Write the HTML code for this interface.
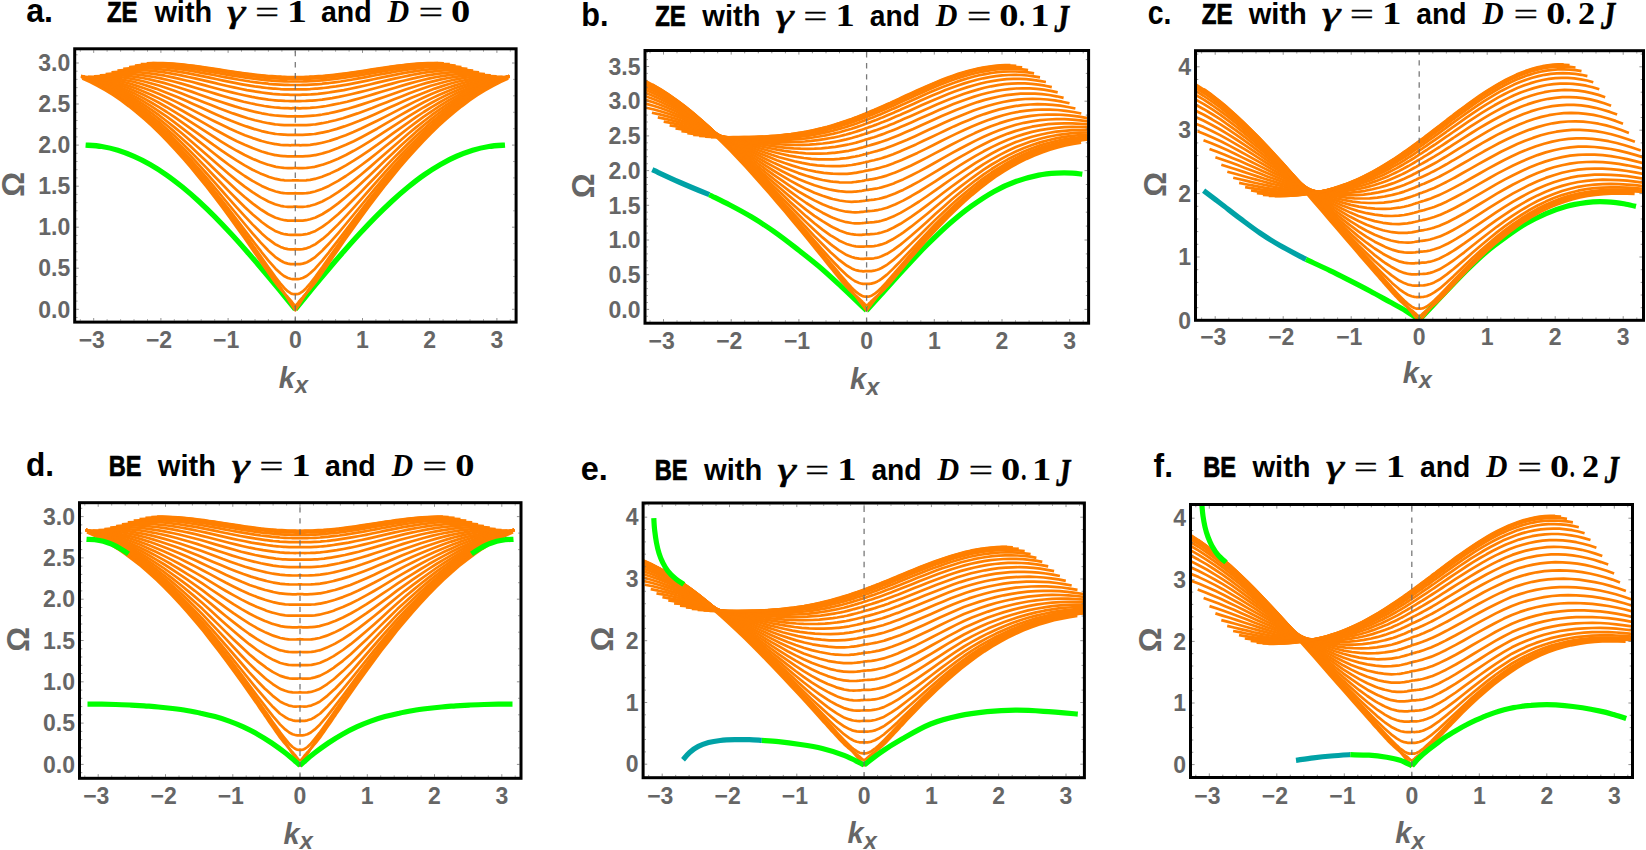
<!DOCTYPE html>
<html><head><meta charset="utf-8"><title>Magnon bands ZE BE</title>
<style>html,body{margin:0;padding:0;background:#fff}svg{display:block}.t{font-family:"Liberation Sans",sans-serif;font-weight:bold;fill:#000}.m{font-family:"Liberation Serif",serif;font-weight:bold;fill:#000}.mi{font-family:"Liberation Serif",serif;font-weight:bold;font-style:italic;fill:#000}.mr{font-family:"Liberation Serif",serif;fill:#000}.mri{font-family:"Liberation Serif",serif;font-style:italic;fill:#000}.k{font-family:"Liberation Sans",sans-serif;font-weight:bold;fill:#666}.ki{font-family:"Liberation Sans",sans-serif;font-weight:bold;font-style:italic;fill:#666}</style></head>
<body>
<svg width="1646" height="850" viewBox="0 0 1646 850">
<rect width="1646" height="850" fill="#fff"/>
<defs>
<clipPath id="cpa"><rect x="75.8" y="49.9" width="439.2" height="271.1"/></clipPath>
<clipPath id="cpb"><rect x="646.1" y="51.6" width="441.4" height="270.5"/></clipPath>
<clipPath id="cpc"><rect x="1196.6" y="51.8" width="445.8" height="267.4"/></clipPath>
<clipPath id="cpd"><rect x="80.6" y="503.8" width="439.3" height="273.4"/></clipPath>
<clipPath id="cpe"><rect x="644.2" y="504.1" width="439.1" height="272.5"/></clipPath>
<clipPath id="cpf"><rect x="1191.6" y="505.6" width="439.8" height="270.8"/></clipPath>
</defs>
<g id="panel-a">
<g clip-path="url(#cpa)" fill="none" stroke-linejoin="round">
<path d="M85.6,145.1C88.3,145.3 96.4,145.6 101.8,146.5C107.1,147.4 112.5,148.6 117.9,150.2C123.3,151.9 128.6,153.9 134,156.3C139.4,158.6 144.8,161.4 150.1,164.5C155.5,167.6 160.9,171 166.3,174.8C171.7,178.5 177,182.7 182.4,187C187.8,191.4 193.2,196.1 198.5,201C203.9,206 209.3,211.2 214.7,216.6C220,222 225.4,227.7 230.8,233.5C236.2,239.3 241.5,245.3 246.9,251.5C252.3,257.6 257.7,263.9 263,270.3C268.4,276.6 273.8,283.1 279.2,289.6C284.5,296.1 292.6,306 295.3,309.3" stroke="#00FF00" stroke-width="5.3"/>
<path d="M295.3,309.3C298,306 306.1,296.1 311.4,289.6C316.8,283.1 322.2,276.6 327.6,270.3C332.9,263.9 338.3,257.6 343.7,251.5C349.1,245.3 354.4,239.3 359.8,233.5C365.2,227.7 370.6,222 375.9,216.6C381.3,211.2 386.7,206 392.1,201C397.4,196.1 402.8,191.4 408.2,187C413.6,182.7 418.9,178.5 424.3,174.8C429.7,171 435.1,167.6 440.5,164.5C445.8,161.4 451.2,158.6 456.6,156.3C462,153.9 467.3,151.9 472.7,150.2C478.1,148.6 483.5,147.4 488.8,146.5C494.2,145.6 502.3,145.3 505,145.1" stroke="#00FF00" stroke-width="5.3"/>
<g stroke="#FF7F00" stroke-width="2.7">
<path d="M82.4,76.3L90.2,79.8 97.9,83.7 105.6,88 113.4,92.8 121.1,98.1 128.9,103.7 136.6,109.9 144.3,116.4 152.1,123.4 159.8,130.8 167.6,138.6 175.3,146.8 183,155.4 190.8,164.3 198.5,173.6 206.3,183.2 214,193.1 221.8,203.3 229.5,213.7 237.2,224.4 245,235.3 252.7,246.4 260.5,257.6 261.7,259.4 268.2,269 268.4,269.3 275.1,279.2 275.9,280.4 280.5,287.3 283.7,292.2 284.5,293.5 287.9,298.8 290.6,303.1 291.4,304.4 292.6,306.2 294,308.3 295.3,310.3 296.6,308.3 298,306.2 299.2,304.4 300,303.1 302.7,298.8 306.1,293.5 306.9,292.2 310.1,287.3 314.7,280.4 315.5,279.2 322.2,269.3 322.4,269 328.9,259.4 330.1,257.6 337.9,246.4 345.6,235.3 353.4,224.4 361.1,213.7 368.8,203.3 376.6,193.1 384.3,183.2 392.1,173.6 399.8,164.3 407.6,155.4 415.3,146.8 423,138.6 430.8,130.8 438.5,123.4 446.3,116.4 454,109.9 461.7,103.7 469.5,98.1 477.2,92.8 485,88 492.7,83.7 500.4,79.8 508.2,76.3"/>
<path d="M81.2,75.8L88.9,79.2 96.7,83 104.5,87.3 112.3,92 120.1,97.2 127.9,102.8 135.7,108.9 143.5,115.4 151.2,122.3 159,129.7 166.8,137.5 174.6,145.7 182.4,154.3 190.2,163.2 198,172.5 205.8,182 213.5,191.9 221.3,202.1 229.1,212.5 236.9,223.1 244.7,233.9 252.5,244.8 260.3,255.8 261.7,257.8 268,266.8 268.4,267.3 275.1,276.6 275.8,277.5 280.5,283.5 283.6,287.2 284.5,288.2 287.9,291.4 290.6,293.2 291.4,293.6 292.6,294 294,294.2 295.3,294.1 296.6,294.2 298,294 299.2,293.6 300,293.2 302.7,291.4 306.1,288.2 307,287.2 310.1,283.5 314.8,277.5 315.5,276.6 322.2,267.3 322.6,266.8 328.9,257.8 330.3,255.8 338.1,244.8 345.9,233.9 353.7,223.1 361.5,212.5 369.3,202.1 377.1,191.9 384.8,182 392.6,172.5 400.4,163.2 408.2,154.3 416,145.7 423.8,137.5 431.6,129.7 439.4,122.3 447.1,115.4 454.9,108.9 462.7,102.8 470.5,97.2 478.3,92 486.1,87.3 493.9,83 501.7,79.2 509.4,75.8"/>
<path d="M81.2,75.9L88.9,79.2 96.7,82.9 104.5,87.1 112.3,91.7 120.1,96.8 127.9,102.3 135.7,108.2 143.5,114.6 151.2,121.5 159,128.7 166.8,136.4 174.6,144.5 182.4,152.9 190.2,161.7 198,170.8 205.8,180.1 213.5,189.8 221.3,199.6 229.1,209.7 236.9,219.9 244.7,230.1 252.5,240.4 260.3,250.4 261.7,252.3 268,260.1 268.4,260.6 275.1,268.2 275.8,268.9 280.5,273.3 283.6,275.7 284.5,276.3 287.9,278 290.6,278.8 291.4,279 292.6,279.1 294,279.1 295.3,279 296.6,279.1 298,279.1 299.2,279 300,278.8 302.7,278 306.1,276.3 307,275.7 310.1,273.3 314.8,268.9 315.5,268.2 322.2,260.6 322.6,260.1 328.9,252.3 330.3,250.4 338.1,240.4 345.9,230.1 353.7,219.9 361.5,209.7 369.3,199.6 377.1,189.8 384.8,180.1 392.6,170.8 400.4,161.7 408.2,152.9 416,144.5 423.8,136.4 431.6,128.7 439.4,121.5 447.1,114.6 454.9,108.2 462.7,102.3 470.5,96.8 478.3,91.7 486.1,87.1 493.9,82.9 501.7,79.2 509.4,75.9"/>
<path d="M81.2,75.9L88.9,79.1 96.7,82.7 104.5,86.7 112.3,91.2 120.1,96.1 127.9,101.4 135.7,107.2 143.5,113.4 151.2,120.1 159,127.1 166.8,134.6 174.6,142.4 182.4,150.6 190.2,159.1 198,167.9 205.8,176.9 213.5,186.1 221.3,195.5 229.1,205 236.9,214.5 244.7,224 252.5,233.3 260.3,242.2 261.7,243.7 268,250.3 268.4,250.7 275.1,256.8 275.8,257.4 280.5,260.5 283.6,262.2 284.5,262.6 287.9,263.6 290.6,264.1 291.4,264.1 292.6,264.2 294,264.1 295.3,264 296.6,264.1 298,264.2 299.2,264.1 300,264.1 302.7,263.6 306.1,262.6 307,262.2 310.1,260.5 314.8,257.4 315.5,256.8 322.2,250.7 322.6,250.3 328.9,243.7 330.3,242.2 338.1,233.3 345.9,224 353.7,214.5 361.5,205 369.3,195.5 377.1,186.1 384.8,176.9 392.6,167.9 400.4,159.1 408.2,150.6 416,142.4 423.8,134.6 431.6,127.1 439.4,120.1 447.1,113.4 454.9,107.2 462.7,101.4 470.5,96.1 478.3,91.2 486.1,86.7 493.9,82.7 501.7,79.1 509.4,75.9"/>
<path d="M81.2,76L88.9,78.9 96.7,82.3 104.5,86.2 112.3,90.4 120.1,95.1 127.9,100.2 135.7,105.8 143.5,111.7 151.2,118.1 159,124.9 166.8,132 174.6,139.6 182.4,147.4 190.2,155.5 198,163.9 205.8,172.5 213.5,181.2 221.3,190 229.1,198.8 236.9,207.6 244.7,216.1 252.5,224.4 260.3,232 261.7,233.4 268,238.9 268.4,239.2 275.1,244.1 275.8,244.5 280.5,246.9 283.6,248.1 284.5,248.4 287.9,249.1 290.6,249.4 291.4,249.4 292.6,249.4 294,249.3 295.3,249.2 296.6,249.3 298,249.4 299.2,249.4 300,249.4 302.7,249.1 306.1,248.4 307,248.1 310.1,246.9 314.8,244.5 315.5,244.1 322.2,239.2 322.6,238.9 328.9,233.4 330.3,232 338.1,224.4 345.9,216.1 353.7,207.6 361.5,198.8 369.3,190 377.1,181.2 384.8,172.5 392.6,163.9 400.4,155.5 408.2,147.4 416,139.6 423.8,132 431.6,124.9 439.4,118.1 447.1,111.7 454.9,105.8 462.7,100.2 470.5,95.1 478.3,90.4 486.1,86.2 493.9,82.3 501.7,78.9 509.4,76"/>
<path d="M81.2,76.1L88.9,78.8 96.7,81.9 104.5,85.5 112.3,89.5 120.1,93.9 127.9,98.7 135.7,104 143.5,109.6 151.2,115.7 159,122.1 166.8,128.9 174.6,136 182.4,143.5 190.2,151.2 198,159.1 205.8,167.1 213.5,175.2 221.3,183.3 229.1,191.4 236.9,199.3 244.7,207 252.5,214.2 260.3,220.8 261.7,222 268,226.6 268.4,226.8 275.1,230.9 275.8,231.2 280.5,233.1 283.6,234 284.5,234.2 287.9,234.7 290.6,234.9 291.4,234.9 292.6,234.9 294,234.8 295.3,234.7 296.6,234.8 298,234.9 299.2,234.9 300,234.9 302.7,234.7 306.1,234.2 307,234 310.1,233.1 314.8,231.2 315.5,230.9 322.2,226.8 322.6,226.6 328.9,222 330.3,220.8 338.1,214.2 345.9,207 353.7,199.3 361.5,191.4 369.3,183.3 377.1,175.2 384.8,167.1 392.6,159.1 400.4,151.2 408.2,143.5 416,136 423.8,128.9 431.6,122.1 439.4,115.7 447.1,109.6 454.9,104 462.7,98.7 470.5,93.9 478.3,89.5 486.1,85.5 493.9,81.9 501.7,78.8 509.4,76.1"/>
<path d="M81.2,76.2L88.9,78.6 96.7,81.5 104.5,84.7 112.3,88.4 120.1,92.5 127.9,97 135.7,101.9 143.5,107.1 151.2,112.8 159,118.9 166.8,125.3 174.6,131.9 182.4,138.9 190.2,146.1 198,153.4 205.8,160.8 213.5,168.3 221.3,175.8 229.1,183.1 236.9,190.2 244.7,197 252.5,203.4 260.3,209.1 261.7,210 268,214 268.4,214.2 275.1,217.5 275.8,217.8 280.5,219.3 283.6,220 284.5,220.2 287.9,220.6 290.6,220.7 291.4,220.7 292.6,220.6 294,220.6 295.3,220.4 296.6,220.6 298,220.6 299.2,220.7 300,220.7 302.7,220.6 306.1,220.2 307,220 310.1,219.3 314.8,217.8 315.5,217.5 322.2,214.2 322.6,214 328.9,210 330.3,209.1 338.1,203.4 345.9,197 353.7,190.2 361.5,183.1 369.3,175.8 377.1,168.3 384.8,160.8 392.6,153.4 400.4,146.1 408.2,138.9 416,131.9 423.8,125.3 431.6,118.9 439.4,112.8 447.1,107.1 454.9,101.9 462.7,97 470.5,92.5 478.3,88.4 486.1,84.7 493.9,81.5 501.7,78.6 509.4,76.2"/>
<path d="M81.2,76.3L88.9,78.4 96.7,80.9 104.5,83.8 112.3,87.2 120.1,90.9 127.9,95 135.7,99.5 143.5,104.4 151.2,109.6 159,115.2 166.8,121.2 174.6,127.4 182.4,133.8 190.2,140.5 198,147.2 205.8,154 213.5,160.8 221.3,167.6 229.1,174.2 236.9,180.6 244.7,186.6 252.5,192.2 260.3,197.1 261.7,197.9 268,201.3 268.4,201.5 275.1,204.3 275.8,204.5 280.5,205.8 283.6,206.4 284.5,206.5 287.9,206.8 290.6,206.8 291.4,206.8 292.6,206.8 294,206.7 295.3,206.6 296.6,206.7 298,206.8 299.2,206.8 300,206.8 302.7,206.8 306.1,206.5 307,206.4 310.1,205.8 314.8,204.5 315.5,204.3 322.2,201.5 322.6,201.3 328.9,197.9 330.3,197.1 338.1,192.2 345.9,186.6 353.7,180.6 361.5,174.2 369.3,167.6 377.1,160.8 384.8,154 392.6,147.2 400.4,140.5 408.2,133.8 416,127.4 423.8,121.2 431.6,115.2 439.4,109.6 447.1,104.4 454.9,99.5 462.7,95 470.5,90.9 478.3,87.2 486.1,83.8 493.9,80.9 501.7,78.4 509.4,76.3"/>
<path d="M81.2,76.5L88.9,78.2 96.7,80.3 104.5,82.9 112.3,85.8 120.1,89.1 127.9,92.8 135.7,96.9 143.5,101.3 151.2,106.2 159,111.3 166.8,116.7 174.6,122.4 182.4,128.3 190.2,134.4 198,140.6 205.8,146.8 213.5,153 221.3,159.1 229.1,165 236.9,170.7 244.7,176 252.5,180.9 260.3,185.1 261.7,185.9 268,188.7 268.4,188.9 275.1,191.3 275.8,191.5 280.5,192.6 283.6,193.1 284.5,193.2 287.9,193.4 290.6,193.4 291.4,193.4 292.6,193.4 294,193.3 295.3,193.2 296.6,193.3 298,193.4 299.2,193.4 300,193.4 302.7,193.4 306.1,193.2 307,193.1 310.1,192.6 314.8,191.5 315.5,191.3 322.2,188.9 322.6,188.7 328.9,185.9 330.3,185.1 338.1,180.9 345.9,176 353.7,170.7 361.5,165 369.3,159.1 377.1,153 384.8,146.8 392.6,140.6 400.4,134.4 408.2,128.3 416,122.4 423.8,116.7 431.6,111.3 439.4,106.2 447.1,101.3 454.9,96.9 462.7,92.8 470.5,89.1 478.3,85.8 486.1,82.9 493.9,80.3 501.7,78.2 509.4,76.5"/>
<path d="M81.2,76.6L88.9,77.9 96.7,79.7 104.5,81.8 112.3,84.3 120.1,87.2 127.9,90.5 135.7,94.1 143.5,98.1 151.2,102.5 159,107.1 166.8,112 174.6,117.2 182.4,122.6 190.2,128.1 198,133.7 205.8,139.3 213.5,144.9 221.3,150.3 229.1,155.6 236.9,160.7 244.7,165.4 252.5,169.7 260.3,173.4 261.7,174 268,176.5 268.4,176.7 275.1,178.8 275.8,178.9 280.5,179.8 283.6,180.2 284.5,180.3 287.9,180.5 290.6,180.5 291.4,180.5 292.6,180.4 294,180.4 295.3,180.3 296.6,180.4 298,180.4 299.2,180.5 300,180.5 302.7,180.5 306.1,180.3 307,180.2 310.1,179.8 314.8,178.9 315.5,178.8 322.2,176.7 322.6,176.5 328.9,174 330.3,173.4 338.1,169.7 345.9,165.4 353.7,160.7 361.5,155.6 369.3,150.3 377.1,144.9 384.8,139.3 392.6,133.7 400.4,128.1 408.2,122.6 416,117.2 423.8,112 431.6,107.1 439.4,102.5 447.1,98.1 454.9,94.1 462.7,90.5 470.5,87.2 478.3,84.3 486.1,81.8 493.9,79.7 501.7,77.9 509.4,76.6"/>
<path d="M81.2,76.8L88.9,77.7 96.7,79 104.5,80.7 112.3,82.8 120.1,85.2 127.9,88.1 135.7,91.2 143.5,94.8 151.2,98.6 159,102.8 166.8,107.2 174.6,111.9 182.4,116.7 190.2,121.7 198,126.7 205.8,131.7 213.5,136.7 221.3,141.6 229.1,146.3 236.9,150.8 244.7,155 252.5,158.7 260.3,162 261.7,162.5 268,164.7 268.4,164.8 275.1,166.6 275.8,166.8 280.5,167.5 283.6,167.9 284.5,168 287.9,168.1 290.6,168.1 291.4,168.1 292.6,168.1 294,168 295.3,167.9 296.6,168 298,168.1 299.2,168.1 300,168.1 302.7,168.1 306.1,168 307,167.9 310.1,167.5 314.8,166.8 315.5,166.6 322.2,164.8 322.6,164.7 328.9,162.5 330.3,162 338.1,158.7 345.9,155 353.7,150.8 361.5,146.3 369.3,141.6 377.1,136.7 384.8,131.7 392.6,126.7 400.4,121.7 408.2,116.7 416,111.9 423.8,107.2 431.6,102.8 439.4,98.6 447.1,94.8 454.9,91.2 462.7,88.1 470.5,85.2 478.3,82.8 486.1,80.7 493.9,79 501.7,77.7 509.4,76.8"/>
<path d="M81.2,76.9L88.9,77.4 96.7,78.3 104.5,79.6 112.3,81.2 120.1,83.2 127.9,85.6 135.7,88.3 143.5,91.4 151.2,94.7 159,98.4 166.8,102.3 174.6,106.5 182.4,110.8 190.2,115.2 198,119.7 205.8,124.2 213.5,128.7 221.3,133 229.1,137.2 236.9,141.2 244.7,144.8 252.5,148.1 260.3,151 261.7,151.5 268,153.4 268.4,153.5 275.1,155.1 275.8,155.2 280.5,155.8 283.6,156.2 284.5,156.2 287.9,156.4 290.6,156.4 291.4,156.4 292.6,156.3 294,156.3 295.3,156.2 296.6,156.3 298,156.3 299.2,156.4 300,156.4 302.7,156.4 306.1,156.2 307,156.2 310.1,155.8 314.8,155.2 315.5,155.1 322.2,153.5 322.6,153.4 328.9,151.5 330.3,151 338.1,148.1 345.9,144.8 353.7,141.2 361.5,137.2 369.3,133 377.1,128.7 384.8,124.2 392.6,119.7 400.4,115.2 408.2,110.8 416,106.5 423.8,102.3 431.6,98.4 439.4,94.7 447.1,91.4 454.9,88.3 462.7,85.6 470.5,83.2 478.3,81.2 486.1,79.6 493.9,78.3 501.7,77.4 509.4,76.9"/>
<path d="M82.2,77.1L89.9,77.2 97.7,77.7 105.4,78.5 113.2,79.8 120.9,81.4 128.7,83.3 136.4,85.6 144.2,88.2 151.9,91.1 159.7,94.3 167.4,97.7 175.2,101.4 182.9,105.2 190.7,109.1 198.4,113.1 206.2,117.1 213.9,121 221.7,124.8 229.4,128.5 237.2,132 244.9,135.2 252.7,138.1 260.4,140.6 261.7,141 268.2,142.7 268.4,142.7 275.1,144.1 275.9,144.2 280.5,144.8 283.7,145.1 284.5,145.1 287.9,145.2 290.6,145.3 291.4,145.2 292.6,145.2 294,145.2 295.3,145.1 296.6,145.2 298,145.2 299.2,145.2 300,145.3 302.7,145.2 306.1,145.1 306.9,145.1 310.1,144.8 314.7,144.2 315.5,144.1 322.2,142.7 322.4,142.7 328.9,141 330.2,140.6 337.9,138.1 345.7,135.2 353.4,132 361.2,128.5 368.9,124.8 376.7,121 384.4,117.1 392.2,113.1 399.9,109.1 407.7,105.2 415.4,101.4 423.2,97.7 430.9,94.3 438.7,91.1 446.4,88.2 454.2,85.6 461.9,83.3 469.7,81.4 477.4,79.8 485.2,78.5 492.9,77.7 500.7,77.2 508.4,77.1"/>
<path d="M88,76.9L95.6,76.9 103.1,77.2 110.6,77.8 118.2,78.8 125.7,80.2 133.3,81.8 140.8,83.8 148.3,86.1 155.9,88.6 163.4,91.4 170.9,94.4 178.5,97.5 186,100.8 193.6,104.2 201.1,107.6 208.6,111 216.2,114.4 223.7,117.7 231.2,120.8 238.8,123.7 246.3,126.4 253.8,128.9 261.4,131 261.7,131.1 268.4,132.6 268.9,132.7 275.1,133.8 276.5,134 280.5,134.4 284,134.7 284.5,134.7 287.9,134.8 290.6,134.8 291.5,134.8 292.6,134.8 294,134.8 295.3,134.7 296.6,134.8 298,134.8 299.1,134.8 300,134.8 302.7,134.8 306.1,134.7 306.6,134.7 310.1,134.4 314.1,134 315.5,133.8 321.7,132.7 322.2,132.6 328.9,131.1 329.2,131 336.8,128.9 344.3,126.4 351.8,123.7 359.4,120.8 366.9,117.7 374.4,114.4 382,111 389.5,107.6 397,104.2 404.6,100.8 412.1,97.5 419.7,94.4 427.2,91.4 434.7,88.6 442.3,86.1 449.8,83.8 457.3,81.8 464.9,80.2 472.4,78.8 480,77.8 487.5,77.2 495,76.9 502.6,76.9"/>
<path d="M93.9,76.3L101.2,76.1 108.5,76.3 115.9,76.7 123.2,77.5 130.5,78.6 137.8,80 145.2,81.7 152.5,83.7 159.8,85.8 167.1,88.2 174.5,90.8 181.8,93.5 189.1,96.4 196.4,99.3 203.8,102.2 211.1,105.1 218.4,108 225.7,110.7 233,113.4 240.4,115.9 247.7,118.2 255,120.2 261.7,121.8 262.3,122 268.4,123.2 269.7,123.4 275.1,124.3 277,124.5 280.5,124.8 284.3,125.1 284.5,125.1 287.9,125.2 290.6,125.2 291.6,125.2 292.6,125.1 294,125.1 295.3,125.1 296.6,125.1 298,125.1 299,125.2 300,125.2 302.7,125.2 306.1,125.1 306.3,125.1 310.1,124.8 313.6,124.5 315.5,124.3 320.9,123.4 322.2,123.2 328.3,122 328.9,121.8 335.6,120.2 342.9,118.2 350.2,115.9 357.6,113.4 364.9,110.7 372.2,108 379.5,105.1 386.8,102.2 394.2,99.3 401.5,96.4 408.8,93.5 416.1,90.8 423.5,88.2 430.8,85.8 438.1,83.7 445.4,81.7 452.8,80 460.1,78.6 467.4,77.5 474.7,76.7 482.1,76.3 489.4,76.1 496.7,76.3"/>
<path d="M99.8,75.3L106.9,75 114,75 121.1,75.3 128.2,75.9 135.3,76.8 142.4,78 149.5,79.4 156.6,81.1 163.8,82.9 170.9,85 178,87.2 185.1,89.5 192.2,91.9 199.3,94.4 206.4,96.9 213.5,99.4 220.6,101.8 227.8,104.1 234.9,106.4 242,108.5 249.1,110.4 256.2,112.1 261.7,113.3 263.3,113.6 268.4,114.5 270.4,114.8 275.1,115.5 277.5,115.7 280.5,115.9 284.5,116.2 284.6,116.2 287.9,116.3 290.6,116.3 291.7,116.3 292.6,116.3 294,116.3 295.3,116.2 296.6,116.3 298,116.3 298.9,116.3 300,116.3 302.7,116.3 306,116.2 306.1,116.2 310.1,115.9 313.1,115.7 315.5,115.5 320.2,114.8 322.2,114.5 327.3,113.6 328.9,113.3 334.4,112.1 341.5,110.4 348.6,108.5 355.7,106.4 362.8,104.1 370,101.8 377.1,99.4 384.2,96.9 391.3,94.4 398.4,91.9 405.5,89.5 412.6,87.2 419.7,85 426.8,82.9 434,81.1 441.1,79.4 448.2,78 455.3,76.8 462.4,75.9 469.5,75.3 476.6,75 483.7,75 490.8,75.3"/>
<path d="M105.6,74L112.5,73.6 119.4,73.5 126.3,73.7 133.2,74.1 140.1,74.8 147,75.8 153.9,77 160.8,78.4 167.7,80 174.6,81.7 181.5,83.6 188.4,85.6 195.3,87.7 202.2,89.7 209.1,91.8 216,93.9 222.9,96 229.8,98 236.7,99.9 243.6,101.7 250.5,103.3 257.4,104.7 261.7,105.5 264.3,106 268.4,106.6 271.2,107 275.1,107.5 278.1,107.7 280.5,107.9 284.5,108.1 285,108.2 287.9,108.2 290.6,108.3 291.9,108.3 292.6,108.2 294,108.2 295.3,108.2 296.6,108.2 298,108.2 298.7,108.3 300,108.3 302.7,108.2 305.6,108.2 306.1,108.1 310.1,107.9 312.5,107.7 315.5,107.5 319.4,107 322.2,106.6 326.3,106 328.9,105.5 333.2,104.7 340.1,103.3 347,101.7 353.9,99.9 360.8,98 367.7,96 374.6,93.9 381.5,91.8 388.4,89.7 395.3,87.7 402.2,85.6 409.1,83.6 416,81.7 422.9,80 429.8,78.4 436.7,77 443.6,75.8 450.5,74.8 457.4,74.1 464.3,73.7 471.2,73.5 478.1,73.6 485,74"/>
<path d="M111.5,72.4L118.2,71.9 124.9,71.8 131.5,71.9 138.2,72.2 144.9,72.8 151.6,73.6 158.3,74.6 165,75.7 171.6,77.1 178.3,78.6 185,80.2 191.7,81.8 198.4,83.6 205.1,85.4 211.8,87.2 218.4,89 225.1,90.7 231.8,92.4 238.5,94 245.2,95.5 251.9,96.9 258.5,98.1 261.7,98.6 265.2,99.1 268.4,99.6 271.9,100 275.1,100.3 278.6,100.6 280.5,100.7 284.5,100.9 285.3,101 287.9,101 290.6,101.1 292,101.1 292.6,101.1 294,101.1 295.3,101 296.6,101.1 298,101.1 298.6,101.1 300,101.1 302.7,101 305.3,101 306.1,100.9 310.1,100.7 312,100.6 315.5,100.3 318.7,100 322.2,99.6 325.4,99.1 328.9,98.6 332.1,98.1 338.7,96.9 345.4,95.5 352.1,94 358.8,92.4 365.5,90.7 372.2,89 378.8,87.2 385.5,85.4 392.2,83.6 398.9,81.8 405.6,80.2 412.3,78.6 419,77.1 425.6,75.7 432.3,74.6 439,73.6 445.7,72.8 452.4,72.2 459.1,71.9 465.7,71.8 472.4,71.9 479.1,72.4"/>
<path d="M117.4,70.6L123.8,70.2 130.3,70 136.8,70 143.2,70.2 149.7,70.7 156.2,71.4 162.6,72.2 169.1,73.2 175.6,74.3 182.1,75.6 188.5,77 195,78.4 201.5,79.9 207.9,81.4 214.4,82.9 220.9,84.5 227.4,86 233.8,87.4 240.3,88.8 246.8,90.1 253.2,91.2 259.7,92.2 261.7,92.5 266.2,93.1 268.4,93.4 272.7,93.9 275.1,94.1 279.1,94.4 280.5,94.5 284.5,94.7 285.6,94.7 287.9,94.7 290.6,94.8 292.1,94.8 292.6,94.8 294,94.8 295.3,94.8 296.6,94.8 298,94.8 298.5,94.8 300,94.8 302.7,94.7 305,94.7 306.1,94.7 310.1,94.5 311.5,94.4 315.5,94.1 317.9,93.9 322.2,93.4 324.4,93.1 328.9,92.5 330.9,92.2 337.4,91.2 343.8,90.1 350.3,88.8 356.8,87.4 363.2,86 369.7,84.5 376.2,82.9 382.7,81.4 389.1,79.9 395.6,78.4 402.1,77 408.5,75.6 415,74.3 421.5,73.2 428,72.2 434.4,71.4 440.9,70.7 447.4,70.2 453.8,70 460.3,70 466.8,70.2 473.2,70.6"/>
<path d="M123.2,68.8L129.5,68.4 135.7,68.2 142,68.1 148.2,68.3 154.5,68.7 160.8,69.3 167,70 173.3,70.9 179.5,71.9 185.8,72.9 192.1,74.1 198.3,75.4 204.6,76.6 210.8,77.9 217.1,79.3 223.3,80.6 229.6,81.9 235.9,83.1 242.1,84.3 248.4,85.4 254.6,86.4 260.9,87.2 261.7,87.3 267.1,88 268.4,88.1 273.4,88.6 275.1,88.7 279.7,89 280.5,89.1 284.5,89.3 285.9,89.3 287.9,89.4 290.6,89.4 292.2,89.4 292.6,89.4 294,89.4 295.3,89.4 296.6,89.4 298,89.4 298.4,89.4 300,89.4 302.7,89.4 304.7,89.3 306.1,89.3 310.1,89.1 310.9,89 315.5,88.7 317.2,88.6 322.2,88.1 323.5,88 328.9,87.3 329.7,87.2 336,86.4 342.2,85.4 348.5,84.3 354.7,83.1 361,81.9 367.3,80.6 373.5,79.3 379.8,77.9 386,76.6 392.3,75.4 398.5,74.1 404.8,72.9 411.1,71.9 417.3,70.9 423.6,70 429.8,69.3 436.1,68.7 442.4,68.3 448.6,68.1 454.9,68.2 461.1,68.4 467.4,68.8"/>
<path d="M129.1,67.1L135.1,66.7 141.2,66.5 147.2,66.5 153.3,66.6 159.3,67 165.3,67.5 171.4,68.1 177.4,68.9 183.5,69.7 189.5,70.7 195.6,71.7 201.6,72.8 207.7,73.9 213.7,75 219.7,76.2 225.8,77.3 231.8,78.4 237.9,79.5 243.9,80.5 250,81.5 256,82.3 261.7,83 262.1,83.1 268.1,83.7 268.4,83.8 274.1,84.3 275.1,84.3 280.2,84.7 280.5,84.7 284.5,84.8 286.2,84.9 287.9,84.9 290.6,85 292.3,85 292.6,85 294,85 295.3,85 296.6,85 298,85 298.3,85 300,85 302.7,84.9 304.4,84.9 306.1,84.8 310.1,84.7 310.4,84.7 315.5,84.3 316.5,84.3 322.2,83.8 322.5,83.7 328.5,83.1 328.9,83 334.6,82.3 340.6,81.5 346.7,80.5 352.7,79.5 358.8,78.4 364.8,77.3 370.9,76.2 376.9,75 382.9,73.9 389,72.8 395,71.7 401.1,70.7 407.1,69.7 413.2,68.9 419.2,68.1 425.3,67.5 431.3,67 437.3,66.6 443.4,66.5 449.4,66.5 455.5,66.7 461.5,67.1"/>
<path d="M134.9,65.5L140.8,65.2 146.6,65 152.4,65.1 158.3,65.2 164.1,65.6 169.9,66 175.8,66.6 181.6,67.3 187.4,68.1 193.3,68.9 199.1,69.8 204.9,70.8 210.8,71.8 216.6,72.8 222.4,73.8 228.2,74.8 234.1,75.8 239.9,76.7 245.7,77.6 251.6,78.4 257.4,79.2 261.7,79.7 263.2,79.9 268.4,80.4 269.1,80.4 274.9,80.9 275.1,80.9 280.5,81.2 280.7,81.2 284.5,81.4 286.6,81.4 287.9,81.5 290.6,81.5 292.4,81.5 292.6,81.5 294,81.5 295.3,81.5 296.6,81.5 298,81.5 298.2,81.5 300,81.5 302.7,81.5 304,81.4 306.1,81.4 309.9,81.2 310.1,81.2 315.5,80.9 315.7,80.9 321.5,80.4 322.2,80.4 327.4,79.9 328.9,79.7 333.2,79.2 339,78.4 344.9,77.6 350.7,76.7 356.5,75.8 362.4,74.8 368.2,73.8 374,72.8 379.8,71.8 385.7,70.8 391.5,69.8 397.3,68.9 403.2,68.1 409,67.3 414.8,66.6 420.7,66 426.5,65.6 432.3,65.2 438.2,65.1 444,65 449.8,65.2 455.7,65.5"/>
<path d="M140.8,64.2L146.4,64 152,63.9 157.7,64 163.3,64.2 168.9,64.5 174.5,65 180.1,65.6 185.8,66.2 191.4,66.9 197,67.7 202.6,68.6 208.2,69.4 213.8,70.3 219.5,71.2 225.1,72.2 230.7,73.1 236.3,73.9 241.9,74.8 247.5,75.6 253.2,76.3 258.8,77 261.7,77.3 264.4,77.6 268.4,77.9 270,78.1 275.1,78.4 275.6,78.5 280.5,78.7 281.3,78.8 284.5,78.9 286.9,79 287.9,79 290.6,79 292.5,79.1 292.6,79.1 294,79.1 295.3,79.1 296.6,79.1 298,79.1 298.1,79.1 300,79 302.7,79 303.7,79 306.1,78.9 309.3,78.8 310.1,78.7 315,78.5 315.5,78.4 320.6,78.1 322.2,77.9 326.2,77.6 328.9,77.3 331.8,77 337.4,76.3 343.1,75.6 348.7,74.8 354.3,73.9 359.9,73.1 365.5,72.2 371.1,71.2 376.8,70.3 382.4,69.4 388,68.6 393.6,67.7 399.2,66.9 404.8,66.2 410.5,65.6 416.1,65 421.7,64.5 427.3,64.2 432.9,64 438.6,63.9 444.2,64 449.8,64.2"/>
<path d="M146.7,63.4L152.1,63.2 157.5,63.3 162.9,63.4 168.3,63.7 173.7,64.1 179.1,64.5 184.5,65.1 189.9,65.7 195.3,66.4 200.7,67.2 206.1,68 211.5,68.8 216.9,69.6 222.3,70.5 227.7,71.3 233.1,72.1 238.6,72.9 244,73.7 249.4,74.4 254.8,75.1 260.2,75.7 261.7,75.8 265.6,76.2 268.4,76.4 271,76.6 275.1,76.9 276.4,77 280.5,77.2 281.8,77.3 284.5,77.4 287.2,77.5 287.9,77.5 290.6,77.5 292.6,77.6 292.6,77.6 294,77.6 295.3,77.6 296.6,77.6 298,77.6 298,77.6 300,77.5 302.7,77.5 303.4,77.5 306.1,77.4 308.8,77.3 310.1,77.2 314.2,77 315.5,76.9 319.6,76.6 322.2,76.4 325,76.2 328.9,75.8 330.4,75.7 335.8,75.1 341.2,74.4 346.6,73.7 352,72.9 357.5,72.1 362.9,71.3 368.3,70.5 373.7,69.6 379.1,68.8 384.5,68 389.9,67.2 395.3,66.4 400.7,65.7 406.1,65.1 411.5,64.5 416.9,64.1 422.3,63.7 427.7,63.4 433.1,63.3 438.5,63.2 443.9,63.4"/>
<path d="M152.5,63L157.7,63 162.9,63.2 168.1,63.4 173.3,63.7 178.5,64.2 183.7,64.7 188.9,65.3 194.1,65.9 199.3,66.6 204.5,67.3 209.6,68.1 214.8,68.9 220,69.7 225.2,70.5 230.4,71.3 235.6,72.1 240.8,72.8 246,73.5 251.2,74.2 256.4,74.8 261.6,75.3 261.7,75.3 266.7,75.8 268.4,76 271.9,76.2 275.1,76.4 277.1,76.6 280.5,76.7 282.3,76.8 284.5,76.9 287.5,77 287.9,77 290.6,77.1 292.6,77.1 292.7,77.1 294,77.1 295.3,77.1 296.6,77.1 297.9,77.1 298,77.1 300,77.1 302.7,77 303.1,77 306.1,76.9 308.3,76.8 310.1,76.7 313.5,76.6 315.5,76.4 318.7,76.2 322.2,76 323.9,75.8 328.9,75.3 329,75.3 334.2,74.8 339.4,74.2 344.6,73.5 349.8,72.8 355,72.1 360.2,71.3 365.4,70.5 370.6,69.7 375.8,68.9 381,68.1 386.1,67.3 391.3,66.6 396.5,65.9 401.7,65.3 406.9,64.7 412.1,64.2 417.3,63.7 422.5,63.4 427.7,63.2 432.9,63 438.1,63"/>
<path d="M82.4,78.5L90.2,82 97.9,86 105.6,90.4 113.4,95.2 121.1,100.5 128.9,106.3 136.6,112.4 144.3,119.1 152.1,126.1 159.8,133.6 167.6,141.5 175.3,149.8 183,158.4 190.8,167.4 198.5,176.8 206.3,186.4 214,196.4 221.8,206.6 229.5,217.1 237.2,227.9 245,238.8 252.7,249.9 255,253.2 257,256.1 259,259 260.5,261.1 261,262 261.7,262.9 263,264.9 265.1,267.9 267.1,270.8 268.2,272.4 268.4,272.7 269.1,273.7 271.1,276.6 273.1,279.4 275.1,282.1 275.9,283.2 277.2,284.8 279.2,287.3 280.5,289 281.2,289.8 283.2,292.1 283.7,292.6 284.5,293.6 285.2,294.3 287.2,296.5 287.9,297.3 289.3,298.8 290.6,300.4 291.3,301.2 291.4,301.4 292.6,303 293.3,303.9 294,304.8 295.3,305.2 296.6,304.8 297.3,303.9 298,303 299.2,301.4 299.3,301.2 300,300.4 301.3,298.8 302.7,297.3 303.4,296.5 305.4,294.3 306.1,293.6 306.9,292.6 307.4,292.1 309.4,289.8 310.1,289 311.4,287.3 313.4,284.8 314.7,283.2 315.5,282.1 315.5,282.1 317.5,279.4 319.5,276.6 321.5,273.7 322.2,272.7 322.4,272.4 323.5,270.8 325.5,267.9 327.6,264.9 328.9,262.9 329.6,262 330.1,261.1 331.6,259 333.6,256.1 335.6,253.2 337.9,249.9 345.6,238.8 353.4,227.9 361.1,217.1 368.8,206.6 376.6,196.4 384.3,186.4 392.1,176.8 399.8,167.4 407.6,158.4 415.3,149.8 423,141.5 430.8,133.6 438.5,126.1 446.3,119.1 454,112.4 461.7,106.3 469.5,100.5 477.2,95.2 485,90.4 492.7,86 500.4,82 508.2,78.5"/>
</g>
<path d="M295.3,321.8 V50.3" stroke="#6a6a6a" stroke-width="1.3" stroke-dasharray="5.4 5.66" opacity="0.9"/>
</g>
<path d="M80.3,320.6v-1.3M80.3,50.3v1.3M93.7,320.6v-2.6M93.7,50.3v2.6M107.1,320.6v-1.3M107.1,50.3v1.3M120.6,320.6v-1.3M120.6,50.3v1.3M134,320.6v-1.3M134,50.3v1.3M147.5,320.6v-1.3M147.5,50.3v1.3M160.9,320.6v-2.6M160.9,50.3v2.6M174.3,320.6v-1.3M174.3,50.3v1.3M187.8,320.6v-1.3M187.8,50.3v1.3M201.2,320.6v-1.3M201.2,50.3v1.3M214.7,320.6v-1.3M214.7,50.3v1.3M228.1,320.6v-2.6M228.1,50.3v2.6M241.5,320.6v-1.3M241.5,50.3v1.3M255,320.6v-1.3M255,50.3v1.3M268.4,320.6v-1.3M268.4,50.3v1.3M281.9,320.6v-1.3M281.9,50.3v1.3M295.3,320.6v-2.6M295.3,50.3v2.6M308.7,320.6v-1.3M308.7,50.3v1.3M322.2,320.6v-1.3M322.2,50.3v1.3M335.6,320.6v-1.3M335.6,50.3v1.3M349.1,320.6v-1.3M349.1,50.3v1.3M362.5,320.6v-2.6M362.5,50.3v2.6M375.9,320.6v-1.3M375.9,50.3v1.3M389.4,320.6v-1.3M389.4,50.3v1.3M402.8,320.6v-1.3M402.8,50.3v1.3M416.3,320.6v-1.3M416.3,50.3v1.3M429.7,320.6v-2.6M429.7,50.3v2.6M443.1,320.6v-1.3M443.1,50.3v1.3M456.6,320.6v-1.3M456.6,50.3v1.3M470,320.6v-1.3M470,50.3v1.3M483.5,320.6v-1.3M483.5,50.3v1.3M496.9,320.6v-2.6M496.9,50.3v2.6M510.3,320.6v-1.3M510.3,50.3v1.3M76.2,317.5h1.3M76.2,309.3h2.6M76.2,301.1h1.3M76.2,292.9h1.3M76.2,284.7h1.3M76.2,276.5h1.3M76.2,268.2h2.6M76.2,260h1.3M76.2,251.8h1.3M76.2,243.6h1.3M76.2,235.4h1.3M76.2,227.2h2.6M76.2,219h1.3M76.2,210.8h1.3M76.2,202.6h1.3M76.2,194.4h1.3M76.2,186.2h2.6M76.2,177.9h1.3M76.2,169.7h1.3M76.2,161.5h1.3M76.2,153.3h1.3M76.2,145.1h2.6M76.2,136.9h1.3M76.2,128.7h1.3M76.2,120.5h1.3M76.2,112.3h1.3M76.2,104h2.6M76.2,95.8h1.3M76.2,87.6h1.3M76.2,79.4h1.3M76.2,71.2h1.3M76.2,63h2.6M76.2,54.8h1.3M514.6,309.3h-2.6M514.6,292.9h-1.3M514.6,276.5h-1.3M514.6,260h-1.3M514.6,243.6h-1.3M514.6,227.2h-2.6M514.6,210.8h-1.3M514.6,194.4h-1.3M514.6,177.9h-1.3M514.6,161.5h-1.3M514.6,145.1h-2.6M514.6,128.7h-1.3M514.6,112.3h-1.3M514.6,95.8h-1.3M514.6,79.4h-1.3M514.6,63h-2.6" stroke="#777" stroke-width="0.8" fill="none"/>
<rect x="74.7" y="48.8" width="441.4" height="273.3" fill="none" stroke="#000" stroke-width="3.0"/>
<text class="k" x="91.8" y="347.9" font-size="23" text-anchor="middle">−3</text>
<text class="k" x="159" y="347.9" font-size="23" text-anchor="middle">−2</text>
<text class="k" x="226.2" y="347.9" font-size="23" text-anchor="middle">−1</text>
<text class="k" x="295.3" y="347.9" font-size="23" text-anchor="middle">0</text>
<text class="k" x="362.5" y="347.9" font-size="23" text-anchor="middle">1</text>
<text class="k" x="429.7" y="347.9" font-size="23" text-anchor="middle">2</text>
<text class="k" x="496.9" y="347.9" font-size="23" text-anchor="middle">3</text>
<text class="k" x="70.2" y="317.5" font-size="23" text-anchor="end">0.0</text>
<text class="k" x="70.2" y="276.4" font-size="23" text-anchor="end">0.5</text>
<text class="k" x="70.2" y="235.4" font-size="23" text-anchor="end">1.0</text>
<text class="k" x="70.2" y="194.4" font-size="23" text-anchor="end">1.5</text>
<text class="k" x="70.2" y="153.3" font-size="23" text-anchor="end">2.0</text>
<text class="k" x="70.2" y="112.3" font-size="23" text-anchor="end">2.5</text>
<text class="k" x="70.2" y="71.2" font-size="23" text-anchor="end">3.0</text>
<text class="ki" x="278.8" y="387.5" font-size="29">k<tspan font-size="23.5" dy="5.3">x</tspan></text>
<text class="k" font-size="31" text-anchor="middle" transform="translate(24,184.4) rotate(-90)">Ω</text>
</g>
<g id="panel-b">
<g clip-path="url(#cpb)" fill="none" stroke-linejoin="round">
<path d="M652.3,169.7C656.9,171.8 670.7,178.3 680.2,182.5C689.7,186.7 704.4,192.7 709.3,194.7" stroke="#00A2A6" stroke-width="5.2"/>
<path d="M709.3,194.7C712.6,196.4 722.3,201.1 729.4,204.8C736.5,208.5 744.2,212.6 751.7,217.1C759.2,221.6 766.7,226.4 774.1,231.6C781.5,236.8 789,242.6 796.4,248.4C803.8,254.2 811.3,260 818.8,266.3C826.2,272.6 833.6,279.5 841.1,286.4C848.6,293.3 859.2,303.6 863.5,307.6C867.8,311.6 866.1,310 866.6,310.5" stroke="#00FF00" stroke-width="5.2"/>
<path d="M866.6,310.5C869.2,307.6 875.9,300.2 882.3,293.2C888.6,286.2 897.2,276.4 904.7,268.4C912.2,260.4 919.5,252.4 927,245C934.5,237.6 941.9,230.3 949.4,223.8C956.9,217.3 964.2,211.3 971.7,205.9C979.2,200.5 986.7,195.5 994.1,191.4C1001.5,187.3 1009,184 1016.4,181.3C1023.8,178.6 1032.1,176.5 1038.8,175.1C1045.5,173.7 1051,173.4 1056.6,173.1C1062.2,172.8 1068,172.9 1072.3,173.1C1076.6,173.3 1080.6,174 1082.3,174.2" stroke="#00FF00" stroke-width="5.2"/>
<g stroke="#FF7F00" stroke-width="2.7">
<path d="M652.1,84.3L659.9,88.9 667.7,93.9 675.5,99.3 683.3,105.1 691.1,111.4 698.9,118 706.7,124.9 714.5,132.2 722.3,139.7 730.1,147.6 737.9,155.7 745.7,164 753.5,172.5 761.3,181.2 769.1,190.1 776.9,199.2 784.7,208.4 792.5,217.7 800.3,227.1 808.1,236.6 815.9,246.2 823.7,255.8 831.5,265.5 832.8,267 839.3,275.2 839.5,275.5 846.3,283.9 847.1,285 851.7,290.8 854.9,295 855.8,296.1 859.2,300.6 861.9,304.3 862.7,305.4 863.9,306.9 865.2,308.7 866.6,310.4 868,308.7 869.3,306.9 870.5,305.4 871.3,304.3 874,300.6 877.4,296.1 878.3,295 881.5,290.9 886.1,285.1 886.9,284 893.7,275.7 893.9,275.4 900.5,267.4 901.7,265.9 909.5,256.6 917.3,247.6 925.1,238.7 932.9,230.2 940.7,221.9 948.5,214 956.3,206.4 964.1,199.2 971.9,192.4 979.7,186.1 987.5,180.1 995.3,174.6 1003.1,169.5 1010.9,164.8 1018.7,160.5 1026.5,156.7 1034.3,153.3 1042.1,150.3 1049.9,147.7 1057.7,145.4 1065.5,143.5 1073.3,141.9 1081.1,140.6"/>
<path d="M645.1,80.9L653.2,85.2 661.3,89.9 669.3,95.2 677.4,100.8 685.4,106.9 693.5,113.4 701.6,120.3 709.6,127.6 717.7,135.2 725.7,143.1 733.8,151.3 741.9,159.7 749.9,168.4 758,177.3 766,186.4 774.1,195.6 782.2,205 790.2,214.5 798.3,224.1 806.3,233.8 814.4,243.5 822.5,253.3 830.5,263 832.8,265.7 838.6,272.7 839.5,273.8 846.3,281.7 846.6,282.2 851.7,287.6 854.7,290.6 855.8,291.6 859.2,294.3 861.9,295.8 862.8,296.1 863.9,296.4 865.2,296.6 866.6,296.6 868,296.6 869.3,296.4 870.8,296 871.3,295.8 874,294.2 877.4,291.6 878.9,290.2 881.5,287.6 886.9,281.8 887,281.7 893.7,274 895,272.4 900.5,266.1 903.1,263 911.1,253.7 919.2,244.5 927.3,235.5 935.3,226.9 943.4,218.5 951.4,210.5 959.5,202.9 967.6,195.7 975.6,188.9 983.7,182.5 991.7,176.6 999.8,171.1 1007.9,166.1 1015.9,161.6 1024,157.5 1032,153.9 1040.1,150.7 1048.2,147.9 1056.2,145.5 1064.3,143.5 1072.3,141.8 1080.4,140.5 1088.5,139.4"/>
<path d="M645.1,81.7L653.2,85.9 661.3,90.6 669.3,95.7 677.4,101.3 685.4,107.3 693.5,113.7 701.6,120.5 709.6,127.6 717.7,135.1 725.7,142.9 733.8,150.9 741.9,159.2 749.9,167.8 758,176.5 766,185.4 774.1,194.5 782.2,203.6 790.2,212.8 798.3,222.1 806.3,231.4 814.4,240.7 822.5,249.8 830.5,258.8 832.8,261.2 838.6,267.3 839.5,268.3 846.3,274.8 846.6,275.1 851.7,279 854.7,281 855.8,281.6 859.2,283 861.9,283.7 862.8,283.8 863.9,283.9 865.2,283.9 866.6,283.8 868,283.9 869.3,283.8 870.8,283.7 871.3,283.6 874,282.9 877.4,281.4 878.9,280.6 881.5,278.9 886.9,274.6 887,274.6 893.7,268.1 895,266.8 900.5,261.2 903.1,258.4 911.1,249.8 919.2,241.2 927.3,232.6 935.3,224.3 943.4,216.2 951.4,208.4 959.5,200.9 967.6,193.9 975.6,187.2 983.7,180.9 991.7,175.1 999.8,169.7 1007.9,164.7 1015.9,160.3 1024,156.3 1032,152.7 1040.1,149.6 1048.2,146.9 1056.2,144.6 1064.3,142.6 1072.3,141 1080.4,139.8 1088.5,138.8"/>
<path d="M645.1,83L653.2,87.1 661.3,91.6 669.3,96.6 677.4,102.1 685.4,107.9 693.5,114.2 701.6,120.8 709.6,127.8 717.7,135 725.7,142.6 733.8,150.4 741.9,158.5 749.9,166.8 758,175.2 766,183.8 774.1,192.5 782.2,201.3 790.2,210.1 798.3,218.8 806.3,227.5 814.4,236.1 822.5,244.3 830.5,252.2 832.8,254.2 838.6,259.4 839.5,260.2 846.3,265.3 846.6,265.5 851.7,268.4 854.7,269.7 855.8,270.1 859.2,270.9 861.9,271.2 862.8,271.3 863.9,271.3 865.2,271.2 866.6,271.1 868,271.2 869.3,271.2 870.8,271.1 871.3,271.1 874,270.7 877.4,269.7 878.9,269.2 881.5,268 886.9,264.8 887,264.8 893.7,259.6 895,258.5 900.5,253.7 903.1,251.3 911.1,243.6 919.2,235.7 927.3,227.8 935.3,219.9 943.4,212.2 951.4,204.8 959.5,197.6 967.6,190.8 975.6,184.3 983.7,178.2 991.7,172.5 999.8,167.3 1007.9,162.5 1015.9,158.1 1024,154.2 1032,150.8 1040.1,147.8 1048.2,145.3 1056.2,143.1 1064.3,141.2 1072.3,139.8 1080.4,138.6 1088.5,137.7"/>
<path d="M645.1,84.8L653.2,88.7 661.3,93.1 669.3,97.9 677.4,103.1 685.4,108.8 693.5,114.8 701.6,121.2 709.6,127.9 717.7,134.9 725.7,142.2 733.8,149.7 741.9,157.5 749.9,165.4 758,173.5 766,181.7 774.1,189.9 782.2,198.1 790.2,206.3 798.3,214.5 806.3,222.4 814.4,230.1 822.5,237.4 830.5,244.1 832.8,245.9 838.6,250.1 839.5,250.7 846.3,254.8 846.6,255 851.7,257 854.7,257.9 855.8,258.2 859.2,258.7 861.9,258.9 862.8,258.9 863.9,258.8 865.2,258.7 866.6,258.6 868,258.7 869.3,258.7 870.8,258.6 871.3,258.6 874,258.3 877.4,257.6 878.9,257.2 881.5,256.3 886.9,253.8 887,253.8 893.7,249.6 895,248.6 900.5,244.6 903.1,242.5 911.1,235.8 919.2,228.7 927.3,221.4 935.3,214.1 943.4,206.9 951.4,199.8 959.5,193 967.6,186.5 975.6,180.3 983.7,174.4 991.7,169 999.8,163.9 1007.9,159.3 1015.9,155.2 1024,151.5 1032,148.2 1040.1,145.4 1048.2,143 1056.2,141 1064.3,139.3 1072.3,138 1080.4,137 1088.5,136.3"/>
<path d="M645.1,87L653.2,90.7 661.3,94.9 669.3,99.5 677.4,104.5 685.4,109.9 693.5,115.6 701.6,121.7 709.6,128.1 717.7,134.8 725.7,141.7 733.8,148.9 741.9,156.2 749.9,163.7 758,171.3 766,179 774.1,186.7 782.2,194.3 790.2,201.9 798.3,209.3 806.3,216.4 814.4,223.2 822.5,229.6 830.5,235.3 832.8,236.7 838.6,240.2 839.5,240.7 846.3,243.9 846.6,244 851.7,245.5 854.7,246.2 855.8,246.4 859.2,246.7 861.9,246.7 862.8,246.7 863.9,246.6 865.2,246.5 866.6,246.3 868,246.4 869.3,246.4 870.8,246.3 871.3,246.3 874,246.1 877.4,245.5 878.9,245.1 881.5,244.4 886.9,242.4 887,242.3 893.7,238.7 895,237.9 900.5,234.4 903.1,232.6 911.1,226.7 919.2,220.3 927.3,213.7 935.3,207 943.4,200.3 951.4,193.7 959.5,187.4 967.6,181.2 975.6,175.3 983.7,169.7 991.7,164.5 999.8,159.8 1007.9,155.4 1015.9,151.5 1024,148 1032,145 1040.1,142.4 1048.2,140.2 1056.2,138.4 1064.3,136.9 1072.3,135.8 1080.4,135 1088.5,134.6"/>
<path d="M645.1,89.7L653.2,93.2 661.3,97 669.3,101.4 677.4,106.1 685.4,111.2 693.5,116.6 701.6,122.3 709.6,128.4 717.7,134.7 725.7,141.2 733.8,147.9 741.9,154.8 749.9,161.8 758,168.9 766,176 774.1,183.1 782.2,190.1 790.2,196.9 798.3,203.5 806.3,209.9 814.4,215.8 822.5,221.2 830.5,226 832.8,227.2 838.6,230 839.5,230.4 846.3,233 846.6,233.1 851.7,234.2 854.7,234.6 855.8,234.7 859.2,234.8 861.9,234.8 862.8,234.7 863.9,234.6 865.2,234.5 866.6,234.3 868,234.3 869.3,234.3 870.8,234.2 871.3,234.2 874,234 877.4,233.5 878.9,233.1 881.5,232.5 886.9,230.7 887,230.7 893.7,227.5 895,226.8 900.5,223.8 903.1,222.2 911.1,216.9 919.2,211.2 927.3,205.2 935.3,199 943.4,192.8 951.4,186.7 959.5,180.8 967.6,175 975.6,169.5 983.7,164.2 991.7,159.4 999.8,154.9 1007.9,150.8 1015.9,147.1 1024,143.9 1032,141.1 1040.1,138.8 1048.2,136.8 1056.2,135.2 1064.3,134.1 1072.3,133.2 1080.4,132.7 1088.5,132.5"/>
<path d="M645.1,92.7L653.2,95.9 661.3,99.5 669.3,103.5 677.4,107.9 685.4,112.6 693.5,117.7 701.6,123.1 709.6,128.7 717.7,134.6 725.7,140.6 733.8,146.9 741.9,153.2 749.9,159.7 758,166.2 766,172.8 774.1,179.2 782.2,185.5 790.2,191.6 798.3,197.5 806.3,203 814.4,208.1 822.5,212.7 830.5,216.7 832.8,217.7 838.6,219.9 839.5,220.2 846.3,222.2 846.6,222.2 851.7,223 854.7,223.3 855.8,223.3 859.2,223.3 861.9,223.2 862.8,223.1 863.9,223 865.2,222.8 866.6,222.6 868,222.6 869.3,222.5 870.8,222.4 871.3,222.4 874,222.2 877.4,221.7 878.9,221.4 881.5,220.7 886.9,219.1 887,219.1 893.7,216.3 895,215.6 900.5,212.9 903.1,211.4 911.1,206.7 919.2,201.5 927.3,196 935.3,190.4 943.4,184.7 951.4,179 959.5,173.5 967.6,168.1 975.6,162.9 983.7,158.1 991.7,153.5 999.8,149.3 1007.9,145.5 1015.9,142.1 1024,139.2 1032,136.7 1040.1,134.7 1048.2,133 1056.2,131.7 1064.3,130.8 1072.3,130.2 1080.4,130 1088.5,130.1"/>
<path d="M645.1,96.1L653.2,99 661.3,102.2 669.3,105.9 677.4,109.9 685.4,114.3 693.5,119 701.6,123.9 709.6,129.1 717.7,134.5 725.7,140.1 733.8,145.8 741.9,151.6 749.9,157.5 758,163.5 766,169.4 774.1,175.1 782.2,180.7 790.2,186.1 798.3,191.3 806.3,196 814.4,200.4 822.5,204.2 830.5,207.4 832.8,208.2 838.6,210 839.5,210.2 846.3,211.7 846.6,211.7 851.7,212.2 854.7,212.3 855.8,212.3 859.2,212.2 861.9,211.9 862.8,211.8 863.9,211.7 865.2,211.5 866.6,211.3 868,211.2 869.3,211.1 870.8,211 871.3,211 874,210.7 877.4,210.2 878.9,209.8 881.5,209.2 886.9,207.7 887,207.7 893.7,205 895,204.5 900.5,201.9 903.1,200.6 911.1,196.2 919.2,191.5 927.3,186.4 935.3,181.3 943.4,176 951.4,170.8 959.5,165.6 967.6,160.7 975.6,155.9 983.7,151.3 991.7,147.1 999.8,143.3 1007.9,139.8 1015.9,136.7 1024,134.1 1032,131.9 1040.1,130.1 1048.2,128.8 1056.2,127.8 1064.3,127.2 1072.3,126.9 1080.4,127 1088.5,127.4"/>
<path d="M645.1,99.7L653.2,102.2 661.3,105.2 669.3,108.5 677.4,112.1 685.4,116.1 693.5,120.3 701.6,124.8 709.6,129.6 717.7,134.5 725.7,139.5 733.8,144.7 741.9,150 749.9,155.3 758,160.7 766,165.9 774.1,171 782.2,175.9 790.2,180.6 798.3,185 806.3,189.1 814.4,192.7 822.5,195.8 830.5,198.4 832.8,199 838.6,200.3 839.5,200.5 846.3,201.5 846.6,201.5 851.7,201.8 854.7,201.7 855.8,201.7 859.2,201.4 861.9,201.1 862.8,201 863.9,200.8 865.2,200.6 866.6,200.3 868,200.3 869.3,200.1 870.8,200 871.3,199.9 874,199.6 877.4,199 878.9,198.7 881.5,198.1 886.9,196.6 887,196.6 893.7,194 895,193.5 900.5,191.1 903.1,189.9 911.1,185.8 919.2,181.4 927.3,176.7 935.3,171.9 943.4,167 951.4,162.2 959.5,157.4 967.6,152.8 975.6,148.4 983.7,144.2 991.7,140.3 999.8,136.8 1007.9,133.6 1015.9,130.9 1024,128.6 1032,126.7 1040.1,125.3 1048.2,124.2 1056.2,123.6 1064.3,123.3 1072.3,123.4 1080.4,123.8 1088.5,124.5"/>
<path d="M645.1,103.5L653.2,105.7 661.3,108.3 669.3,111.2 677.4,114.4 685.4,118 693.5,121.8 701.6,125.8 709.6,130.1 717.7,134.5 725.7,139 733.8,143.7 741.9,148.4 749.9,153.1 758,157.8 766,162.5 774.1,166.9 782.2,171.2 790.2,175.2 798.3,178.9 806.3,182.3 814.4,185.3 822.5,187.7 830.5,189.7 832.8,190.1 838.6,191.1 839.5,191.2 846.3,191.8 846.6,191.8 851.7,191.8 854.7,191.6 855.8,191.6 859.2,191.2 861.9,190.8 862.8,190.6 863.9,190.4 865.2,190.2 866.6,189.9 868,189.8 869.3,189.6 870.8,189.4 871.3,189.4 874,188.9 877.4,188.3 878.9,188 881.5,187.4 886.9,185.8 887,185.8 893.7,183.4 895,182.8 900.5,180.5 903.1,179.4 911.1,175.5 919.2,171.4 927.3,167 935.3,162.5 943.4,157.9 951.4,153.4 959.5,149 967.6,144.8 975.6,140.6 983.7,136.8 991.7,133.2 999.8,130.1 1007.9,127.2 1015.9,124.8 1024,122.8 1032,121.3 1040.1,120.2 1048.2,119.5 1056.2,119.1 1064.3,119.2 1072.3,119.6 1080.4,120.4 1088.5,121.5"/>
<path d="M646,107.7L654,109.5 662,111.7 670,114.2 678.1,117.1 686.1,120.2 694.1,123.6 702.1,127.2 710.2,130.9 718.2,134.8 726.2,138.8 734.2,142.9 742.2,147.1 750.3,151.2 758.3,155.3 766.3,159.3 774.3,163.1 782.4,166.7 790.4,170 798.4,173.1 806.4,175.8 814.5,178.1 822.5,180 830.5,181.4 832.8,181.7 838.5,182.2 839.5,182.3 846.3,182.5 846.5,182.5 851.7,182.3 854.6,182 855.8,181.9 859.2,181.4 861.9,181 862.6,180.8 863.9,180.6 865.2,180.3 866.6,180 868,179.8 869.3,179.6 870.6,179.4 871.3,179.3 874,178.8 877.4,178.1 878.6,177.8 881.5,177.1 886.7,175.6 886.9,175.5 893.7,173.1 894.7,172.7 900.5,170.3 902.7,169.3 910.7,165.7 918.7,161.7 926.8,157.6 934.8,153.4 942.8,149.2 950.8,145 958.9,140.9 966.9,136.9 974.9,133.1 982.9,129.6 991,126.3 999,123.4 1007,120.9 1015,118.8 1023,117.1 1031.1,115.8 1039.1,115 1047.1,114.6 1055.1,114.5 1063.2,114.9 1071.2,115.6 1079.2,116.7 1087.2,118.1"/>
<path d="M651.9,112.7L659.7,114.4 667.5,116.4 675.3,118.6 683.1,121.2 690.9,123.9 698.7,126.9 706.5,130 714.3,133.3 722.2,136.6 730,140.1 737.8,143.6 745.6,147.1 753.4,150.5 761.2,153.9 769,157.1 776.8,160.2 784.6,163 792.4,165.6 800.2,168 808,170 815.8,171.6 823.7,172.8 831.5,173.6 832.8,173.7 839.3,173.9 839.5,173.9 846.3,173.8 847.1,173.8 851.7,173.3 854.9,172.9 855.8,172.8 859.2,172.2 861.9,171.7 862.7,171.5 863.9,171.2 865.2,170.9 866.6,170.6 868,170.4 869.3,170.1 870.5,169.9 871.3,169.8 874,169.2 877.4,168.4 878.3,168.2 881.5,167.3 886.1,166 886.9,165.7 893.7,163.2 893.9,163.1 900.5,160.5 901.7,160 909.5,156.5 917.4,152.9 925.2,149.1 933,145.2 940.8,141.3 948.6,137.4 956.4,133.6 964.2,130 972,126.5 979.8,123.2 987.6,120.2 995.4,117.6 1003.2,115.2 1011,113.3 1018.9,111.7 1026.7,110.6 1034.5,109.8 1042.3,109.5 1050.1,109.6 1057.9,110 1065.7,110.8 1073.5,112 1081.3,113.5"/>
<path d="M657.8,117.4L665.4,118.9 673,120.6 680.6,122.6 688.2,124.8 695.8,127.2 703.3,129.8 710.9,132.4 718.5,135.2 726.1,138.1 733.7,140.9 741.3,143.8 748.9,146.7 756.5,149.5 764.1,152.2 771.7,154.8 779.3,157.2 786.9,159.3 794.5,161.3 802.1,162.9 809.7,164.3 817.2,165.3 824.8,165.9 832.4,166.2 832.8,166.2 839.5,166.1 840,166.1 846.3,165.7 847.6,165.5 851.7,165 855.2,164.4 855.8,164.3 859.2,163.6 861.9,163 862.8,162.8 863.9,162.5 865.2,162.2 866.6,161.8 868,161.6 869.3,161.3 870.4,161 871.3,160.8 874,160.2 877.4,159.3 878,159.2 881.5,158.2 885.6,156.9 886.9,156.5 893.2,154.2 893.7,154 900.5,151.2 900.8,151.1 908.4,147.8 916,144.4 923.5,140.8 931.1,137.2 938.7,133.6 946.3,130 953.9,126.4 961.5,123.1 969.1,119.9 976.7,116.8 984.3,114.1 991.9,111.6 999.5,109.4 1007.1,107.6 1014.7,106.2 1022.3,105.1 1029.9,104.5 1037.4,104.2 1045,104.3 1052.6,104.9 1060.2,105.7 1067.8,107 1075.4,108.5"/>
<path d="M663.7,121.6L671.1,122.9 678.5,124.4 685.8,126.1 693.2,128 700.6,130 708,132.2 715.3,134.4 722.7,136.7 730.1,139 737.5,141.4 744.9,143.7 752.2,146 759.6,148.2 767,150.3 774.4,152.3 781.8,154 789.1,155.6 796.5,156.9 803.9,158 811.3,158.8 818.6,159.3 826,159.4 832.8,159.3 833.4,159.3 839.5,158.9 840.8,158.7 846.3,158.1 848.2,157.8 851.7,157.2 855.5,156.5 855.8,156.4 859.2,155.7 861.9,155 862.9,154.7 863.9,154.4 865.2,154.1 866.6,153.7 868,153.4 869.3,153 870.3,152.8 871.3,152.5 874,151.8 877.4,150.9 877.7,150.8 881.5,149.6 885,148.5 886.9,147.8 892.4,145.8 893.7,145.3 899.8,142.8 900.5,142.5 907.2,139.7 914.6,136.4 921.9,133 929.3,129.6 936.7,126.2 944.1,122.8 951.4,119.5 958.8,116.4 966.2,113.4 973.6,110.6 981,108 988.3,105.7 995.7,103.7 1003.1,102 1010.5,100.6 1017.9,99.6 1025.2,99 1032.6,98.8 1040,99 1047.4,99.5 1054.7,100.4 1062.1,101.7 1069.5,103.3"/>
<path d="M669.6,125.3L676.8,126.4 683.9,127.7 691.1,129.1 698.3,130.7 705.4,132.3 712.6,134.1 719.8,135.9 726.9,137.8 734.1,139.7 741.2,141.5 748.4,143.3 755.6,145.1 762.7,146.8 769.9,148.3 777.1,149.7 784.2,150.9 791.4,151.9 798.5,152.7 805.7,153.3 812.9,153.6 820,153.6 827.2,153.3 832.8,152.9 834.4,152.8 839.5,152.2 841.5,151.9 846.3,151.2 848.7,150.8 851.7,150.1 855.8,149.2 855.9,149.2 859.2,148.3 861.9,147.6 863,147.3 863.9,147 865.2,146.6 866.6,146.2 868,145.8 869.3,145.5 870.2,145.2 871.3,144.9 874,144.1 877.3,143.1 877.4,143.1 881.5,141.8 884.5,140.7 886.9,139.9 891.7,138.1 893.7,137.3 898.8,135.2 900.5,134.5 906,132.1 913.2,129 920.3,125.7 927.5,122.5 934.7,119.2 941.8,116.1 949,113 956.1,110 963.3,107.2 970.5,104.6 977.6,102.1 984.8,99.9 992,98.1 999.1,96.5 1006.3,95.2 1013.4,94.3 1020.6,93.7 1027.8,93.5 1034.9,93.6 1042.1,94.2 1049.3,95 1056.4,96.3 1063.6,97.9"/>
<path d="M675.5,128.5L682.5,129.4 689.4,130.4 696.4,131.6 703.3,132.8 710.3,134.2 717.2,135.6 724.2,137 731.1,138.5 738.1,139.9 745,141.3 751.9,142.7 758.9,144 765.8,145.2 772.8,146.2 779.7,147.1 786.7,147.8 793.6,148.4 800.6,148.7 807.5,148.8 814.5,148.7 821.4,148.3 828.4,147.7 832.8,147.2 835.3,146.9 839.5,146.2 842.3,145.7 846.3,144.9 849.2,144.3 851.7,143.7 855.8,142.7 856.2,142.6 859.2,141.7 861.9,140.9 863.1,140.5 863.9,140.3 865.2,139.8 866.6,139.4 868,139 869.3,138.6 870.1,138.4 871.3,138 874,137.2 877,136.2 877.4,136 881.5,134.6 884,133.7 886.9,132.6 890.9,131.1 893.7,129.9 897.9,128.2 900.5,127.1 904.8,125.2 911.8,122.2 918.7,119.1 925.7,116 932.6,112.9 939.6,109.8 946.5,106.9 953.5,104.1 960.4,101.4 967.4,98.9 974.3,96.6 981.3,94.5 988.2,92.7 995.1,91.2 1002.1,90 1009,89.1 1016,88.5 1022.9,88.3 1029.9,88.4 1036.8,88.9 1043.8,89.7 1050.7,90.9 1057.7,92.4"/>
<path d="M681.4,131.2L688.2,131.8 694.9,132.6 701.6,133.5 708.4,134.5 715.1,135.6 721.8,136.6 728.6,137.7 735.3,138.8 742,139.9 748.8,140.9 755.5,141.8 762.2,142.7 769,143.4 775.7,144.1 782.4,144.5 789.2,144.8 795.9,145 802.6,144.9 809.4,144.7 816.1,144.2 822.8,143.5 829.6,142.6 832.8,142.1 836.3,141.5 839.5,140.9 843,140.1 846.3,139.4 849.8,138.5 851.7,138 855.8,136.8 856.5,136.6 859.2,135.8 861.9,134.9 863.2,134.5 863.9,134.3 865.2,133.8 866.6,133.4 868,132.9 869.3,132.5 870,132.3 871.3,131.8 874,130.9 876.7,130 877.4,129.7 881.5,128.2 883.4,127.5 886.9,126.2 890.2,124.8 893.7,123.4 896.9,122 900.5,120.5 903.6,119.1 910.4,116.2 917.1,113.2 923.8,110.2 930.6,107.2 937.3,104.3 944,101.4 950.8,98.7 957.5,96.2 964.2,93.8 971,91.6 977.7,89.6 984.4,87.8 991.2,86.3 997.9,85.1 1004.6,84.2 1011.4,83.6 1018.1,83.4 1024.8,83.4 1031.6,83.8 1038.3,84.6 1045,85.7 1051.8,87.1"/>
<path d="M687.3,133.2L693.8,133.8 700.4,134.4 706.9,135 713.4,135.8 719.9,136.5 726.4,137.3 733,138.1 739.5,138.8 746,139.6 752.5,140.2 759,140.8 765.6,141.3 772.1,141.7 778.6,142 785.1,142.1 791.6,142 798.2,141.8 804.7,141.5 811.2,140.9 817.7,140.1 824.2,139.2 830.7,138 832.8,137.7 837.3,136.7 839.5,136.2 843.8,135.1 846.3,134.5 850.3,133.4 851.7,133 855.8,131.7 856.8,131.4 859.2,130.6 861.9,129.7 863.3,129.2 863.9,129 865.2,128.5 866.6,128 868,127.6 869.3,127.1 869.9,126.9 871.3,126.4 874,125.4 876.4,124.6 877.4,124.2 881.5,122.6 882.9,122.1 886.9,120.5 889.4,119.4 893.7,117.6 895.9,116.6 900.5,114.7 902.5,113.8 909,110.9 915.5,108 922,105.1 928.5,102.2 935,99.4 941.6,96.7 948.1,94.1 954.6,91.6 961.1,89.3 967.6,87.1 974.2,85.2 980.7,83.5 987.2,82 993.7,80.8 1000.2,79.9 1006.8,79.2 1013.3,78.9 1019.8,78.9 1026.3,79.2 1032.8,79.8 1039.4,80.8 1045.9,82"/>
<path d="M693.2,134.8L699.5,135.2 705.8,135.6 712.2,136.1 718.5,136.6 724.8,137.1 731.1,137.7 737.4,138.2 743.7,138.6 750,139.1 756.3,139.4 762.6,139.7 768.9,139.9 775.2,140 781.5,139.9 787.8,139.8 794.1,139.4 800.4,139 806.7,138.3 813,137.5 819.3,136.5 825.6,135.4 831.9,134 832.8,133.9 838.2,132.5 839.5,132.2 844.5,130.8 846.3,130.3 850.8,129 851.7,128.7 855.8,127.4 857.1,126.9 859.2,126.2 861.9,125.3 863.4,124.7 863.9,124.5 865.2,124 866.6,123.5 868,123 869.3,122.5 869.8,122.4 871.3,121.8 874,120.8 876.1,120 877.4,119.4 881.5,117.8 882.4,117.5 886.9,115.6 888.7,114.8 893.7,112.7 895,112.1 900.5,109.7 901.3,109.3 907.6,106.5 913.9,103.7 920.2,100.8 926.5,98.1 932.8,95.3 939.1,92.7 945.4,90.1 951.7,87.7 958,85.5 964.3,83.4 970.6,81.5 976.9,79.8 983.2,78.3 989.5,77.1 995.8,76.1 1002.1,75.4 1008.4,75 1014.7,74.8 1021,75 1027.4,75.5 1033.7,76.3 1040,77.4"/>
<path d="M699.1,135.9L705.2,136.2 711.3,136.5 717.4,136.8 723.5,137.1 729.6,137.4 735.7,137.7 741.8,138 747.9,138.3 753.9,138.5 760,138.6 766.1,138.6 772.2,138.5 778.3,138.4 784.4,138.1 790.5,137.7 796.6,137.1 802.7,136.4 808.8,135.6 814.8,134.6 820.9,133.4 827,132.1 832.8,130.7 833.1,130.6 839.2,129 839.5,128.9 845.3,127.2 846.3,126.9 851.4,125.3 851.7,125.2 855.8,123.8 857.5,123.2 859.2,122.6 861.9,121.6 863.6,121 863.9,120.8 865.2,120.3 866.6,119.8 868,119.3 869.3,118.8 869.6,118.6 871.3,118 874,116.9 875.7,116.2 877.4,115.5 881.5,113.9 881.8,113.7 886.9,111.6 887.9,111.1 893.7,108.6 894,108.4 900.1,105.7 900.5,105.6 906.2,103 912.3,100.2 918.4,97.5 924.4,94.8 930.5,92.1 936.6,89.5 942.7,87 948.8,84.7 954.9,82.5 961,80.4 967.1,78.5 973.2,76.8 979.3,75.3 985.3,74.1 991.4,73 997.5,72.2 1003.6,71.7 1009.7,71.5 1015.8,71.5 1021.9,71.8 1028,72.4 1034.1,73.3"/>
<path d="M705.1,136.7L710.9,136.8 716.8,137 722.7,137.1 728.6,137.3 734.4,137.5 740.3,137.6 746.2,137.7 752,137.8 757.9,137.8 763.8,137.7 769.7,137.5 775.5,137.3 781.4,136.9 787.3,136.4 793.2,135.8 799,135.1 804.9,134.3 810.8,133.3 816.7,132.1 822.5,130.9 828.4,129.4 832.8,128.3 834.3,127.9 839.5,126.4 840.2,126.2 846,124.3 846.3,124.3 851.7,122.4 851.9,122.4 855.8,121 857.8,120.3 859.2,119.8 861.9,118.7 863.7,118 863.9,117.9 865.2,117.4 866.6,116.9 868,116.3 869.3,115.8 869.5,115.7 871.3,115 874,113.9 875.4,113.3 877.4,112.5 881.3,110.8 881.5,110.8 886.9,108.4 887.2,108.3 893,105.7 893.7,105.4 898.9,103 900.5,102.3 904.8,100.3 910.7,97.7 916.5,95 922.4,92.4 928.3,89.8 934.2,87.3 940,84.8 945.9,82.5 951.8,80.3 957.7,78.3 963.5,76.4 969.4,74.7 975.3,73.2 981.2,71.9 987,70.8 992.9,69.9 998.8,69.2 1004.6,68.9 1010.5,68.7 1016.4,68.9 1022.3,69.3 1028.1,70"/>
<path d="M711,137.1L716.6,137.1 722.3,137.2 727.9,137.3 733.6,137.3 739.3,137.4 744.9,137.4 750.6,137.4 756.2,137.3 761.9,137.1 767.6,136.9 773.2,136.6 778.9,136.2 784.5,135.7 790.2,135.1 795.9,134.3 801.5,133.5 807.2,132.5 812.8,131.4 818.5,130.2 824.2,128.9 829.8,127.4 832.8,126.6 835.5,125.8 839.5,124.5 841.1,124 846.3,122.3 846.8,122.2 851.7,120.5 852.5,120.2 855.8,119 858.1,118.1 859.2,117.7 861.9,116.7 863.8,115.9 863.9,115.9 865.2,115.3 866.6,114.8 868,114.2 869.3,113.7 869.4,113.6 871.3,112.9 874,111.7 875.1,111.3 877.4,110.3 880.7,108.9 881.5,108.5 886.4,106.4 886.9,106.1 892.1,103.8 893.7,103.1 897.7,101.2 900.5,100 903.4,98.6 909,96 914.7,93.4 920.4,90.9 926,88.4 931.7,85.9 937.3,83.6 943,81.3 948.7,79.1 954.3,77.1 960,75.2 965.6,73.5 971.3,71.9 977,70.5 982.6,69.4 988.3,68.4 993.9,67.6 999.6,67.1 1005.3,66.8 1010.9,66.8 1016.6,67 1022.2,67.4"/>
<path d="M716.9,137.2L722.3,137.2 727.8,137.3 733.2,137.3 738.6,137.3 744.1,137.2 749.5,137.1 755,137 760.4,136.8 765.9,136.6 771.3,136.2 776.8,135.8 782.2,135.3 787.7,134.7 793.1,134 798.5,133.2 804,132.3 809.4,131.2 814.9,130.1 820.3,128.8 825.8,127.5 831.2,126 832.8,125.5 836.7,124.3 839.5,123.4 842.1,122.6 846.3,121.2 847.5,120.8 851.7,119.3 853,118.8 855.8,117.8 858.4,116.8 859.2,116.5 861.9,115.4 863.9,114.6 863.9,114.6 865.2,114.1 866.6,113.5 868,113 869.3,112.4 869.3,112.4 871.3,111.6 874,110.4 874.8,110.1 877.4,109 880.2,107.7 881.5,107.2 885.7,105.3 886.9,104.8 891.1,102.9 893.7,101.7 896.5,100.4 900.5,98.6 902,97.9 907.4,95.4 912.9,92.9 918.3,90.4 923.8,87.9 929.2,85.6 934.7,83.2 940.1,81 945.5,78.9 951,76.9 956.4,75 961.9,73.2 967.3,71.6 972.8,70.2 978.2,68.9 983.7,67.8 989.1,67 994.6,66.3 1000,65.8 1005.4,65.6 1010.9,65.6 1016.3,65.8"/>
<path d="M722.8,137.3L728,137.3 733.2,137.2 738.5,137.2 743.7,137.2 748.9,137.1 754.2,136.9 759.4,136.7 764.6,136.5 769.8,136.2 775.1,135.8 780.3,135.3 785.5,134.7 790.8,134.1 796,133.3 801.2,132.5 806.5,131.6 811.7,130.5 816.9,129.3 822.1,128.1 827.4,126.7 832.6,125.2 832.8,125.2 837.8,123.6 839.5,123.1 843.1,121.9 846.3,120.8 848.3,120.1 851.7,118.9 853.5,118.2 855.8,117.4 858.8,116.2 859.2,116.1 861.9,115 863.9,114.2 864,114.2 865.2,113.7 866.6,113.1 868,112.5 869.2,112 869.3,112 871.3,111.1 874,110 874.4,109.8 877.4,108.5 879.7,107.5 881.5,106.7 884.9,105.2 886.9,104.3 890.1,102.9 893.7,101.2 895.4,100.5 900.5,98.1 900.6,98 905.8,95.6 911.1,93.2 916.3,90.8 921.5,88.5 926.7,86.2 932,83.9 937.2,81.7 942.4,79.6 947.7,77.6 952.9,75.7 958.1,73.9 963.4,72.3 968.6,70.8 973.8,69.5 979,68.3 984.3,67.3 989.5,66.5 994.7,65.8 1000,65.4 1005.2,65.2 1010.4,65.2"/>
<path d="M652.1,86.6L659.9,91.2 667.7,96.3 675.5,101.8 683.3,107.7 691.1,114 698.9,120.6 706.7,127.6 714.5,134.9 722.3,142.5 730.1,150.4 737.9,158.6 745.7,166.9 753.5,175.5 761.3,184.3 769.1,193.2 776.9,202.3 784.7,211.5 792.5,220.8 800.3,230.2 808.1,239.7 815.9,249.3 823.7,259 826,261.8 828,264.3 830,266.8 831.5,268.7 832.1,269.4 832.8,270.2 834.1,271.9 836.1,274.4 838.2,276.9 839.3,278.3 839.5,278.5 840.2,279.4 842.2,281.8 844.3,284.2 846.3,286.5 847.1,287.4 848.3,288.7 850.4,290.8 851.7,292.1 852.4,292.7 854.4,294.6 854.9,295 855.8,295.8 856.4,296.4 858.5,298.1 859.2,298.7 860.5,299.9 861.9,301.2 862.5,301.9 862.7,302.1 863.9,303.3 864.6,304 865.2,304.8 866.6,305.2 868,304.8 868.6,304 869.3,303.3 870.5,302.1 870.7,301.9 871.3,301.2 872.7,299.9 874,298.7 874.7,298.1 876.8,296.4 877.4,295.8 878.3,295 878.8,294.6 880.8,292.7 881.5,292.1 882.8,290.8 884.9,288.7 886.1,287.4 886.9,286.6 886.9,286.6 888.9,284.3 891,281.9 893,279.5 893.7,278.7 893.9,278.5 895,277.1 897.1,274.7 899.1,272.2 900.5,270.6 901.1,269.8 901.7,269.1 903.2,267.3 905.2,264.9 907.2,262.4 909.5,259.7 917.3,250.6 925.1,241.7 932.9,233.1 940.7,224.8 948.5,216.8 956.3,209.2 964.1,201.9 971.9,195.1 979.7,188.6 987.5,182.6 995.3,177 1003.1,171.8 1010.9,167.1 1018.7,162.8 1026.5,158.9 1034.3,155.5 1042.1,152.4 1049.9,149.8 1057.7,147.5 1065.5,145.5 1073.3,143.9 1081.1,142.6"/>
</g>
<path d="M866.6,322.9 V52" stroke="#6a6a6a" stroke-width="1.3" stroke-dasharray="5.4 5.66" opacity="0.9"/>
</g>
<path d="M650,321.7v-1.3M650,52v1.3M663.5,321.7v-2.6M663.5,52v2.6M677,321.7v-1.3M677,52v1.3M690.6,321.7v-1.3M690.6,52v1.3M704.1,321.7v-1.3M704.1,52v1.3M717.7,321.7v-1.3M717.7,52v1.3M731.2,321.7v-2.6M731.2,52v2.6M744.7,321.7v-1.3M744.7,52v1.3M758.3,321.7v-1.3M758.3,52v1.3M771.8,321.7v-1.3M771.8,52v1.3M785.4,321.7v-1.3M785.4,52v1.3M798.9,321.7v-2.6M798.9,52v2.6M812.4,321.7v-1.3M812.4,52v1.3M826,321.7v-1.3M826,52v1.3M839.5,321.7v-1.3M839.5,52v1.3M853.1,321.7v-1.3M853.1,52v1.3M866.6,321.7v-2.6M866.6,52v2.6M880.1,321.7v-1.3M880.1,52v1.3M893.7,321.7v-1.3M893.7,52v1.3M907.2,321.7v-1.3M907.2,52v1.3M920.8,321.7v-1.3M920.8,52v1.3M934.3,321.7v-2.6M934.3,52v2.6M947.8,321.7v-1.3M947.8,52v1.3M961.4,321.7v-1.3M961.4,52v1.3M974.9,321.7v-1.3M974.9,52v1.3M988.5,321.7v-1.3M988.5,52v1.3M1002,321.7v-2.6M1002,52v2.6M1015.5,321.7v-1.3M1015.5,52v1.3M1029.1,321.7v-1.3M1029.1,52v1.3M1042.6,321.7v-1.3M1042.6,52v1.3M1056.2,321.7v-1.3M1056.2,52v1.3M1069.7,321.7v-2.6M1069.7,52v2.6M1083.2,321.7v-1.3M1083.2,52v1.3M646.5,316.3h1.3M646.5,309.4h2.6M646.5,302.5h1.3M646.5,295.5h1.3M646.5,288.6h1.3M646.5,281.6h1.3M646.5,274.7h2.6M646.5,267.8h1.3M646.5,260.8h1.3M646.5,253.9h1.3M646.5,246.9h1.3M646.5,240h2.6M646.5,233.1h1.3M646.5,226.1h1.3M646.5,219.2h1.3M646.5,212.2h1.3M646.5,205.3h2.6M646.5,198.4h1.3M646.5,191.4h1.3M646.5,184.5h1.3M646.5,177.5h1.3M646.5,170.6h2.6M646.5,163.7h1.3M646.5,156.7h1.3M646.5,149.8h1.3M646.5,142.8h1.3M646.5,135.9h2.6M646.5,129h1.3M646.5,122h1.3M646.5,115.1h1.3M646.5,108.1h1.3M646.5,101.2h2.6M646.5,94.3h1.3M646.5,87.3h1.3M646.5,80.4h1.3M646.5,73.4h1.3M646.5,66.5h2.6M646.5,59.6h1.3M646.5,52.6h1.3M1087.1,309.4h-2.6M1087.1,295.5h-1.3M1087.1,281.6h-1.3M1087.1,267.8h-1.3M1087.1,253.9h-1.3M1087.1,240h-2.6M1087.1,226.1h-1.3M1087.1,212.2h-1.3M1087.1,198.4h-1.3M1087.1,184.5h-1.3M1087.1,170.6h-2.6M1087.1,156.7h-1.3M1087.1,142.8h-1.3M1087.1,129h-1.3M1087.1,115.1h-1.3M1087.1,101.2h-2.6M1087.1,87.3h-1.3M1087.1,73.4h-1.3M1087.1,59.6h-1.3" stroke="#777" stroke-width="0.8" fill="none"/>
<rect x="645" y="50.5" width="443.6" height="272.7" fill="none" stroke="#000" stroke-width="3.0"/>
<text class="k" x="661.6" y="349.2" font-size="23" text-anchor="middle">−3</text>
<text class="k" x="729.3" y="349.2" font-size="23" text-anchor="middle">−2</text>
<text class="k" x="797" y="349.2" font-size="23" text-anchor="middle">−1</text>
<text class="k" x="866.6" y="349.2" font-size="23" text-anchor="middle">0</text>
<text class="k" x="934.3" y="349.2" font-size="23" text-anchor="middle">1</text>
<text class="k" x="1002" y="349.2" font-size="23" text-anchor="middle">2</text>
<text class="k" x="1069.7" y="349.2" font-size="23" text-anchor="middle">3</text>
<text class="k" x="640.5" y="317.6" font-size="23" text-anchor="end">0.0</text>
<text class="k" x="640.5" y="282.9" font-size="23" text-anchor="end">0.5</text>
<text class="k" x="640.5" y="248.2" font-size="23" text-anchor="end">1.0</text>
<text class="k" x="640.5" y="213.5" font-size="23" text-anchor="end">1.5</text>
<text class="k" x="640.5" y="178.8" font-size="23" text-anchor="end">2.0</text>
<text class="k" x="640.5" y="144.1" font-size="23" text-anchor="end">2.5</text>
<text class="k" x="640.5" y="109.4" font-size="23" text-anchor="end">3.0</text>
<text class="k" x="640.5" y="74.7" font-size="23" text-anchor="end">3.5</text>
<text class="ki" x="850.1" y="389.3" font-size="29">k<tspan font-size="23.5" dy="5.3">x</tspan></text>
<text class="k" font-size="31" text-anchor="middle" transform="translate(594.3,185.8) rotate(-90)">Ω</text>
</g>
<g id="panel-c">
<g clip-path="url(#cpc)" fill="none" stroke-linejoin="round">
<path d="M1203.6,190.6C1206.3,192.7 1213.9,198.4 1220,203C1226.1,207.6 1233.3,213.4 1240,218.4C1246.7,223.4 1253.3,228.5 1260,233C1266.7,237.5 1272.3,241.2 1280,245.6C1287.7,250 1301.7,257.1 1306,259.4" stroke="#00A2A6" stroke-width="5.2"/>
<path d="M1306,259.4C1310,261.3 1322.7,267.1 1330,270.6C1337.3,274.1 1343.3,277.2 1350,280.6C1356.7,284 1363.3,287.4 1370,291C1376.7,294.6 1384,298.7 1390,302C1396,305.3 1401.1,308 1406,311C1410.9,314 1417,318.5 1419.2,320" stroke="#00FF00" stroke-width="5.2"/>
<path d="M1419.2,320C1422,317 1428.2,310.4 1436,302.2C1443.8,294 1457.7,279.3 1466,271C1474.3,262.7 1479.3,257.9 1486,252.2C1492.7,246.5 1499.3,241.8 1506,237C1512.7,232.2 1519.3,227.5 1526,223.6C1532.7,219.7 1539.3,216.5 1546,213.6C1552.7,210.7 1559.3,208.2 1566,206.4C1572.7,204.6 1580.3,203.4 1586,202.6C1591.7,201.8 1595,201.6 1600,201.6C1605,201.6 1611.7,202.2 1616,202.6C1620.3,203 1622.7,203.6 1626,204.2C1629.3,204.8 1634.3,206 1636,206.4" stroke="#00FF00" stroke-width="5.2"/>
<g stroke="#FF7F00" stroke-width="2.7">
<path d="M1203.8,89.1L1211.6,94.7 1219.4,100.9 1227.3,107.4 1235.1,114.4 1242.9,121.7 1250.8,129.4 1258.6,137.3 1266.4,145.5 1274.3,153.9 1282.1,162.5 1289.9,171.3 1297.8,180.2 1305.6,189.2 1313.4,198.2 1321.3,207.3 1329.1,216.4 1336.9,225.6 1344.8,234.7 1352.6,243.8 1360.4,252.9 1368.3,262 1376.1,271 1383.9,280 1385.2,281.5 1391.8,289 1392,289.3 1398.8,297.1 1399.6,298 1404.2,303.4 1407.4,307.2 1408.3,308.3 1411.7,312.4 1414.4,315.8 1415.3,316.8 1416.5,318.2 1417.8,319.8 1419.2,321.4 1420.6,319.8 1421.9,318.2 1423.1,316.8 1424,315.8 1426.7,312.5 1430.1,308.3 1431,307.3 1434.2,303.5 1438.8,298.2 1439.6,297.3 1446.4,289.7 1446.6,289.5 1453.2,282.3 1454.5,280.9 1462.3,272.6 1470.1,264.6 1478,256.8 1485.8,249.4 1493.6,242.4 1501.5,235.8 1509.3,229.6 1517.1,223.9 1525,218.7 1532.8,213.9 1540.6,209.6 1548.5,205.9 1556.3,202.6 1564.1,199.7 1572,197.4 1579.8,195.5 1587.6,194 1595.5,192.8 1603.3,192.1 1611.1,191.7 1619,191.5 1626.8,191.6 1634.6,191.9"/>
<path d="M1195.6,84.3L1203.8,89.6 1211.9,95.4 1220.1,101.8 1228.2,108.6 1236.3,115.8 1244.5,123.5 1252.6,131.5 1260.8,139.8 1268.9,148.3 1277,157.1 1285.2,166 1293.3,175.1 1301.5,184.4 1309.6,193.7 1317.7,203.1 1325.9,212.5 1334,221.9 1342.2,231.3 1350.3,240.7 1358.4,250.1 1366.6,259.4 1374.7,268.6 1382.9,277.7 1385.2,280.3 1391,286.7 1392,287.8 1398.8,295.1 1399.1,295.5 1404.2,300.5 1407.3,303.3 1408.3,304.1 1411.7,306.6 1414.4,308 1415.4,308.3 1416.5,308.6 1417.8,308.7 1419.2,308.7 1420.6,308.7 1421.9,308.5 1423.6,308.1 1424,307.9 1426.7,306.5 1430.1,304.1 1431.7,302.7 1434.2,300.5 1439.6,295.2 1439.9,294.9 1446.4,288.1 1448,286.4 1453.2,281 1456.1,277.9 1464.3,269.5 1472.4,261.4 1480.6,253.5 1488.7,246.1 1496.8,239 1505,232.4 1513.1,226.2 1521.3,220.5 1529.4,215.4 1537.5,210.7 1545.7,206.6 1553.8,203 1562,199.9 1570.1,197.3 1578.2,195.2 1586.4,193.6 1594.5,192.4 1602.7,191.6 1610.8,191.2 1618.9,191 1627.1,191.1 1635.2,191.5 1643.4,192"/>
<path d="M1195.6,85.6L1203.8,90.9 1211.9,96.6 1220.1,102.9 1228.2,109.7 1236.3,116.8 1244.5,124.4 1252.6,132.2 1260.8,140.4 1268.9,148.8 1277,157.5 1285.2,166.3 1293.3,175.2 1301.5,184.3 1309.6,193.4 1317.7,202.6 1325.9,211.8 1334,221 1342.2,230.1 1350.3,239.2 1358.4,248.2 1366.6,257 1374.7,265.6 1382.9,274 1385.2,276.3 1391,281.9 1392,282.9 1398.8,288.8 1399.1,289.1 1404.2,292.7 1407.3,294.5 1408.3,295 1411.7,296.3 1414.4,296.9 1415.4,297 1416.5,297.1 1417.8,297.1 1419.2,297 1420.6,297.1 1421.9,297 1423.6,296.9 1424,296.8 1426.7,296.2 1430.1,294.8 1431.7,293.9 1434.2,292.4 1439.6,288.6 1439.9,288.4 1446.4,282.7 1448,281.2 1453.2,276.4 1456.1,273.6 1464.3,265.8 1472.4,258.1 1480.6,250.6 1488.7,243.4 1496.8,236.5 1505,230.1 1513.1,224 1521.3,218.5 1529.4,213.4 1537.5,208.8 1545.7,204.7 1553.8,201.2 1562,198.1 1570.1,195.6 1578.2,193.5 1586.4,192 1594.5,190.8 1602.7,190.1 1610.8,189.7 1618.9,189.6 1627.1,189.8 1635.2,190.2 1643.4,190.8"/>
<path d="M1195.6,87.9L1203.8,93 1211.9,98.7 1220.1,104.8 1228.2,111.4 1236.3,118.4 1244.5,125.8 1252.6,133.5 1260.8,141.5 1268.9,149.7 1277,158.1 1285.2,166.7 1293.3,175.4 1301.5,184.2 1309.6,193 1317.7,201.9 1325.9,210.7 1334,219.5 1342.2,228.1 1350.3,236.7 1358.4,245.1 1366.6,253.2 1374.7,261 1382.9,268.3 1385.2,270.3 1391,274.9 1392,275.7 1398.8,280.3 1399.1,280.5 1404.2,283.1 1407.3,284.3 1408.3,284.6 1411.7,285.3 1414.4,285.6 1415.4,285.6 1416.5,285.6 1417.8,285.6 1419.2,285.4 1420.6,285.5 1421.9,285.5 1423.6,285.4 1424,285.3 1426.7,284.9 1430.1,284 1431.7,283.4 1434.2,282.4 1439.6,279.5 1439.9,279.3 1446.4,274.7 1448,273.4 1453.2,269.3 1456.1,266.9 1464.3,259.9 1472.4,252.8 1480.6,245.8 1488.7,239 1496.8,232.4 1505,226.2 1513.1,220.4 1521.3,215 1529.4,210 1537.5,205.5 1545.7,201.6 1553.8,198.1 1562,195.1 1570.1,192.7 1578.2,190.7 1586.4,189.2 1594.5,188.2 1602.7,187.6 1610.8,187.3 1618.9,187.3 1627.1,187.6 1635.2,188.1 1643.4,188.8"/>
<path d="M1195.6,91L1203.8,96 1211.9,101.5 1220.1,107.5 1228.2,113.9 1236.3,120.7 1244.5,127.8 1252.6,135.3 1260.8,143 1268.9,150.9 1277,159 1285.2,167.3 1293.3,175.6 1301.5,184 1309.6,192.4 1317.7,200.9 1325.9,209.2 1334,217.4 1342.2,225.5 1350.3,233.4 1358.4,241 1366.6,248.3 1374.7,255.1 1382.9,261.3 1385.2,263 1391,266.7 1392,267.3 1398.8,270.9 1399.1,271.1 1404.2,272.9 1407.3,273.7 1408.3,273.9 1411.7,274.3 1414.4,274.4 1415.4,274.3 1416.5,274.3 1417.8,274.2 1419.2,274 1420.6,274 1421.9,274 1423.6,273.9 1424,273.9 1426.7,273.6 1430.1,272.9 1431.7,272.4 1434.2,271.5 1439.6,269.2 1439.9,269.1 1446.4,265.2 1448,264.2 1453.2,260.6 1456.1,258.5 1464.3,252.3 1472.4,245.8 1480.6,239.3 1488.7,233 1496.8,226.8 1505,220.9 1513.1,215.3 1521.3,210.2 1529.4,205.4 1537.5,201 1545.7,197.2 1553.8,193.9 1562,191 1570.1,188.7 1578.2,186.8 1586.4,185.5 1594.5,184.6 1602.7,184.1 1610.8,183.9 1618.9,184.1 1627.1,184.6 1635.2,185.2 1643.4,186.1"/>
<path d="M1195.6,94.9L1203.8,99.7 1211.9,105 1220.1,110.8 1228.2,116.9 1236.3,123.5 1244.5,130.4 1252.6,137.5 1260.8,144.9 1268.9,152.5 1277,160.2 1285.2,168 1293.3,176 1301.5,183.9 1309.6,191.8 1317.7,199.7 1325.9,207.5 1334,215.1 1342.2,222.5 1350.3,229.6 1358.4,236.4 1366.6,242.7 1374.7,248.5 1382.9,253.7 1385.2,255 1391,258 1392,258.5 1398.8,261.3 1399.1,261.4 1404.2,262.6 1407.3,263.1 1408.3,263.2 1411.7,263.4 1414.4,263.3 1415.4,263.2 1416.5,263.1 1417.8,263 1419.2,262.8 1420.6,262.8 1421.9,262.7 1423.6,262.6 1424,262.6 1426.7,262.3 1430.1,261.6 1431.7,261.2 1434.2,260.5 1439.6,258.4 1439.9,258.3 1446.4,254.9 1448,254 1453.2,250.9 1456.1,249 1464.3,243.4 1472.4,237.6 1480.6,231.6 1488.7,225.6 1496.8,219.8 1505,214.3 1513.1,209 1521.3,204.1 1529.4,199.5 1537.5,195.4 1545.7,191.7 1553.8,188.5 1562,185.9 1570.1,183.7 1578.2,182 1586.4,180.8 1594.5,180.1 1602.7,179.7 1610.8,179.8 1618.9,180.1 1627.1,180.7 1635.2,181.6 1643.4,182.6"/>
<path d="M1195.6,99.6L1203.8,104.1 1211.9,109.2 1220.1,114.7 1228.2,120.6 1236.3,126.8 1244.5,133.4 1252.6,140.2 1260.8,147.2 1268.9,154.4 1277,161.6 1285.2,169 1293.3,176.4 1301.5,183.8 1309.6,191.2 1317.7,198.5 1325.9,205.6 1334,212.5 1342.2,219.1 1350.3,225.4 1358.4,231.3 1366.6,236.8 1374.7,241.7 1382.9,245.8 1385.2,246.9 1391,249.2 1392,249.6 1398.8,251.6 1399.1,251.7 1404.2,252.4 1407.3,252.7 1408.3,252.7 1411.7,252.7 1414.4,252.5 1415.4,252.4 1416.5,252.2 1417.8,252 1419.2,251.8 1420.6,251.7 1421.9,251.6 1423.6,251.5 1424,251.4 1426.7,251.1 1430.1,250.5 1431.7,250 1434.2,249.3 1439.6,247.5 1439.9,247.4 1446.4,244.3 1448,243.5 1453.2,240.6 1456.1,238.9 1464.3,233.8 1472.4,228.4 1480.6,222.9 1488.7,217.3 1496.8,211.9 1505,206.6 1513.1,201.6 1521.3,197 1529.4,192.6 1537.5,188.7 1545.7,185.3 1553.8,182.3 1562,179.8 1570.1,177.7 1578.2,176.2 1586.4,175.3 1594.5,174.7 1602.7,174.6 1610.8,174.8 1618.9,175.3 1627.1,176.2 1635.2,177.3 1643.4,178.6"/>
<path d="M1195.6,104.8L1203.8,109.2 1211.9,114 1220.1,119.2 1228.2,124.8 1236.3,130.7 1244.5,136.8 1252.6,143.3 1260.8,149.8 1268.9,156.5 1277,163.3 1285.2,170.2 1293.3,177 1301.5,183.9 1309.6,190.6 1317.7,197.2 1325.9,203.6 1334,209.8 1342.2,215.6 1350.3,221.1 1358.4,226.2 1366.6,230.7 1374.7,234.7 1382.9,238 1385.2,238.8 1391,240.5 1392,240.7 1398.8,242.1 1399.1,242.2 1404.2,242.5 1407.3,242.6 1408.3,242.6 1411.7,242.3 1414.4,242 1415.4,241.8 1416.5,241.6 1417.8,241.4 1419.2,241.1 1420.6,241 1421.9,240.8 1423.6,240.6 1424,240.6 1426.7,240.2 1430.1,239.5 1431.7,239 1434.2,238.3 1439.6,236.5 1439.9,236.4 1446.4,233.5 1448,232.7 1453.2,230 1456.1,228.4 1464.3,223.7 1472.4,218.6 1480.6,213.4 1488.7,208.2 1496.8,203.1 1505,198.1 1513.1,193.4 1521.3,189.1 1529.4,184.9 1537.5,181.2 1545.7,177.9 1553.8,175.2 1562,172.8 1570.1,171 1578.2,169.7 1586.4,168.9 1594.5,168.6 1602.7,168.7 1610.8,169.1 1618.9,169.9 1627.1,171 1635.2,172.4 1643.4,173.9"/>
<path d="M1195.6,110.7L1203.8,114.8 1211.9,119.3 1220.1,124.1 1228.2,129.4 1236.3,134.9 1244.5,140.7 1252.6,146.6 1260.8,152.8 1268.9,159 1277,165.2 1285.2,171.5 1293.3,177.8 1301.5,184 1309.6,190.1 1317.7,196 1325.9,201.7 1334,207.1 1342.2,212.1 1350.3,216.8 1358.4,221 1366.6,224.7 1374.7,227.8 1382.9,230.2 1385.2,230.8 1391,232 1392,232.1 1398.8,232.9 1399.1,232.9 1404.2,232.9 1407.3,232.8 1408.3,232.7 1411.7,232.3 1414.4,231.8 1415.4,231.6 1416.5,231.4 1417.8,231.1 1419.2,230.7 1420.6,230.6 1421.9,230.4 1423.6,230.1 1424,230 1426.7,229.5 1430.1,228.7 1431.7,228.3 1434.2,227.6 1439.6,225.7 1439.9,225.6 1446.4,222.7 1448,222 1453.2,219.3 1456.1,217.8 1464.3,213.3 1472.4,208.5 1480.6,203.5 1488.7,198.6 1496.8,193.7 1505,189 1513.1,184.5 1521.3,180.4 1529.4,176.5 1537.5,173 1545.7,169.9 1553.8,167.3 1562,165.2 1570.1,163.6 1578.2,162.5 1586.4,162 1594.5,161.9 1602.7,162.2 1610.8,162.9 1618.9,163.9 1627.1,165.3 1635.2,166.9 1643.4,168.8"/>
<path d="M1195.6,117L1203.8,120.8 1211.9,125 1220.1,129.5 1228.2,134.3 1236.3,139.5 1244.5,144.8 1252.6,150.3 1260.8,156 1268.9,161.7 1277,167.4 1285.2,173.1 1293.3,178.7 1301.5,184.3 1309.6,189.7 1317.7,194.9 1325.9,199.8 1334,204.5 1342.2,208.7 1350.3,212.6 1358.4,215.9 1366.6,218.8 1374.7,221.1 1382.9,222.8 1385.2,223.1 1391,223.8 1392,223.9 1398.8,224.1 1399.1,224.1 1404.2,223.7 1407.3,223.4 1408.3,223.2 1411.7,222.6 1414.4,222 1415.4,221.8 1416.5,221.5 1417.8,221.2 1419.2,220.8 1420.6,220.5 1421.9,220.3 1423.6,219.9 1424,219.9 1426.7,219.2 1430.1,218.3 1431.7,217.8 1434.2,217 1439.6,215.1 1439.9,215 1446.4,212.1 1448,211.3 1453.2,208.7 1456.1,207.2 1464.3,202.8 1472.4,198.1 1480.6,193.4 1488.7,188.6 1496.8,183.9 1505,179.4 1513.1,175.2 1521.3,171.2 1529.4,167.5 1537.5,164.2 1545.7,161.4 1553.8,159 1562,157.1 1570.1,155.7 1578.2,154.8 1586.4,154.5 1594.5,154.6 1602.7,155.2 1610.8,156.1 1618.9,157.5 1627.1,159.1 1635.2,161.1 1643.4,163.3"/>
<path d="M1195.6,123.7L1203.8,127.1 1211.9,131 1220.1,135.1 1228.2,139.6 1236.3,144.3 1244.5,149.2 1252.6,154.2 1260.8,159.4 1268.9,164.5 1277,169.7 1285.2,174.8 1293.3,179.8 1301.5,184.7 1309.6,189.4 1317.7,193.9 1325.9,198.1 1334,202 1342.2,205.5 1350.3,208.5 1358.4,211.1 1366.6,213.2 1374.7,214.7 1382.9,215.7 1385.2,215.8 1391,216 1392,216 1398.8,215.7 1399.1,215.6 1404.2,215 1407.3,214.4 1408.3,214.2 1411.7,213.4 1414.4,212.7 1415.4,212.4 1416.5,212.1 1417.8,211.7 1419.2,211.2 1420.6,210.9 1421.9,210.6 1423.6,210.2 1424,210.1 1426.7,209.3 1430.1,208.3 1431.7,207.8 1434.2,206.9 1439.6,204.8 1439.9,204.7 1446.4,201.7 1448,200.9 1453.2,198.3 1456.1,196.8 1464.3,192.4 1472.4,187.8 1480.6,183.1 1488.7,178.5 1496.8,173.9 1505,169.6 1513.1,165.5 1521.3,161.7 1529.4,158.2 1537.5,155.1 1545.7,152.4 1553.8,150.2 1562,148.5 1570.1,147.3 1578.2,146.7 1586.4,146.6 1594.5,147 1602.7,147.8 1610.8,149 1618.9,150.6 1627.1,152.6 1635.2,154.9 1643.4,157.4"/>
<path d="M1197.6,131.3L1205.7,134.5 1213.7,138 1221.8,141.8 1229.8,145.9 1237.9,150.2 1245.9,154.6 1254,159.1 1262.1,163.7 1270.1,168.2 1278.2,172.8 1286.2,177.2 1294.3,181.6 1302.4,185.7 1310.4,189.7 1318.5,193.4 1326.5,196.9 1334.6,199.9 1342.6,202.6 1350.7,204.9 1358.8,206.6 1366.8,207.9 1374.9,208.7 1382.9,208.9 1385.2,208.9 1391,208.6 1392,208.5 1398.8,207.7 1399.1,207.7 1404.2,206.7 1407.1,206 1408.3,205.7 1411.7,204.7 1414.4,203.8 1415.2,203.6 1416.5,203.1 1417.8,202.7 1419.2,202.2 1420.6,201.8 1421.9,201.4 1423.2,201 1424,200.8 1426.7,199.9 1430.1,198.7 1431.3,198.3 1434.2,197.1 1439.3,195 1439.6,194.9 1446.4,191.6 1447.4,191.1 1453.2,188.1 1455.5,186.9 1463.5,182.6 1471.6,178 1479.6,173.5 1487.7,168.9 1495.8,164.5 1503.8,160.3 1511.9,156.3 1519.9,152.6 1528,149.2 1536,146.2 1544.1,143.7 1552.2,141.6 1560.2,140 1568.3,138.9 1576.3,138.3 1584.4,138.4 1592.5,138.9 1600.5,139.8 1608.6,141.2 1616.6,143 1624.7,145.2 1632.7,147.7 1640.8,150.5"/>
<path d="M1203.5,140.3L1211.4,143.3 1219.2,146.6 1227.1,150.1 1234.9,153.7 1242.7,157.6 1250.6,161.5 1258.4,165.4 1266.3,169.4 1274.1,173.3 1282,177.1 1289.8,180.8 1297.6,184.3 1305.5,187.7 1313.3,190.8 1321.2,193.7 1329,196.2 1336.9,198.4 1344.7,200.2 1352.5,201.6 1360.4,202.5 1368.2,203 1376.1,203 1383.9,202.6 1385.2,202.4 1391.8,201.6 1392,201.5 1398.8,200.3 1399.6,200.1 1404.2,198.9 1407.4,197.9 1408.3,197.6 1411.7,196.5 1414.4,195.5 1415.3,195.2 1416.5,194.7 1417.8,194.2 1419.2,193.6 1420.6,193.1 1421.9,192.7 1423.1,192.2 1424,191.9 1426.7,190.9 1430.1,189.6 1431,189.2 1434.2,187.9 1438.8,185.8 1439.6,185.4 1446.4,182 1446.6,181.9 1453.2,178.4 1454.5,177.7 1462.3,173.3 1470.2,168.9 1478,164.4 1485.9,160 1493.7,155.7 1501.5,151.5 1509.4,147.7 1517.2,144.1 1525.1,140.8 1532.9,137.9 1540.8,135.3 1548.6,133.3 1556.4,131.7 1564.3,130.6 1572.1,129.9 1580,129.8 1587.8,130.3 1595.7,131.2 1603.5,132.5 1611.3,134.3 1619.2,136.5 1627,139 1634.9,141.8"/>
<path d="M1209.5,149L1217.1,151.8 1224.7,154.7 1232.3,157.9 1240,161.1 1247.6,164.5 1255.2,167.8 1262.9,171.2 1270.5,174.5 1278.1,177.8 1285.7,180.9 1293.4,183.9 1301,186.7 1308.6,189.2 1316.2,191.6 1323.9,193.6 1331.5,195.3 1339.1,196.7 1346.7,197.7 1354.4,198.3 1362,198.5 1369.6,198.3 1377.3,197.6 1384.9,196.5 1385.2,196.4 1392,195 1392.5,194.9 1398.8,193.3 1400.1,192.9 1404.2,191.6 1407.8,190.3 1408.3,190.1 1411.7,188.8 1414.4,187.7 1415.4,187.3 1416.5,186.8 1417.8,186.2 1419.2,185.6 1420.6,185 1421.9,184.5 1423,184.1 1424,183.7 1426.7,182.5 1430.1,181 1430.6,180.8 1434.2,179.1 1438.3,177.1 1439.6,176.5 1445.9,173.1 1446.4,172.9 1453.2,169.1 1453.5,168.9 1461.1,164.5 1468.8,160.1 1476.4,155.7 1484,151.3 1491.7,147.1 1499.3,143 1506.9,139.2 1514.5,135.7 1522.2,132.5 1529.8,129.6 1537.4,127.1 1545,125 1552.7,123.3 1560.3,122.2 1567.9,121.5 1575.5,121.3 1583.2,121.6 1590.8,122.5 1598.4,123.7 1606.1,125.4 1613.7,127.5 1621.3,130 1628.9,132.9"/>
<path d="M1215.4,157.2L1222.8,159.7 1230.2,162.3 1237.6,165.1 1245,167.9 1252.5,170.8 1259.9,173.6 1267.3,176.4 1274.7,179.1 1282.1,181.7 1289.5,184.2 1296.9,186.5 1304.3,188.5 1311.7,190.4 1319.2,192 1326.6,193.3 1334,194.2 1341.4,194.9 1348.8,195.2 1356.2,195.1 1363.6,194.6 1371,193.7 1378.4,192.4 1385.2,190.9 1385.9,190.8 1392,189.1 1393.3,188.7 1398.8,186.9 1400.7,186.2 1404.2,184.9 1408.1,183.3 1408.3,183.2 1411.7,181.7 1414.4,180.4 1415.5,179.9 1416.5,179.5 1417.8,178.8 1419.2,178.1 1420.6,177.5 1421.9,176.9 1422.9,176.5 1424,176 1426.7,174.7 1430.1,173.1 1430.3,172.9 1434.2,171 1437.7,169.1 1439.6,168.1 1445.1,165 1446.4,164.3 1452.5,160.7 1453.2,160.3 1460,156.3 1467.4,151.9 1474.8,147.5 1482.2,143.2 1489.6,139 1497,134.9 1504.4,131.2 1511.8,127.7 1519.2,124.5 1526.7,121.6 1534.1,119 1541.5,116.9 1548.9,115.2 1556.3,114 1563.7,113.2 1571.1,112.9 1578.5,113.1 1585.9,113.8 1593.4,114.9 1600.8,116.5 1608.2,118.5 1615.6,120.9 1623,123.7"/>
<path d="M1221.3,164.8L1228.5,167 1235.7,169.3 1242.9,171.6 1250.1,174 1257.3,176.4 1264.5,178.7 1271.7,180.9 1278.9,183.1 1286.1,185.1 1293.3,186.9 1300.5,188.5 1307.7,189.9 1314.9,191.1 1322.1,192 1329.3,192.6 1336.5,192.9 1343.7,192.9 1350.8,192.6 1358,191.8 1365.2,190.8 1372.4,189.3 1379.6,187.5 1385.2,185.9 1386.8,185.4 1392,183.6 1394,182.9 1398.8,181.1 1401.2,180 1404.2,178.7 1408.3,176.8 1408.4,176.8 1411.7,175.2 1414.4,173.8 1415.6,173.2 1416.5,172.7 1417.8,172 1419.2,171.3 1420.6,170.6 1421.9,169.9 1422.8,169.5 1424,168.9 1426.7,167.5 1430,165.7 1430.1,165.7 1434.2,163.5 1437.2,161.8 1439.6,160.4 1444.4,157.5 1446.4,156.3 1451.6,153.2 1453.2,152.2 1458.8,148.7 1466,144.3 1473.2,139.9 1480.4,135.6 1487.6,131.4 1494.7,127.4 1501.9,123.6 1509.1,120.1 1516.3,116.9 1523.5,114 1530.7,111.4 1537.9,109.2 1545.1,107.5 1552.3,106.1 1559.5,105.3 1566.7,104.8 1573.9,104.8 1581.1,105.4 1588.3,106.4 1595.5,107.8 1602.7,109.7 1609.9,111.9 1617.1,114.6"/>
<path d="M1227.3,171.7L1234.2,173.5 1241.2,175.5 1248.2,177.5 1255.2,179.4 1262.2,181.3 1269.1,183.1 1276.1,184.8 1283.1,186.4 1290.1,187.8 1297.1,189.1 1304,190.1 1311,190.9 1318,191.5 1325,191.8 1332,191.8 1338.9,191.5 1345.9,190.9 1352.9,190 1359.9,188.7 1366.9,187.1 1373.8,185.2 1380.8,183 1385.2,181.4 1387.8,180.4 1392,178.7 1394.8,177.6 1398.8,175.8 1401.8,174.4 1404.2,173.2 1408.3,171.1 1408.7,170.9 1411.7,169.3 1414.4,167.8 1415.7,167.1 1416.5,166.7 1417.8,165.9 1419.2,165.1 1420.6,164.4 1421.9,163.6 1422.7,163.2 1424,162.5 1426.7,161 1429.7,159.2 1430.1,159 1434.2,156.6 1436.6,155.1 1439.6,153.3 1443.6,150.8 1446.4,149 1450.6,146.4 1453.2,144.7 1457.6,141.9 1464.6,137.4 1471.5,133 1478.5,128.7 1485.5,124.5 1492.5,120.5 1499.5,116.7 1506.4,113.2 1513.4,109.9 1520.4,107 1527.4,104.4 1534.4,102.1 1541.3,100.3 1548.3,98.8 1555.3,97.8 1562.3,97.2 1569.3,97.1 1576.2,97.4 1583.2,98.2 1590.2,99.4 1597.2,101.1 1604.2,103.2 1611.1,105.7"/>
<path d="M1233.2,177.7L1240,179.3 1246.7,180.9 1253.5,182.5 1260.3,184 1267,185.4 1273.8,186.8 1280.5,188 1287.3,189.1 1294.1,190 1300.8,190.7 1307.6,191.2 1314.4,191.5 1321.1,191.5 1327.9,191.2 1334.7,190.7 1341.4,189.9 1348.2,188.8 1354.9,187.4 1361.7,185.7 1368.5,183.7 1375.2,181.4 1382,178.8 1385.2,177.4 1388.8,175.9 1392,174.4 1395.5,172.7 1398.8,171.1 1402.3,169.3 1404.2,168.2 1408.3,166 1409.1,165.6 1411.7,164.1 1414.4,162.5 1415.8,161.6 1416.5,161.2 1417.8,160.4 1419.2,159.6 1420.6,158.8 1421.9,158 1422.6,157.6 1424,156.7 1426.7,155.1 1429.3,153.5 1430.1,153 1434.2,150.4 1436.1,149.2 1439.6,147 1442.9,144.8 1446.4,142.5 1449.6,140.3 1453.2,138 1456.4,135.8 1463.2,131.4 1469.9,126.9 1476.7,122.6 1483.5,118.4 1490.2,114.4 1497,110.6 1503.7,107 1510.5,103.7 1517.3,100.7 1524,98.1 1530.8,95.7 1537.6,93.7 1544.3,92.2 1551.1,91 1557.9,90.3 1564.6,89.9 1571.4,90.1 1578.1,90.6 1584.9,91.6 1591.7,93.1 1598.4,94.9 1605.2,97.2"/>
<path d="M1239.1,182.9L1245.7,184.2 1252.2,185.4 1258.8,186.6 1265.3,187.8 1271.9,188.8 1278.4,189.7 1285,190.5 1291.5,191.1 1298.1,191.5 1304.6,191.8 1311.2,191.8 1317.7,191.6 1324.3,191.1 1330.8,190.4 1337.4,189.5 1343.9,188.2 1350.4,186.7 1357,184.9 1363.5,182.8 1370.1,180.5 1376.6,177.8 1383.2,174.9 1385.2,174 1389.7,171.8 1392,170.6 1396.3,168.4 1398.8,167 1402.8,164.8 1404.2,163.9 1408.3,161.5 1409.4,160.9 1411.7,159.5 1414.4,157.8 1415.9,156.8 1416.5,156.5 1417.8,155.6 1419.2,154.7 1420.6,153.9 1421.9,153 1422.5,152.7 1424,151.7 1426.7,150 1429,148.4 1430.1,147.7 1434.2,145 1435.6,144.1 1439.6,141.4 1442.1,139.7 1446.4,136.7 1448.7,135.2 1453.2,132 1455.2,130.6 1461.8,126.1 1468.3,121.7 1474.9,117.4 1481.4,113.2 1488,109.2 1494.5,105.3 1501,101.7 1507.6,98.4 1514.1,95.3 1520.7,92.6 1527.2,90.2 1533.8,88.1 1540.3,86.4 1546.9,85 1553.4,84.1 1560,83.6 1566.5,83.5 1573.1,83.8 1579.6,84.6 1586.2,85.7 1592.7,87.3 1599.3,89.3"/>
<path d="M1245.1,187.2L1251.4,188.1 1257.7,189.1 1264.1,190 1270.4,190.7 1276.7,191.4 1283.1,191.9 1289.4,192.3 1295.7,192.5 1302.1,192.6 1308.4,192.4 1314.7,192 1321.1,191.4 1327.4,190.5 1333.7,189.4 1340.1,188.1 1346.4,186.5 1352.7,184.6 1359,182.5 1365.4,180.1 1371.7,177.5 1378,174.6 1384.4,171.5 1385.2,171.1 1390.7,168.2 1392,167.4 1397,164.6 1398.8,163.6 1403.4,160.8 1404.2,160.3 1408.3,157.7 1409.7,156.9 1411.7,155.6 1414.4,153.8 1416,152.7 1416.5,152.4 1417.8,151.5 1419.2,150.6 1420.6,149.7 1421.9,148.8 1422.4,148.5 1424,147.4 1426.7,145.6 1428.7,144.2 1430.1,143.2 1434.2,140.4 1435,139.8 1439.6,136.6 1441.4,135.3 1446.4,131.8 1447.7,130.8 1453.2,126.9 1454,126.3 1460.4,121.9 1466.7,117.4 1473,113.1 1479.4,108.9 1485.7,104.9 1492,101.1 1498.3,97.4 1504.7,94 1511,90.9 1517.3,88.1 1523.7,85.6 1530,83.4 1536.3,81.5 1542.7,80 1549,78.9 1555.3,78.2 1561.7,77.9 1568,77.9 1574.3,78.4 1580.7,79.3 1587,80.5 1593.3,82.2"/>
<path d="M1251,190.5L1257.1,191.3 1263.2,191.9 1269.4,192.5 1275.5,193 1281.6,193.3 1287.7,193.5 1293.8,193.5 1299.9,193.4 1306.1,193.1 1312.2,192.5 1318.3,191.8 1324.4,190.9 1330.5,189.7 1336.6,188.3 1342.7,186.6 1348.9,184.7 1355,182.6 1361.1,180.2 1367.2,177.6 1373.3,174.8 1379.4,171.8 1385.2,168.7 1385.6,168.5 1391.7,165 1392,164.8 1397.8,161.3 1398.8,160.7 1403.9,157.5 1404.2,157.3 1408.3,154.6 1410,153.5 1411.7,152.3 1414.4,150.5 1416.1,149.3 1416.5,149.1 1417.8,148.1 1419.2,147.2 1420.6,146.2 1421.9,145.3 1422.3,145.1 1424,143.9 1426.7,141.9 1428.4,140.7 1430.1,139.5 1434.2,136.6 1434.5,136.3 1439.6,132.6 1440.6,131.9 1446.4,127.7 1446.7,127.4 1452.8,122.9 1453.2,122.7 1459,118.5 1465.1,114.1 1471.2,109.8 1477.3,105.7 1483.4,101.6 1489.5,97.8 1495.7,94.2 1501.8,90.7 1507.9,87.6 1514,84.6 1520.1,82 1526.2,79.7 1532.3,77.7 1538.5,76.1 1544.6,74.8 1550.7,73.8 1556.8,73.3 1562.9,73.1 1569,73.3 1575.2,73.8 1581.3,74.8 1587.4,76.1"/>
<path d="M1256.9,193.1L1262.8,193.6 1268.7,194 1274.6,194.3 1280.5,194.5 1286.4,194.5 1292.3,194.4 1298.2,194.2 1304.1,193.7 1310,193.1 1315.9,192.3 1321.8,191.3 1327.7,190.1 1333.6,188.7 1339.5,187 1345.4,185.1 1351.3,183 1357.2,180.7 1363.1,178.2 1369,175.4 1374.9,172.5 1380.8,169.3 1385.2,166.8 1386.7,165.9 1392,162.8 1392.6,162.4 1398.5,158.7 1398.8,158.5 1404.2,154.9 1404.4,154.8 1408.3,152.2 1410.3,150.8 1411.7,149.8 1414.4,147.9 1416.2,146.6 1416.5,146.5 1417.8,145.5 1419.2,144.5 1420.6,143.5 1421.9,142.6 1422.2,142.4 1424,141.1 1426.7,139.1 1428.1,138.1 1430.1,136.6 1434,133.7 1434.2,133.6 1439.6,129.5 1439.9,129.3 1445.8,124.9 1446.4,124.4 1451.7,120.5 1453.2,119.3 1457.6,116.1 1463.5,111.8 1469.4,107.6 1475.3,103.4 1481.2,99.4 1487.1,95.6 1493,92 1498.9,88.5 1504.8,85.3 1510.7,82.3 1516.6,79.6 1522.5,77.2 1528.4,75.1 1534.3,73.3 1540.2,71.8 1546.1,70.6 1552,69.8 1557.9,69.4 1563.8,69.3 1569.7,69.6 1575.6,70.2 1581.5,71.2"/>
<path d="M1262.9,194.8L1268.6,195.1 1274.2,195.3 1279.9,195.3 1285.6,195.3 1291.3,195.1 1297,194.8 1302.7,194.3 1308.3,193.6 1314,192.8 1319.7,191.8 1325.4,190.5 1331.1,189.1 1336.8,187.5 1342.5,185.7 1348.1,183.6 1353.8,181.4 1359.5,179 1365.2,176.3 1370.9,173.5 1376.6,170.5 1382.2,167.2 1385.2,165.5 1387.9,163.8 1392,161.3 1393.6,160.3 1398.8,156.9 1399.3,156.6 1404.2,153.3 1405,152.7 1408.3,150.4 1410.7,148.8 1411.7,148 1414.4,146.1 1416.4,144.7 1416.5,144.6 1417.8,143.6 1419.2,142.6 1420.6,141.6 1421.9,140.6 1422,140.5 1424,139.1 1426.7,137.1 1427.7,136.3 1430.1,134.5 1433.4,132 1434.2,131.4 1439.1,127.7 1439.6,127.3 1444.8,123.3 1446.4,122.1 1450.5,119 1453.2,117 1456.2,114.7 1461.8,110.5 1467.5,106.3 1473.2,102.3 1478.9,98.3 1484.6,94.5 1490.3,90.9 1495.9,87.5 1501.6,84.2 1507.3,81.2 1513,78.4 1518.7,75.9 1524.4,73.7 1530.1,71.7 1535.7,70.1 1541.4,68.7 1547.1,67.7 1552.8,67 1558.5,66.6 1564.2,66.6 1569.8,66.9 1575.5,67.5"/>
<path d="M1268.8,195.8L1274.3,195.9 1279.7,195.9 1285.2,195.8 1290.7,195.6 1296.2,195.2 1301.6,194.7 1307.1,194 1312.6,193.2 1318,192.2 1323.5,191 1329,189.6 1334.4,188.1 1339.9,186.3 1345.4,184.4 1350.8,182.2 1356.3,179.9 1361.8,177.4 1367.2,174.7 1372.7,171.9 1378.2,168.8 1383.7,165.6 1385.2,164.7 1389.1,162.3 1392,160.4 1394.6,158.8 1398.8,156 1400.1,155.1 1404.2,152.2 1405.5,151.3 1408.3,149.4 1411,147.5 1411.7,146.9 1414.4,145 1416.5,143.5 1416.5,143.5 1417.8,142.5 1419.2,141.5 1420.6,140.4 1421.9,139.4 1421.9,139.4 1424,137.9 1426.7,135.8 1427.4,135.3 1430.1,133.3 1432.9,131.1 1434.2,130.1 1438.3,126.9 1439.6,126 1443.8,122.7 1446.4,120.7 1449.3,118.5 1453.2,115.5 1454.7,114.3 1460.2,110.2 1465.7,106.1 1471.2,102.2 1476.6,98.3 1482.1,94.6 1487.6,91 1493,87.6 1498.5,84.3 1504,81.3 1509.4,78.5 1514.9,75.9 1520.4,73.5 1525.8,71.4 1531.3,69.6 1536.8,68.1 1542.2,66.8 1547.7,65.9 1553.2,65.3 1558.7,64.9 1564.1,64.9 1569.6,65.2"/>
<path d="M1274.7,196.1L1280,196.1 1285.2,195.9 1290.5,195.7 1295.8,195.3 1301,194.8 1306.3,194.2 1311.5,193.4 1316.8,192.4 1322,191.3 1327.3,190 1332.5,188.6 1337.8,186.9 1343,185.1 1348.3,183.2 1353.5,181 1358.8,178.7 1364,176.2 1369.3,173.5 1374.5,170.7 1379.8,167.7 1385.1,164.5 1385.2,164.4 1390.3,161.2 1392,160.2 1395.6,157.8 1398.8,155.7 1400.8,154.3 1404.2,151.9 1406.1,150.6 1408.3,149 1411.3,146.9 1411.7,146.6 1414.4,144.6 1416.5,143.1 1416.6,143 1417.8,142.1 1419.2,141.1 1420.6,140.1 1421.8,139.1 1421.9,139 1424,137.5 1426.7,135.4 1427.1,135.1 1430.1,132.8 1432.3,131.1 1434.2,129.7 1437.6,127.1 1439.6,125.5 1442.8,123 1446.4,120.3 1448.1,118.9 1453.2,115 1453.3,114.9 1458.6,110.9 1463.9,107 1469.1,103.1 1474.4,99.4 1479.6,95.7 1484.9,92.2 1490.1,88.8 1495.4,85.6 1500.6,82.6 1505.9,79.7 1511.1,77.1 1516.4,74.6 1521.6,72.4 1526.9,70.5 1532.1,68.8 1537.4,67.4 1542.6,66.2 1547.9,65.3 1553.2,64.7 1558.4,64.4 1563.7,64.3"/>
<path d="M1203.8,91.5L1211.6,97.2 1219.4,103.4 1227.3,110.1 1235.1,117.1 1242.9,124.5 1250.8,132.2 1258.6,140.2 1266.4,148.4 1274.3,156.9 1282.1,165.5 1289.9,174.3 1297.8,183.2 1305.6,192.2 1313.4,201.3 1321.3,210.4 1329.1,219.5 1336.9,228.6 1344.8,237.8 1352.6,246.9 1360.4,256 1368.3,265 1376.1,274.1 1378.4,276.7 1380.4,279.1 1382.5,281.4 1383.9,283.1 1384.5,283.7 1385.2,284.5 1386.6,286.1 1388.6,288.4 1390.6,290.7 1391.8,292 1392,292.2 1392.7,293 1394.7,295.2 1396.8,297.4 1398.8,299.5 1399.6,300.3 1400.8,301.5 1402.9,303.3 1404.2,304.5 1404.9,305.1 1407,306.7 1407.4,307.1 1408.3,307.8 1409,308.3 1411,309.8 1411.7,310.3 1413.1,311.4 1414.4,312.6 1415.1,313.2 1415.3,313.3 1416.5,314.4 1417.2,315.1 1417.8,315.8 1419.2,316.2 1420.6,315.8 1421.2,315.1 1421.9,314.4 1423.1,313.3 1423.3,313.2 1424,312.6 1425.3,311.4 1426.7,310.4 1427.4,309.8 1429.4,308.3 1430.1,307.8 1431,307.1 1431.4,306.7 1433.5,305.1 1434.2,304.6 1435.5,303.4 1437.6,301.6 1438.8,300.4 1439.6,299.6 1439.6,299.6 1441.6,297.6 1443.7,295.5 1445.7,293.3 1446.4,292.6 1446.6,292.3 1447.8,291.1 1449.8,288.9 1451.8,286.7 1453.2,285.2 1453.9,284.5 1454.5,283.8 1455.9,282.3 1458,280.1 1460,277.9 1462.3,275.5 1470.1,267.4 1478,259.6 1485.8,252.1 1493.6,245 1501.5,238.4 1509.3,232.1 1517.1,226.4 1525,221 1532.8,216.2 1540.6,211.9 1548.5,208.1 1556.3,204.7 1564.1,201.9 1572,199.5 1579.8,197.5 1587.6,196 1595.5,194.9 1603.3,194.1 1611.1,193.7 1619,193.5 1626.8,193.6 1634.6,193.9"/>
</g>
<path d="M1419.2,320 V52.2" stroke="#6a6a6a" stroke-width="1.3" stroke-dasharray="5.4 5.66" opacity="0.9"/>
</g>
<path d="M1201.6,318.8v-1.3M1201.6,52.2v1.3M1215.2,318.8v-2.6M1215.2,52.2v2.6M1228.8,318.8v-1.3M1228.8,52.2v1.3M1242.4,318.8v-1.3M1242.4,52.2v1.3M1256,318.8v-1.3M1256,52.2v1.3M1269.6,318.8v-1.3M1269.6,52.2v1.3M1283.2,318.8v-2.6M1283.2,52.2v2.6M1296.8,318.8v-1.3M1296.8,52.2v1.3M1310.4,318.8v-1.3M1310.4,52.2v1.3M1324,318.8v-1.3M1324,52.2v1.3M1337.6,318.8v-1.3M1337.6,52.2v1.3M1351.2,318.8v-2.6M1351.2,52.2v2.6M1364.8,318.8v-1.3M1364.8,52.2v1.3M1378.4,318.8v-1.3M1378.4,52.2v1.3M1392,318.8v-1.3M1392,52.2v1.3M1405.6,318.8v-1.3M1405.6,52.2v1.3M1419.2,318.8v-2.6M1419.2,52.2v2.6M1432.8,318.8v-1.3M1432.8,52.2v1.3M1446.4,318.8v-1.3M1446.4,52.2v1.3M1460,318.8v-1.3M1460,52.2v1.3M1473.6,318.8v-1.3M1473.6,52.2v1.3M1487.2,318.8v-2.6M1487.2,52.2v2.6M1500.8,318.8v-1.3M1500.8,52.2v1.3M1514.4,318.8v-1.3M1514.4,52.2v1.3M1528,318.8v-1.3M1528,52.2v1.3M1541.6,318.8v-1.3M1541.6,52.2v1.3M1555.2,318.8v-2.6M1555.2,52.2v2.6M1568.8,318.8v-1.3M1568.8,52.2v1.3M1582.4,318.8v-1.3M1582.4,52.2v1.3M1596,318.8v-1.3M1596,52.2v1.3M1609.6,318.8v-1.3M1609.6,52.2v1.3M1623.2,318.8v-2.6M1623.2,52.2v2.6M1636.8,318.8v-1.3M1636.8,52.2v1.3M1197,307.7h1.3M1197,295h1.3M1197,282.4h1.3M1197,269.7h1.3M1197,257h2.6M1197,244.3h1.3M1197,231.6h1.3M1197,219h1.3M1197,206.3h1.3M1197,193.6h2.6M1197,180.9h1.3M1197,168.2h1.3M1197,155.6h1.3M1197,142.9h1.3M1197,130.2h2.6M1197,117.5h1.3M1197,104.8h1.3M1197,92.2h1.3M1197,79.5h1.3M1197,66.8h2.6M1197,54.1h1.3M1642,307.7h-1.3M1642,295h-1.3M1642,282.4h-1.3M1642,269.7h-1.3M1642,257h-2.6M1642,244.3h-1.3M1642,231.6h-1.3M1642,219h-1.3M1642,206.3h-1.3M1642,193.6h-2.6M1642,180.9h-1.3M1642,168.2h-1.3M1642,155.6h-1.3M1642,142.9h-1.3M1642,130.2h-2.6M1642,117.5h-1.3M1642,104.8h-1.3M1642,92.2h-1.3M1642,79.5h-1.3M1642,66.8h-2.6M1642,54.1h-1.3" stroke="#777" stroke-width="0.8" fill="none"/>
<rect x="1195.5" y="50.7" width="448" height="269.6" fill="none" stroke="#000" stroke-width="3.0"/>
<text class="k" x="1213.3" y="345.2" font-size="23" text-anchor="middle">−3</text>
<text class="k" x="1281.3" y="345.2" font-size="23" text-anchor="middle">−2</text>
<text class="k" x="1349.3" y="345.2" font-size="23" text-anchor="middle">−1</text>
<text class="k" x="1419.2" y="345.2" font-size="23" text-anchor="middle">0</text>
<text class="k" x="1487.2" y="345.2" font-size="23" text-anchor="middle">1</text>
<text class="k" x="1555.2" y="345.2" font-size="23" text-anchor="middle">2</text>
<text class="k" x="1623.2" y="345.2" font-size="23" text-anchor="middle">3</text>
<text class="k" x="1191" y="328.6" font-size="23" text-anchor="end">0</text>
<text class="k" x="1191" y="265.2" font-size="23" text-anchor="end">1</text>
<text class="k" x="1191" y="201.8" font-size="23" text-anchor="end">2</text>
<text class="k" x="1191" y="138.4" font-size="23" text-anchor="end">3</text>
<text class="k" x="1191" y="75" font-size="23" text-anchor="end">4</text>
<text class="ki" x="1402.7" y="383" font-size="29">k<tspan font-size="23.5" dy="5.3">x</tspan></text>
<text class="k" font-size="31" text-anchor="middle" transform="translate(1165.6,184.4) rotate(-90)">Ω</text>
</g>
<g id="panel-d">
<g clip-path="url(#cpd)" fill="none" stroke-linejoin="round">
<g stroke="#FF7F00" stroke-width="2.7">
<path d="M87,530L94.7,533.5 102.4,537.4 110.2,541.8 117.9,546.6 125.7,551.9 133.4,557.6 141.2,563.7 148.9,570.3 156.7,577.4 164.4,584.8 172.2,592.7 179.9,600.9 187.7,609.5 195.4,618.5 203.2,627.9 210.9,637.5 218.7,647.5 226.4,657.8 234.1,668.3 241.9,679 249.6,690 257.4,701.1 265.1,712.4 266.4,714.2 272.9,723.8 273.1,724.1 279.8,734.2 280.6,735.4 285.2,742.3 288.4,747.2 289.2,748.5 292.6,753.9 295.3,758.1 296.1,759.4 297.3,761.3 298.7,763.4 300,765.4 301.3,763.4 302.7,761.3 303.9,759.4 304.7,758.1 307.4,753.9 310.8,748.5 311.6,747.2 314.8,742.3 319.4,735.4 320.2,734.2 326.9,724.1 327.1,723.8 333.6,714.2 334.9,712.4 342.6,701.1 350.4,690 358.1,679 365.9,668.3 373.6,657.8 381.3,647.5 389.1,637.5 396.8,627.9 404.6,618.5 412.3,609.5 420.1,600.9 427.8,592.7 435.6,584.8 443.3,577.4 451.1,570.3 458.8,563.7 466.6,557.6 474.3,551.9 482.1,546.6 489.8,541.8 497.6,537.4 505.3,533.5 513,530"/>
<path d="M85.7,529.5L93.5,532.9 101.3,536.8 109.1,541.1 116.9,545.9 124.7,551.2 132.5,556.8 140.3,563 148,569.6 155.8,576.6 163.6,584 171.4,591.8 179.2,600 187,608.6 194.8,617.5 202.6,626.8 210.4,636.4 218.2,646.4 226,656.6 233.8,667.1 241.6,677.8 249.3,688.7 257.1,699.7 264.9,710.8 266.4,712.9 272.7,721.9 273.1,722.5 279.8,731.9 280.5,732.9 285.2,738.9 288.3,742.7 289.2,743.7 292.6,747 295.3,748.8 296.1,749.2 297.3,749.6 298.7,749.8 300,749.7 301.3,749.8 302.7,749.6 303.9,749.2 304.7,748.8 307.4,747 310.8,743.7 311.7,742.7 314.8,738.9 319.5,732.9 320.2,731.9 326.9,722.5 327.3,721.9 333.6,712.9 335.1,710.8 342.9,699.7 350.7,688.7 358.4,677.8 366.2,667.1 374,656.6 381.8,646.4 389.6,636.4 397.4,626.8 405.2,617.5 413,608.6 420.8,600 428.6,591.8 436.4,584 444.2,576.6 452,569.6 459.7,563 467.5,556.8 475.3,551.2 483.1,545.9 490.9,541.1 498.7,536.8 506.5,532.9 514.3,529.5"/>
<path d="M85.7,529.5L93.5,532.9 101.3,536.8 109.1,541.1 116.9,545.8 124.7,551 132.5,556.6 140.3,562.7 148,569.2 155.8,576.1 163.6,583.4 171.4,591.1 179.2,599.1 187,607.5 194.8,616.2 202.6,625.3 210.4,634.7 218.2,644.4 226,654.4 233.8,664.6 241.6,674.9 249.3,685.3 257.1,695.7 264.9,705.9 266.4,707.8 272.7,715.8 273.1,716.3 279.8,724.2 280.5,724.9 285.2,729.4 288.3,731.8 289.2,732.5 292.6,734.2 295.3,735 296.1,735.2 297.3,735.3 298.7,735.3 300,735.1 301.3,735.3 302.7,735.3 303.9,735.2 304.7,735 307.4,734.2 310.8,732.5 311.7,731.8 314.8,729.4 319.5,724.9 320.2,724.2 326.9,716.3 327.3,715.8 333.6,707.8 335.1,705.9 342.9,695.7 350.7,685.3 358.4,674.9 366.2,664.6 374,654.4 381.8,644.4 389.6,634.7 397.4,625.3 405.2,616.2 413,607.5 420.8,599.1 428.6,591.1 436.4,583.4 444.2,576.1 452,569.2 459.7,562.7 467.5,556.6 475.3,551 483.1,545.8 490.9,541.1 498.7,536.8 506.5,532.9 514.3,529.5"/>
<path d="M85.7,529.5L93.5,532.9 101.3,536.6 109.1,540.8 116.9,545.5 124.7,550.6 132.5,556.1 140.3,562 148,568.4 155.8,575.1 163.6,582.2 171.4,589.6 179.2,597.4 187,605.5 194.8,613.9 202.6,622.6 210.4,631.7 218.2,641.1 226,650.6 233.8,660.3 241.6,670 249.3,679.6 257.1,689.1 264.9,698.2 266.4,699.9 272.7,706.7 273.1,707.1 279.8,713.5 280.5,714 285.2,717.2 288.3,718.9 289.2,719.3 292.6,720.3 295.3,720.8 296.1,720.8 297.3,720.8 298.7,720.8 300,720.6 301.3,720.8 302.7,720.8 303.9,720.8 304.7,720.8 307.4,720.3 310.8,719.3 311.7,718.9 314.8,717.2 319.5,714 320.2,713.5 326.9,707.1 327.3,706.7 333.6,699.9 335.1,698.2 342.9,689.1 350.7,679.6 358.4,670 366.2,660.3 374,650.6 381.8,641.1 389.6,631.7 397.4,622.6 405.2,613.9 413,605.5 420.8,597.4 428.6,589.6 436.4,582.2 444.2,575.1 452,568.4 459.7,562 467.5,556.1 475.3,550.6 483.1,545.5 490.9,540.8 498.7,536.6 506.5,532.9 514.3,529.5"/>
<path d="M85.7,529.6L93.5,532.8 101.3,536.4 109.1,540.4 116.9,544.9 124.7,549.9 132.5,555.2 140.3,560.9 148,567.1 155.8,573.5 163.6,580.3 171.4,587.5 179.2,595 187,602.7 194.8,610.7 202.6,619 210.4,627.7 218.2,636.5 226,645.5 233.8,654.5 241.6,663.5 249.3,672.3 257.1,680.7 264.9,688.7 266.4,690.1 272.7,695.8 273.1,696.1 279.8,701.3 280.5,701.7 285.2,704.1 288.3,705.3 289.2,705.6 292.6,706.3 295.3,706.6 296.1,706.6 297.3,706.5 298.7,706.5 300,706.3 301.3,706.5 302.7,706.5 303.9,706.6 304.7,706.6 307.4,706.3 310.8,705.6 311.7,705.3 314.8,704.1 319.5,701.7 320.2,701.3 326.9,696.1 327.3,695.8 333.6,690.1 335.1,688.7 342.9,680.7 350.7,672.3 358.4,663.5 366.2,654.5 374,645.5 381.8,636.5 389.6,627.7 397.4,619 405.2,610.7 413,602.7 420.8,595 428.6,587.5 436.4,580.3 444.2,573.5 452,567.1 459.7,560.9 467.5,555.2 475.3,549.9 483.1,544.9 490.9,540.4 498.7,536.4 506.5,532.8 514.3,529.6"/>
<path d="M85.7,529.7L93.5,532.6 101.3,536.1 109.1,539.9 116.9,544.2 124.7,548.9 132.5,554 140.3,559.5 148,565.3 155.8,571.5 163.6,577.9 171.4,584.7 179.2,591.8 187,599.1 194.8,606.6 202.6,614.4 210.4,622.6 218.2,630.9 226,639.2 233.8,647.5 241.6,655.7 249.3,663.6 257.1,671.1 264.9,678 266.4,679.2 272.7,684 273.1,684.3 279.8,688.6 280.5,688.9 285.2,690.8 288.3,691.7 289.2,691.9 292.6,692.4 295.3,692.5 296.1,692.5 297.3,692.5 298.7,692.4 300,692.2 301.3,692.4 302.7,692.5 303.9,692.5 304.7,692.5 307.4,692.4 310.8,691.9 311.7,691.7 314.8,690.8 319.5,688.9 320.2,688.6 326.9,684.3 327.3,684 333.6,679.2 335.1,678 342.9,671.1 350.7,663.6 358.4,655.7 366.2,647.5 374,639.2 381.8,630.9 389.6,622.6 397.4,614.4 405.2,606.6 413,599.1 420.8,591.8 428.6,584.7 436.4,577.9 444.2,571.5 452,565.3 459.7,559.5 467.5,554 475.3,548.9 483.1,544.2 490.9,539.9 498.7,536.1 506.5,532.6 514.3,529.7"/>
<path d="M85.7,529.8L93.5,532.5 101.3,535.7 109.1,539.2 116.9,543.3 124.7,547.7 132.5,552.5 140.3,557.6 148,563.1 155.8,568.9 163.6,575 171.4,581.4 179.2,588 187,594.9 194.8,601.9 202.6,609.1 210.4,616.8 218.2,624.4 226,632.1 233.8,639.7 241.6,647.1 249.3,654.2 257.1,660.8 264.9,666.7 266.4,667.8 272.7,671.9 273.1,672.1 279.8,675.6 280.5,675.9 285.2,677.4 288.3,678.1 289.2,678.3 292.6,678.7 295.3,678.7 296.1,678.7 297.3,678.6 298.7,678.5 300,678.4 301.3,678.5 302.7,678.6 303.9,678.7 304.7,678.7 307.4,678.7 310.8,678.3 311.7,678.1 314.8,677.4 319.5,675.9 320.2,675.6 326.9,672.1 327.3,671.9 333.6,667.8 335.1,666.7 342.9,660.8 350.7,654.2 358.4,647.1 366.2,639.7 374,632.1 381.8,624.4 389.6,616.8 397.4,609.1 405.2,601.9 413,594.9 420.8,588 428.6,581.4 436.4,575 444.2,568.9 452,563.1 459.7,557.6 467.5,552.5 475.3,547.7 483.1,543.3 490.9,539.2 498.7,535.7 506.5,532.5 514.3,529.8"/>
<path d="M85.7,529.9L93.5,532.3 101.3,535.2 109.1,538.5 116.9,542.1 124.7,546.3 132.5,550.7 140.3,555.5 148,560.6 155.8,566 163.6,571.7 171.4,577.6 179.2,583.8 187,590.1 194.8,596.6 202.6,603.3 210.4,610.3 218.2,617.4 226,624.4 233.8,631.3 241.6,637.9 249.3,644.2 257.1,650 264.9,655.2 266.4,656.1 272.7,659.6 273.1,659.8 279.8,662.8 280.5,663 285.2,664.2 288.3,664.8 289.2,665 292.6,665.2 295.3,665.2 296.1,665.2 297.3,665.2 298.7,665.1 300,664.9 301.3,665.1 302.7,665.2 303.9,665.2 304.7,665.2 307.4,665.2 310.8,665 311.7,664.8 314.8,664.2 319.5,663 320.2,662.8 326.9,659.8 327.3,659.6 333.6,656.1 335.1,655.2 342.9,650 350.7,644.2 358.4,637.9 366.2,631.3 374,624.4 381.8,617.4 389.6,610.3 397.4,603.3 405.2,596.6 413,590.1 420.8,583.8 428.6,577.6 436.4,571.7 444.2,566 452,560.6 459.7,555.5 467.5,550.7 475.3,546.3 483.1,542.1 490.9,538.5 498.7,535.2 506.5,532.3 514.3,529.9"/>
<path d="M85.7,530L93.5,532.1 101.3,534.6 109.1,537.6 116.9,540.9 124.7,544.6 132.5,548.7 140.3,553.1 148,557.8 155.8,562.8 163.6,568 171.4,573.5 179.2,579.1 187,584.9 194.8,590.8 202.6,597 210.4,603.4 218.2,609.9 226,616.2 233.8,622.4 241.6,628.4 249.3,634 257.1,639.1 264.9,643.6 266.4,644.4 272.7,647.4 273.1,647.6 279.8,650.2 280.5,650.3 285.2,651.4 288.3,651.8 289.2,652 292.6,652.2 295.3,652.2 296.1,652.1 297.3,652.1 298.7,652 300,651.8 301.3,652 302.7,652.1 303.9,652.1 304.7,652.2 307.4,652.2 310.8,652 311.7,651.8 314.8,651.4 319.5,650.3 320.2,650.2 326.9,647.6 327.3,647.4 333.6,644.4 335.1,643.6 342.9,639.1 350.7,634 358.4,628.4 366.2,622.4 374,616.2 381.8,609.9 389.6,603.4 397.4,597 405.2,590.8 413,584.9 420.8,579.1 428.6,573.5 436.4,568 444.2,562.8 452,557.8 459.7,553.1 467.5,548.7 475.3,544.6 483.1,540.9 490.9,537.6 498.7,534.6 506.5,532.1 514.3,530"/>
<path d="M85.7,530.1L93.5,531.9 101.3,534 109.1,536.6 116.9,539.5 124.7,542.9 132.5,546.5 140.3,550.5 148,554.8 155.8,559.3 163.6,564 171.4,569 179.2,574.2 187,579.4 194.8,584.8 202.6,590.4 210.4,596.3 218.2,602.1 226,607.8 233.8,613.4 241.6,618.7 249.3,623.7 257.1,628.2 264.9,632.1 266.4,632.8 272.7,635.5 273.1,635.6 279.8,637.8 280.5,638 285.2,638.9 288.3,639.3 289.2,639.4 292.6,639.5 295.3,639.5 296.1,639.5 297.3,639.4 298.7,639.3 300,639.2 301.3,639.3 302.7,639.4 303.9,639.5 304.7,639.5 307.4,639.5 310.8,639.4 311.7,639.3 314.8,638.9 319.5,638 320.2,637.8 326.9,635.6 327.3,635.5 333.6,632.8 335.1,632.1 342.9,628.2 350.7,623.7 358.4,618.7 366.2,613.4 374,607.8 381.8,602.1 389.6,596.3 397.4,590.4 405.2,584.8 413,579.4 420.8,574.2 428.6,569 436.4,564 444.2,559.3 452,554.8 459.7,550.5 467.5,546.5 475.3,542.9 483.1,539.5 490.9,536.6 498.7,534 506.5,531.9 514.3,530.1"/>
<path d="M85.7,530.3L93.5,531.6 101.3,533.4 109.1,535.5 116.9,538 124.7,541 132.5,544.2 140.3,547.7 148,551.5 155.8,555.6 163.6,559.9 171.4,564.3 179.2,569 187,573.8 194.8,578.6 202.6,583.7 210.4,589 218.2,594.2 226,599.4 233.8,604.4 241.6,609.1 249.3,613.5 257.1,617.5 264.9,621 266.4,621.5 272.7,623.9 273.1,624 279.8,625.9 280.5,626.1 285.2,626.8 288.3,627.2 289.2,627.2 292.6,627.4 295.3,627.3 296.1,627.3 297.3,627.3 298.7,627.2 300,627.1 301.3,627.2 302.7,627.3 303.9,627.3 304.7,627.3 307.4,627.4 310.8,627.2 311.7,627.2 314.8,626.8 319.5,626.1 320.2,625.9 326.9,624 327.3,623.9 333.6,621.5 335.1,621 342.9,617.5 350.7,613.5 358.4,609.1 366.2,604.4 374,599.4 381.8,594.2 389.6,589 397.4,583.7 405.2,578.6 413,573.8 420.8,569 428.6,564.3 436.4,559.9 444.2,555.6 452,551.5 459.7,547.7 467.5,544.2 475.3,541 483.1,538 490.9,535.5 498.7,533.4 506.5,531.6 514.3,530.3"/>
<path d="M85.7,530.5L93.5,531.4 101.3,532.7 109.1,534.4 116.9,536.5 124.7,539 132.5,541.7 140.3,544.8 148,548.2 155.8,551.8 163.6,555.6 171.4,559.6 179.2,563.7 187,568 194.8,572.4 202.6,576.9 210.4,581.6 218.2,586.4 226,591 233.8,595.4 241.6,599.6 249.3,603.5 257.1,607.1 264.9,610.1 266.4,610.7 272.7,612.7 273.1,612.8 279.8,614.5 280.5,614.6 285.2,615.3 288.3,615.6 289.2,615.6 292.6,615.7 295.3,615.7 296.1,615.7 297.3,615.6 298.7,615.6 300,615.5 301.3,615.6 302.7,615.6 303.9,615.7 304.7,615.7 307.4,615.7 310.8,615.6 311.7,615.6 314.8,615.3 319.5,614.6 320.2,614.5 326.9,612.8 327.3,612.7 333.6,610.7 335.1,610.1 342.9,607.1 350.7,603.5 358.4,599.6 366.2,595.4 374,591 381.8,586.4 389.6,581.6 397.4,576.9 405.2,572.4 413,568 420.8,563.7 428.6,559.6 436.4,555.6 444.2,551.8 452,548.2 459.7,544.8 467.5,541.7 475.3,539 483.1,536.5 490.9,534.4 498.7,532.7 506.5,531.4 514.3,530.5"/>
<path d="M85.7,530.6L93.5,531.1 101.3,532 109.1,533.3 116.9,534.9 124.7,536.9 132.5,539.2 140.3,541.9 148,544.8 155.8,547.9 163.6,551.2 171.4,554.7 179.2,558.4 187,562.2 194.8,566.1 202.6,570.2 210.4,574.4 218.2,578.6 226,582.8 233.8,586.7 241.6,590.5 249.3,593.9 257.1,597.1 264.9,599.8 266.4,600.2 272.7,602 273.1,602.1 279.8,603.6 280.5,603.7 285.2,604.3 288.3,604.5 289.2,604.6 292.6,604.7 295.3,604.7 296.1,604.7 297.3,604.6 298.7,604.6 300,604.5 301.3,604.6 302.7,604.6 303.9,604.7 304.7,604.7 307.4,604.7 310.8,604.6 311.7,604.5 314.8,604.3 319.5,603.7 320.2,603.6 326.9,602.1 327.3,602 333.6,600.2 335.1,599.8 342.9,597.1 350.7,593.9 358.4,590.5 366.2,586.7 374,582.8 381.8,578.6 389.6,574.4 397.4,570.2 405.2,566.1 413,562.2 420.8,558.4 428.6,554.7 436.4,551.2 444.2,547.9 452,544.8 459.7,541.9 467.5,539.2 475.3,536.9 483.1,534.9 490.9,533.3 498.7,532 506.5,531.1 514.3,530.6"/>
<path d="M86.7,530.8L94.5,530.9 102.2,531.4 110,532.2 117.7,533.5 125.5,535.1 133.2,536.9 141,539.1 148.8,541.6 156.5,544.3 164.3,547.2 172,550.2 179.8,553.5 187.5,556.8 195.3,560.3 203.1,563.9 210.8,567.6 218.6,571.3 226.3,575 234.1,578.5 241.8,581.8 249.6,584.9 257.3,587.6 265.1,590 266.4,590.3 272.9,591.9 273.1,592 279.8,593.3 280.6,593.4 285.2,593.9 288.4,594.2 289.2,594.2 292.6,594.3 295.3,594.3 296.1,594.3 297.3,594.2 298.7,594.2 300,594.1 301.3,594.2 302.7,594.2 303.9,594.3 304.7,594.3 307.4,594.3 310.8,594.2 311.6,594.2 314.8,593.9 319.4,593.4 320.2,593.3 326.9,592 327.1,591.9 333.6,590.3 334.9,590 342.7,587.6 350.4,584.9 358.2,581.8 365.9,578.5 373.7,575 381.4,571.3 389.2,567.6 396.9,563.9 404.7,560.3 412.5,556.8 420.2,553.5 428,550.2 435.7,547.2 443.5,544.3 451.2,541.6 459,539.1 466.8,536.9 474.5,535.1 482.3,533.5 490,532.2 497.8,531.4 505.5,530.9 513.3,530.8"/>
<path d="M92.6,530.6L100.1,530.5 107.7,530.9 115.2,531.5 122.7,532.5 130.3,533.8 137.8,535.4 145.4,537.3 152.9,539.4 160.5,541.7 168,544.2 175.5,546.8 183.1,549.6 190.6,552.5 198.2,555.5 205.7,558.7 213.3,561.9 220.8,565.1 228.3,568.2 235.9,571.2 243.4,574 251,576.6 258.5,578.9 266.1,580.9 266.4,581 273.1,582.5 273.6,582.6 279.8,583.7 281.1,583.8 285.2,584.2 288.7,584.4 289.2,584.5 292.6,584.5 295.3,584.5 296.2,584.5 297.3,584.5 298.7,584.4 300,584.4 301.3,584.4 302.7,584.5 303.8,584.5 304.7,584.5 307.4,584.5 310.8,584.5 311.3,584.4 314.8,584.2 318.9,583.8 320.2,583.7 326.4,582.6 326.9,582.5 333.6,581 333.9,580.9 341.5,578.9 349,576.6 356.6,574 364.1,571.2 371.7,568.2 379.2,565.1 386.7,561.9 394.3,558.7 401.8,555.5 409.4,552.5 416.9,549.6 424.5,546.8 432,544.2 439.5,541.7 447.1,539.4 454.6,537.3 462.2,535.4 469.7,533.8 477.3,532.5 484.8,531.5 492.3,530.9 499.9,530.5 507.4,530.6"/>
<path d="M98.4,530L105.8,529.8 113.1,529.9 120.4,530.4 127.8,531.2 135.1,532.3 142.4,533.6 149.8,535.1 157.1,536.9 164.4,538.9 171.7,541 179.1,543.3 186.4,545.7 193.7,548.2 201.1,550.8 208.4,553.5 215.7,556.3 223,559.1 230.4,561.7 237.7,564.3 245,566.7 252.4,568.9 259.7,570.8 266.4,572.4 267,572.5 273.1,573.7 274.3,573.9 279.8,574.7 281.7,574.9 285.2,575.2 289,575.4 289.2,575.4 292.6,575.5 295.3,575.5 296.3,575.5 297.3,575.5 298.7,575.4 300,575.4 301.3,575.4 302.7,575.5 303.7,575.5 304.7,575.5 307.4,575.5 310.8,575.4 311,575.4 314.8,575.2 318.3,574.9 320.2,574.7 325.7,573.9 326.9,573.7 333,572.5 333.6,572.4 340.3,570.8 347.6,568.9 355,566.7 362.3,564.3 369.6,561.7 377,559.1 384.3,556.3 391.6,553.5 398.9,550.8 406.3,548.2 413.6,545.7 420.9,543.3 428.3,541 435.6,538.9 442.9,536.9 450.2,535.1 457.6,533.6 464.9,532.3 472.2,531.2 479.6,530.4 486.9,529.9 494.2,529.8 501.6,530"/>
<path d="M104.3,529L111.4,528.7 118.5,528.7 125.7,529 132.8,529.6 139.9,530.4 147,531.5 154.1,532.8 161.2,534.3 168.4,535.9 175.5,537.7 182.6,539.7 189.7,541.8 196.8,543.9 203.9,546.2 211.1,548.6 218.2,551 225.3,553.3 232.4,555.6 239.5,557.7 246.6,559.8 253.7,561.6 260.9,563.3 266.4,564.4 268,564.7 273.1,565.6 275.1,565.9 279.8,566.5 282.2,566.7 285.2,566.9 289.2,567.1 289.3,567.2 292.6,567.2 295.3,567.2 296.4,567.2 297.3,567.2 298.7,567.2 300,567.1 301.3,567.2 302.7,567.2 303.6,567.2 304.7,567.2 307.4,567.2 310.7,567.2 310.8,567.1 314.8,566.9 317.8,566.7 320.2,566.5 324.9,565.9 326.9,565.6 332,564.7 333.6,564.4 339.1,563.3 346.3,561.6 353.4,559.8 360.5,557.7 367.6,555.6 374.7,553.3 381.8,551 388.9,548.6 396.1,546.2 403.2,543.9 410.3,541.8 417.4,539.7 424.5,537.7 431.6,535.9 438.8,534.3 445.9,532.8 453,531.5 460.1,530.4 467.2,529.6 474.3,529 481.5,528.7 488.6,528.7 495.7,529"/>
<path d="M110.2,527.6L117.1,527.2 124,527.2 130.9,527.3 137.8,527.7 144.7,528.4 151.6,529.3 158.5,530.3 165.4,531.6 172.3,533 179.2,534.5 186.1,536.2 193,538 199.9,539.8 206.8,541.8 213.7,543.9 220.6,545.9 227.5,547.9 234.4,549.8 241.3,551.7 248.2,553.4 255.1,555 262,556.4 266.4,557.2 268.9,557.6 273.1,558.2 275.8,558.6 279.8,559 282.7,559.3 285.2,559.4 289.2,559.6 289.6,559.7 292.6,559.7 295.3,559.7 296.5,559.7 297.3,559.7 298.7,559.7 300,559.7 301.3,559.7 302.7,559.7 303.5,559.7 304.7,559.7 307.4,559.7 310.4,559.7 310.8,559.6 314.8,559.4 317.3,559.3 320.2,559 324.2,558.6 326.9,558.2 331.1,557.6 333.6,557.2 338,556.4 344.9,555 351.8,553.4 358.7,551.7 365.6,549.8 372.5,547.9 379.4,545.9 386.3,543.9 393.2,541.8 400.1,539.8 407,538 413.9,536.2 420.8,534.5 427.7,533 434.6,531.6 441.5,530.3 448.4,529.3 455.3,528.4 462.2,527.7 469.1,527.3 476,527.2 482.9,527.2 489.8,527.6"/>
<path d="M116.1,526L122.7,525.6 129.4,525.4 136.1,525.5 142.8,525.8 149.5,526.3 156.2,527 162.9,527.9 169.6,528.9 176.3,530.1 182.9,531.5 189.6,532.9 196.3,534.4 203,536.1 209.7,537.8 216.4,539.5 223.1,541.3 229.8,543 236.5,544.6 243.1,546.2 249.8,547.7 256.5,549 263.2,550.2 266.4,550.7 269.9,551.2 273.1,551.6 276.6,552 279.8,552.4 283.3,552.6 285.2,552.8 289.2,552.9 290,553 292.6,553 295.3,553.1 296.7,553 297.3,553 298.7,553 300,553 301.3,553 302.7,553 303.3,553 304.7,553.1 307.4,553 310,553 310.8,552.9 314.8,552.8 316.7,552.6 320.2,552.4 323.4,552 326.9,551.6 330.1,551.2 333.6,550.7 336.8,550.2 343.5,549 350.2,547.7 356.9,546.2 363.5,544.6 370.2,543 376.9,541.3 383.6,539.5 390.3,537.8 397,536.1 403.7,534.4 410.4,532.9 417.1,531.5 423.7,530.1 430.4,528.9 437.1,527.9 443.8,527 450.5,526.3 457.2,525.8 463.9,525.5 470.6,525.4 477.3,525.6 483.9,526"/>
<path d="M121.9,524.3L128.4,523.8 134.9,523.6 141.3,523.6 147.8,523.8 154.3,524.2 160.8,524.8 167.3,525.5 173.7,526.4 180.2,527.5 186.7,528.6 193.2,529.9 199.6,531.2 206.1,532.6 212.6,534.1 219.1,535.6 225.5,537.1 232,538.6 238.5,540 245,541.3 251.4,542.6 257.9,543.7 264.4,544.7 266.4,545 270.9,545.6 273.1,545.9 277.3,546.3 279.8,546.5 283.8,546.8 285.2,546.9 289.2,547.1 290.3,547.1 292.6,547.2 295.3,547.2 296.8,547.2 297.3,547.2 298.7,547.2 300,547.2 301.3,547.2 302.7,547.2 303.2,547.2 304.7,547.2 307.4,547.2 309.7,547.1 310.8,547.1 314.8,546.9 316.2,546.8 320.2,546.5 322.7,546.3 326.9,545.9 329.1,545.6 333.6,545 335.6,544.7 342.1,543.7 348.6,542.6 355,541.3 361.5,540 368,538.6 374.5,537.1 380.9,535.6 387.4,534.1 393.9,532.6 400.4,531.2 406.8,529.9 413.3,528.6 419.8,527.5 426.3,526.4 432.7,525.5 439.2,524.8 445.7,524.2 452.2,523.8 458.7,523.6 465.1,523.6 471.6,523.8 478.1,524.3"/>
<path d="M127.8,522.4L134.1,522 140.3,521.7 146.6,521.7 152.8,521.9 159.1,522.2 165.4,522.7 171.6,523.4 177.9,524.2 184.2,525.1 190.4,526.1 196.7,527.2 202.9,528.4 209.2,529.6 215.5,530.9 221.7,532.2 228,533.5 234.2,534.8 240.5,536 246.8,537.1 253,538.2 259.3,539.2 265.6,540.1 266.4,540.2 271.8,540.8 273.1,541 278.1,541.4 279.8,541.6 284.3,541.9 285.2,541.9 289.2,542.1 290.6,542.1 292.6,542.2 295.3,542.2 296.9,542.2 297.3,542.2 298.7,542.2 300,542.2 301.3,542.2 302.7,542.2 303.1,542.2 304.7,542.2 307.4,542.2 309.4,542.1 310.8,542.1 314.8,541.9 315.7,541.9 320.2,541.6 321.9,541.4 326.9,541 328.2,540.8 333.6,540.2 334.4,540.1 340.7,539.2 347,538.2 353.2,537.1 359.5,536 365.8,534.8 372,533.5 378.3,532.2 384.5,530.9 390.8,529.6 397.1,528.4 403.3,527.2 409.6,526.1 415.8,525.1 422.1,524.2 428.4,523.4 434.6,522.7 440.9,522.2 447.2,521.9 453.4,521.7 459.7,521.7 465.9,522 472.2,522.4"/>
<path d="M133.7,520.7L139.7,520.3 145.8,520.1 151.8,520 157.9,520.2 163.9,520.5 170,520.9 176,521.5 182,522.2 188.1,523 194.1,524 200.2,524.9 206.2,526 212.3,527.1 218.3,528.2 224.4,529.4 230.4,530.5 236.5,531.6 242.5,532.7 248.6,533.7 254.6,534.6 260.7,535.5 266.4,536.2 266.7,536.2 272.8,536.9 273.1,536.9 278.8,537.4 279.8,537.5 284.9,537.8 285.2,537.8 289.2,538 290.9,538 292.6,538.1 295.3,538.1 297,538.1 297.3,538.1 298.7,538.1 300,538.1 301.3,538.1 302.7,538.1 303,538.1 304.7,538.1 307.4,538.1 309.1,538 310.8,538 314.8,537.8 315.1,537.8 320.2,537.5 321.2,537.4 326.9,536.9 327.2,536.9 333.3,536.2 333.6,536.2 339.3,535.5 345.4,534.6 351.4,533.7 357.5,532.7 363.5,531.6 369.6,530.5 375.6,529.4 381.7,528.2 387.7,527.1 393.8,526 399.8,524.9 405.9,524 411.9,523 418,522.2 424,521.5 430,520.9 436.1,520.5 442.1,520.2 448.2,520 454.2,520.1 460.3,520.3 466.3,520.7"/>
<path d="M139.5,519.1L145.4,518.8 151.2,518.6 157,518.6 162.9,518.8 168.7,519.1 174.5,519.5 180.4,520.1 186.2,520.7 192,521.5 197.9,522.3 203.7,523.2 209.6,524.2 215.4,525.2 221.2,526.2 227.1,527.2 232.9,528.2 238.7,529.2 244.6,530.1 250.4,531 256.2,531.8 262.1,532.6 266.4,533.1 267.9,533.2 273.1,533.7 273.7,533.8 279.6,534.3 279.8,534.3 285.2,534.6 285.4,534.6 289.2,534.7 291.2,534.8 292.6,534.8 295.3,534.9 297.1,534.9 297.3,534.9 298.7,534.9 300,534.9 301.3,534.9 302.7,534.9 302.9,534.9 304.7,534.9 307.4,534.8 308.8,534.8 310.8,534.7 314.6,534.6 314.8,534.6 320.2,534.3 320.4,534.3 326.3,533.8 326.9,533.7 332.1,533.2 333.6,533.1 337.9,532.6 343.8,531.8 349.6,531 355.4,530.1 361.3,529.2 367.1,528.2 372.9,527.2 378.8,526.2 384.6,525.2 390.4,524.2 396.3,523.2 402.1,522.3 408,521.5 413.8,520.7 419.6,520.1 425.5,519.5 431.3,519.1 437.1,518.8 443,518.6 448.8,518.6 454.6,518.8 460.5,519.1"/>
<path d="M145.4,517.8L151,517.6 156.6,517.5 162.3,517.6 167.9,517.8 173.5,518.1 179.1,518.6 184.8,519.1 190.4,519.7 196,520.5 201.6,521.2 207.2,522.1 212.9,523 218.5,523.9 224.1,524.8 229.7,525.7 235.3,526.6 241,527.5 246.6,528.3 252.2,529.1 257.8,529.8 263.5,530.5 266.4,530.8 269.1,531.1 273.1,531.5 274.7,531.6 279.8,532 280.3,532 285.2,532.3 285.9,532.3 289.2,532.4 291.6,532.5 292.6,532.5 295.3,532.6 297.2,532.6 297.3,532.6 298.7,532.6 300,532.6 301.3,532.6 302.7,532.6 302.8,532.6 304.7,532.6 307.4,532.5 308.4,532.5 310.8,532.4 314.1,532.3 314.8,532.3 319.7,532 320.2,532 325.3,531.6 326.9,531.5 330.9,531.1 333.6,530.8 336.5,530.5 342.2,529.8 347.8,529.1 353.4,528.3 359,527.5 364.7,526.6 370.3,525.7 375.9,524.8 381.5,523.9 387.1,523 392.8,522.1 398.4,521.2 404,520.5 409.6,519.7 415.2,519.1 420.9,518.6 426.5,518.1 432.1,517.8 437.7,517.6 443.4,517.5 449,517.6 454.6,517.8"/>
<path d="M151.3,517L156.7,516.8 162.1,516.9 167.5,517 172.9,517.3 178.3,517.6 183.7,518.1 189.1,518.7 194.5,519.3 199.9,520 205.4,520.8 210.8,521.6 216.2,522.4 221.6,523.2 227,524.1 232.4,524.9 237.8,525.8 243.2,526.6 248.6,527.3 254,528 259.4,528.7 264.8,529.3 266.4,529.5 270.3,529.8 273.1,530.1 275.7,530.3 279.8,530.6 281.1,530.7 285.2,530.9 286.5,530.9 289.2,531 291.9,531.1 292.6,531.1 295.3,531.2 297.3,531.2 297.3,531.2 298.7,531.2 300,531.2 301.3,531.2 302.7,531.2 302.7,531.2 304.7,531.2 307.4,531.1 308.1,531.1 310.8,531 313.5,530.9 314.8,530.9 318.9,530.7 320.2,530.6 324.3,530.3 326.9,530.1 329.7,529.8 333.6,529.5 335.2,529.3 340.6,528.7 346,528 351.4,527.3 356.8,526.6 362.2,525.8 367.6,524.9 373,524.1 378.4,523.2 383.8,522.4 389.2,521.6 394.6,520.8 400.1,520 405.5,519.3 410.9,518.7 416.3,518.1 421.7,517.6 427.1,517.3 432.5,517 437.9,516.9 443.3,516.8 448.7,517"/>
<path d="M157.1,516.6L162.3,516.6 167.5,516.8 172.7,517 177.9,517.3 183.1,517.8 188.3,518.3 193.5,518.9 198.7,519.5 203.9,520.2 209.1,521 214.3,521.7 219.5,522.5 224.7,523.3 229.9,524.1 235.1,524.9 240.3,525.7 245.5,526.5 250.6,527.2 255.8,527.8 261,528.5 266.2,529 266.4,529 271.4,529.5 273.1,529.6 276.6,529.9 279.8,530.1 281.8,530.2 285.2,530.4 287,530.5 289.2,530.6 292.2,530.7 292.6,530.7 295.3,530.7 297.3,530.8 297.4,530.8 298.7,530.8 300,530.8 301.3,530.8 302.6,530.8 302.7,530.8 304.7,530.7 307.4,530.7 307.8,530.7 310.8,530.6 313,530.5 314.8,530.4 318.2,530.2 320.2,530.1 323.4,529.9 326.9,529.6 328.6,529.5 333.6,529 333.8,529 339,528.5 344.2,527.8 349.4,527.2 354.5,526.5 359.7,525.7 364.9,524.9 370.1,524.1 375.3,523.3 380.5,522.5 385.7,521.7 390.9,521 396.1,520.2 401.3,519.5 406.5,518.9 411.7,518.3 416.9,517.8 422.1,517.3 427.3,517 432.5,516.8 437.7,516.6 442.9,516.6"/>
<path d="M87,532.2L94.7,535.7 102.4,539.7 110.2,544.1 117.9,549 125.7,554.3 133.4,560.1 141.2,566.3 148.9,573 156.7,580.1 164.4,587.6 172.2,595.6 179.9,603.9 187.7,612.6 195.4,621.6 203.2,631 210.9,640.8 218.7,650.8 226.4,661.1 234.1,671.7 241.9,682.5 249.6,693.4 257.4,704.6 259.6,707.9 261.7,710.9 263.7,713.8 265.1,715.9 265.7,716.8 266.4,717.8 267.7,719.7 269.7,722.7 271.8,725.6 272.9,727.3 273.1,727.6 273.8,728.6 275.8,731.5 277.8,734.3 279.8,737.1 280.6,738.2 281.8,739.7 283.9,742.3 285.2,743.9 285.9,744.7 287.9,747.1 288.4,747.6 289.2,748.6 289.9,749.3 291.9,751.6 292.6,752.3 293.9,753.9 295.3,755.5 296,756.3 296.1,756.5 297.3,758.1 298,759 298.7,759.9 300,760.2 301.3,759.9 302,759 302.7,758.1 303.9,756.5 304,756.3 304.7,755.5 306.1,753.9 307.4,752.3 308.1,751.6 310.1,749.3 310.8,748.6 311.6,747.6 312.1,747.1 314.1,744.7 314.8,743.9 316.1,742.3 318.2,739.7 319.4,738.2 320.2,737.1 320.2,737.1 322.2,734.3 324.2,731.5 326.2,728.6 326.9,727.6 327.1,727.3 328.2,725.6 330.3,722.7 332.3,719.7 333.6,717.8 334.3,716.8 334.9,715.9 336.3,713.8 338.3,710.9 340.4,707.9 342.6,704.6 350.4,693.4 358.1,682.5 365.9,671.7 373.6,661.1 381.3,650.8 389.1,640.8 396.8,631 404.6,621.6 412.3,612.6 420.1,603.9 427.8,595.6 435.6,587.6 443.3,580.1 451.1,573 458.8,566.3 466.6,560.1 474.3,554.3 482.1,549 489.8,544.1 497.6,539.7 505.3,535.7 513,532.2"/>
</g>
<path d="M87.5,704.1C89.9,704.1 96.9,704.1 101.7,704.2C106.4,704.2 111.1,704.3 115.8,704.5C120.5,704.6 125.3,704.8 130,705C134.7,705.3 139.4,705.5 144.2,705.8C148.9,706.2 153.6,706.5 158.3,707C163,707.4 167.8,707.9 172.5,708.5C177.2,709.1 181.9,709.7 186.7,710.5C191.4,711.3 196.1,712.1 200.8,713.2C205.6,714.2 210.3,715.3 215,716.6C219.7,717.9 224.4,719.4 229.2,721.1C233.9,722.8 238.6,724.7 243.3,726.9C248.1,729.1 252.8,731.5 257.5,734.2C262.2,736.8 266.9,739.8 271.7,743C276.4,746.2 281.1,749.6 285.8,753.3C290.6,757 297.6,763.4 300,765.4" stroke="#00FF00" stroke-width="5.2"/>
<path d="M300,765.4C302.4,763.4 309.4,757 314.2,753.3C318.9,749.6 323.6,746.2 328.3,743C333.1,739.8 337.8,736.8 342.5,734.2C347.2,731.5 351.9,729.1 356.7,726.9C361.4,724.7 366.1,722.8 370.8,721.1C375.6,719.4 380.3,717.9 385,716.6C389.7,715.3 394.4,714.2 399.2,713.2C403.9,712.1 408.6,711.3 413.3,710.5C418.1,709.7 422.8,709.1 427.5,708.5C432.2,707.9 437,707.4 441.7,707C446.4,706.5 451.1,706.2 455.8,705.8C460.6,705.5 465.3,705.3 470,705C474.7,704.8 479.5,704.6 484.2,704.5C488.9,704.3 493.6,704.2 498.3,704.2C503.1,704.1 510.1,704.1 512.5,704.1" stroke="#00FF00" stroke-width="5.2"/>
<path d="M86.5,539.4C87.9,539.5 92.1,539.4 94.9,539.7C97.7,540.1 100.5,540.6 103.3,541.3C106.1,542.1 108.9,543 111.7,544.2C114.5,545.4 117.3,546.8 120.1,548.4C122.9,550 127.1,552.9 128.5,553.9" stroke="#00FF00" stroke-width="5.2"/>
<path d="M471.5,553.9C472.9,552.9 477.1,550 479.9,548.4C482.7,546.8 485.5,545.4 488.3,544.2C491.1,543 493.9,542.1 496.7,541.3C499.5,540.6 502.3,540.1 505.1,539.7C507.9,539.4 512.1,539.5 513.5,539.4" stroke="#00FF00" stroke-width="5.2"/>
<path d="M300,778 V504.2" stroke="#6a6a6a" stroke-width="1.3" stroke-dasharray="5.4 5.66" opacity="0.9"/>
</g>
<path d="M84.8,776.8v-1.3M84.8,504.2v1.3M98.2,776.8v-2.6M98.2,504.2v2.6M111.7,776.8v-1.3M111.7,504.2v1.3M125.2,776.8v-1.3M125.2,504.2v1.3M138.6,776.8v-1.3M138.6,504.2v1.3M152.1,776.8v-1.3M152.1,504.2v1.3M165.5,776.8v-2.6M165.5,504.2v2.6M179,776.8v-1.3M179,504.2v1.3M192.4,776.8v-1.3M192.4,504.2v1.3M205.9,776.8v-1.3M205.9,504.2v1.3M219.3,776.8v-1.3M219.3,504.2v1.3M232.8,776.8v-2.6M232.8,504.2v2.6M246.2,776.8v-1.3M246.2,504.2v1.3M259.7,776.8v-1.3M259.7,504.2v1.3M273.1,776.8v-1.3M273.1,504.2v1.3M286.6,776.8v-1.3M286.6,504.2v1.3M300,776.8v-2.6M300,504.2v2.6M313.5,776.8v-1.3M313.5,504.2v1.3M326.9,776.8v-1.3M326.9,504.2v1.3M340.4,776.8v-1.3M340.4,504.2v1.3M353.8,776.8v-1.3M353.8,504.2v1.3M367.3,776.8v-2.6M367.3,504.2v2.6M380.7,776.8v-1.3M380.7,504.2v1.3M394.2,776.8v-1.3M394.2,504.2v1.3M407.6,776.8v-1.3M407.6,504.2v1.3M421.1,776.8v-1.3M421.1,504.2v1.3M434.5,776.8v-2.6M434.5,504.2v2.6M448,776.8v-1.3M448,504.2v1.3M461.4,776.8v-1.3M461.4,504.2v1.3M474.9,776.8v-1.3M474.9,504.2v1.3M488.3,776.8v-1.3M488.3,504.2v1.3M501.8,776.8v-2.6M501.8,504.2v2.6M515.2,776.8v-1.3M515.2,504.2v1.3M81,772.7h1.3M81,764.4h2.6M81,756.1h1.3M81,747.9h1.3M81,739.6h1.3M81,731.4h1.3M81,723.1h2.6M81,714.8h1.3M81,706.6h1.3M81,698.3h1.3M81,690.1h1.3M81,681.8h2.6M81,673.5h1.3M81,665.3h1.3M81,657h1.3M81,648.8h1.3M81,640.5h2.6M81,632.2h1.3M81,624h1.3M81,615.7h1.3M81,607.5h1.3M81,599.2h2.6M81,590.9h1.3M81,582.7h1.3M81,574.4h1.3M81,566.2h1.3M81,557.9h2.6M81,549.6h1.3M81,541.4h1.3M81,533.1h1.3M81,524.9h1.3M81,516.6h2.6M81,508.3h1.3M519.5,764.4h-2.6M519.5,747.9h-1.3M519.5,731.4h-1.3M519.5,714.8h-1.3M519.5,698.3h-1.3M519.5,681.8h-2.6M519.5,665.3h-1.3M519.5,648.8h-1.3M519.5,632.2h-1.3M519.5,615.7h-1.3M519.5,599.2h-2.6M519.5,582.7h-1.3M519.5,566.2h-1.3M519.5,549.6h-1.3M519.5,533.1h-1.3M519.5,516.6h-2.6" stroke="#777" stroke-width="0.8" fill="none"/>
<rect x="79.5" y="502.7" width="441.5" height="275.6" fill="none" stroke="#000" stroke-width="3.0"/>
<text class="k" x="96.3" y="803.9" font-size="23" text-anchor="middle">−3</text>
<text class="k" x="163.6" y="803.9" font-size="23" text-anchor="middle">−2</text>
<text class="k" x="230.8" y="803.9" font-size="23" text-anchor="middle">−1</text>
<text class="k" x="300" y="803.9" font-size="23" text-anchor="middle">0</text>
<text class="k" x="367.2" y="803.9" font-size="23" text-anchor="middle">1</text>
<text class="k" x="434.5" y="803.9" font-size="23" text-anchor="middle">2</text>
<text class="k" x="501.8" y="803.9" font-size="23" text-anchor="middle">3</text>
<text class="k" x="75" y="772.6" font-size="23" text-anchor="end">0.0</text>
<text class="k" x="75" y="731.3" font-size="23" text-anchor="end">0.5</text>
<text class="k" x="75" y="690" font-size="23" text-anchor="end">1.0</text>
<text class="k" x="75" y="648.7" font-size="23" text-anchor="end">1.5</text>
<text class="k" x="75" y="607.4" font-size="23" text-anchor="end">2.0</text>
<text class="k" x="75" y="566.1" font-size="23" text-anchor="end">2.5</text>
<text class="k" x="75" y="524.8" font-size="23" text-anchor="end">3.0</text>
<text class="ki" x="283.5" y="843.5" font-size="29">k<tspan font-size="23.5" dy="5.3">x</tspan></text>
<text class="k" font-size="31" text-anchor="middle" transform="translate(28.8,639.4) rotate(-90)">Ω</text>
</g>
<g id="panel-e">
<g clip-path="url(#cpe)" fill="none" stroke-linejoin="round">
<g stroke="#FF7F00" stroke-width="2.7">
<path d="M650.9,564L658.6,568 666.4,572.4 674.2,577.3 681.9,582.5 689.7,588 697.4,593.9 705.2,600 712.9,606.5 720.7,613.2 728.4,620.2 736.2,627.4 743.9,634.8 751.7,642.4 759.4,650.2 767.2,658.1 774.9,666.1 782.7,674.3 790.4,682.6 798.2,691 806,699.4 813.7,707.9 821.5,716.5 829.2,725.1 830.5,726.5 837,733.8 837.2,734 843.9,741.6 844.7,742.5 849.3,747.7 852.5,751.4 853.3,752.4 856.7,756.5 859.4,759.7 860.2,760.7 861.4,762.1 862.8,763.7 864.1,765.2 865.4,763.7 866.8,762.1 868,760.7 868.8,759.7 871.5,756.5 874.9,752.4 875.7,751.4 878.9,747.7 883.5,742.5 884.3,741.6 891,734.2 891.2,734 897.8,726.9 899,725.5 906.7,717.3 914.5,709.2 922.2,701.3 930,693.7 937.8,686.4 945.5,679.3 953.3,672.6 961,666.2 968.8,660.1 976.5,654.5 984.3,649.2 992,644.2 999.8,639.7 1007.5,635.5 1015.3,631.8 1023,628.4 1030.8,625.3 1038.5,622.6 1046.3,620.3 1054,618.3 1061.8,616.6 1069.6,615.2 1077.3,614"/>
<path d="M643.3,560.4L651.3,564.1 659.3,568.4 667.3,573 675.3,578 683.3,583.5 691.4,589.3 699.4,595.4 707.4,601.9 715.4,608.6 723.4,615.7 731.5,623 739.5,630.5 747.5,638.2 755.5,646.1 763.5,654.1 771.5,662.4 779.6,670.7 787.6,679.2 795.6,687.8 803.6,696.4 811.6,705.1 819.7,713.8 827.7,722.5 830.5,725.5 835.7,731.2 837.2,732.8 843.7,739.7 843.9,739.9 849.3,745.2 851.7,747.4 853.3,748.8 856.7,751.2 859.4,752.6 859.7,752.7 861.4,753.2 862.8,753.3 864.1,753.2 865.4,753.3 866.8,753.1 867.8,752.9 868.8,752.5 871.5,751.2 874.9,748.7 875.8,748 878.9,745.2 883.8,740.4 884.3,739.9 891,732.9 891.8,732.1 897.8,725.8 899.8,723.7 907.8,715.3 915.9,707.1 923.9,699.1 931.9,691.3 939.9,683.9 947.9,676.7 956,669.9 964,663.5 972,657.5 980,651.8 988,646.6 996,641.7 1004.1,637.3 1012.1,633.2 1020.1,629.6 1028.1,626.3 1036.1,623.4 1044.2,620.9 1052.2,618.7 1060.2,616.9 1068.2,615.4 1076.2,614.1 1084.2,613.2"/>
<path d="M643.3,560.6L651.3,564.4 659.3,568.5 667.3,573.2 675.3,578.2 683.3,583.6 691.4,589.3 699.4,595.5 707.4,601.9 715.4,608.6 723.4,615.6 731.5,622.8 739.5,630.2 747.5,637.8 755.5,645.5 763.5,653.4 771.5,661.5 779.6,669.6 787.6,677.9 795.6,686.2 803.6,694.5 811.6,702.8 819.7,711 827.7,719.1 830.5,721.9 835.7,726.9 837.2,728.3 843.7,734 843.9,734.2 849.3,738.1 851.7,739.5 853.3,740.4 856.7,741.7 859.4,742.3 859.7,742.3 861.4,742.4 862.8,742.4 864.1,742.3 865.4,742.4 866.8,742.4 867.8,742.3 868.8,742.2 871.5,741.6 874.9,740.3 875.8,739.8 878.9,738 883.8,734.5 884.3,734.1 891,728.2 891.8,727.5 897.8,721.9 899.8,719.9 907.8,712.2 915.9,704.4 923.9,696.7 931.9,689.3 939.9,682 947.9,675 956,668.3 964,662 972,656.2 980,650.7 988,645.6 996,640.9 1004.1,636.6 1012.1,632.7 1020.1,629.1 1028.1,625.9 1036.1,623.1 1044.2,620.6 1052.2,618.5 1060.2,616.7 1068.2,615.2 1076.2,613.9 1084.2,613"/>
<path d="M643.3,561.3L651.3,565 659.3,569.1 667.3,573.7 675.3,578.6 683.3,583.9 691.4,589.6 699.4,595.6 707.4,602 715.4,608.6 723.4,615.4 731.5,622.5 739.5,629.7 747.5,637.1 755.5,644.5 763.5,652.1 771.5,659.9 779.6,667.8 787.6,675.6 795.6,683.5 803.6,691.4 811.6,699.1 819.7,706.6 827.7,713.8 830.5,716.1 835.7,720.4 837.2,721.6 843.7,726.2 843.9,726.3 849.3,729.1 851.7,730.1 853.3,730.6 856.7,731.4 859.4,731.6 859.7,731.7 861.4,731.7 862.8,731.6 864.1,731.5 865.4,731.6 866.8,731.6 867.8,731.6 868.8,731.5 871.5,731.2 874.9,730.4 875.8,730 878.9,728.8 883.8,726.2 884.3,725.9 891,721.1 891.8,720.5 897.8,715.8 899.8,714 907.8,707.1 915.9,699.9 923.9,692.8 931.9,685.7 939.9,678.8 947.9,672.1 956,665.6 964,659.5 972,653.9 980,648.7 988,643.8 996,639.3 1004.1,635.1 1012.1,631.3 1020.1,627.9 1028.1,624.8 1036.1,622.1 1044.2,619.7 1052.2,617.6 1060.2,615.9 1068.2,614.5 1076.2,613.3 1084.2,612.4"/>
<path d="M643.3,562.5L651.3,566.1 659.3,570.1 667.3,574.5 675.3,579.3 683.3,584.5 691.4,590 699.4,595.9 707.4,602.1 715.4,608.5 723.4,615.1 731.5,621.9 739.5,628.9 747.5,636 755.5,643.2 763.5,650.4 771.5,657.8 779.6,665.2 787.6,672.6 795.6,680 803.6,687.2 811.6,694.2 819.7,700.9 827.7,707.1 830.5,709.1 835.7,712.7 837.2,713.6 843.7,717.3 843.9,717.4 849.3,719.4 851.7,720.1 853.3,720.5 856.7,720.9 859.4,721.1 859.7,721.1 861.4,721 862.8,720.9 864.1,720.8 865.4,720.9 866.8,720.9 867.8,720.9 868.8,720.9 871.5,720.6 874.9,720 875.8,719.8 878.9,718.8 883.8,716.9 884.3,716.6 891,712.7 891.8,712.2 897.8,708.1 899.8,706.6 907.8,700.5 915.9,694.1 923.9,687.5 931.9,680.9 939.9,674.3 947.9,668 956,661.9 964,656 972,650.7 980,645.7 988,641.1 996,636.8 1004.1,632.9 1012.1,629.3 1020.1,626 1028.1,623.1 1036.1,620.5 1044.2,618.3 1052.2,616.3 1060.2,614.7 1068.2,613.3 1076.2,612.3 1084.2,611.5"/>
<path d="M643.3,564.1L651.3,567.5 659.3,571.4 667.3,575.6 675.3,580.3 683.3,585.3 691.4,590.6 699.4,596.3 707.4,602.2 715.4,608.4 723.4,614.8 731.5,621.3 739.5,627.9 747.5,634.7 755.5,641.4 763.5,648.2 771.5,655.2 779.6,662.1 787.6,669 795.6,675.7 803.6,682.3 811.6,688.5 819.7,694.4 827.7,699.7 830.5,701.4 835.7,704.3 837.2,705.1 843.7,708 843.9,708.1 849.3,709.6 851.7,710.1 853.3,710.4 856.7,710.6 859.4,710.6 859.7,710.6 861.4,710.5 862.8,710.4 864.1,710.2 865.4,710.3 866.8,710.3 867.8,710.3 868.8,710.3 871.5,710.1 874.9,709.6 875.8,709.5 878.9,708.7 883.8,707.1 884.3,706.9 891,703.5 891.8,703.1 897.8,699.6 899.8,698.3 907.8,692.9 915.9,687.1 923.9,681.1 931.9,675 939.9,668.9 947.9,663 956,657.2 964,651.6 972,646.6 980,642 988,637.6 996,633.6 1004.1,629.9 1012.1,626.5 1020.1,623.5 1028.1,620.8 1036.1,618.4 1044.2,616.2 1052.2,614.4 1060.2,612.9 1068.2,611.8 1076.2,610.9 1084.2,610.2"/>
<path d="M643.3,566.1L651.3,569.3 659.3,573 667.3,577.1 675.3,581.5 683.3,586.3 691.4,591.4 699.4,596.8 707.4,602.4 715.4,608.3 723.4,614.4 731.5,620.5 739.5,626.8 747.5,633.1 755.5,639.5 763.5,645.8 771.5,652.2 779.6,658.6 787.6,664.9 795.6,671 803.6,676.8 811.6,682.3 819.7,687.4 827.7,691.9 830.5,693.3 835.7,695.7 837.2,696.4 843.7,698.7 843.9,698.8 849.3,699.9 851.7,700.2 853.3,700.4 856.7,700.5 859.4,700.4 859.7,700.4 861.4,700.2 862.8,700.1 864.1,699.9 865.4,699.9 866.8,700 867.8,699.9 868.8,699.9 871.5,699.7 874.9,699.3 875.8,699.2 878.9,698.5 883.8,697.1 884.3,696.9 891,694 891.8,693.6 897.8,690.6 899.8,689.4 907.8,684.6 915.9,679.4 923.9,673.9 931.9,668.3 939.9,662.7 947.9,657.1 956,651.7 964,646.5 972,641.9 980,637.5 988,633.4 996,629.7 1004.1,626.2 1012.1,623.1 1020.1,620.3 1028.1,617.8 1036.1,615.6 1044.2,613.7 1052.2,612.1 1060.2,610.8 1068.2,609.8 1076.2,609.1 1084.2,608.6"/>
<path d="M643.3,568.5L651.3,571.5 659.3,574.9 667.3,578.8 675.3,582.9 683.3,587.4 691.4,592.2 699.4,597.4 707.4,602.7 715.4,608.3 723.4,613.9 731.5,619.7 739.5,625.6 747.5,631.4 755.5,637.3 763.5,643.1 771.5,649 779.6,654.8 787.6,660.4 795.6,665.9 803.6,671.1 811.6,675.9 819.7,680.2 827.7,684 830.5,685.1 835.7,687.1 837.2,687.6 843.7,689.4 843.9,689.5 849.3,690.3 851.7,690.5 853.3,690.6 856.7,690.5 859.4,690.4 859.7,690.4 861.4,690.2 862.8,690 864.1,689.8 865.4,689.8 866.8,689.8 867.8,689.8 868.8,689.8 871.5,689.6 874.9,689.2 875.8,689 878.9,688.4 883.8,687.1 884.3,687 891,684.4 891.8,684 897.8,681.3 899.8,680.2 907.8,675.9 915.9,671.1 923.9,666.1 931.9,661 939.9,655.8 947.9,650.6 956,645.6 964,640.7 972,636.4 980,632.4 988,628.6 996,625.2 1004.1,622 1012.1,619.2 1020.1,616.6 1028.1,614.4 1036.1,612.4 1044.2,610.7 1052.2,609.3 1060.2,608.2 1068.2,607.5 1076.2,607 1084.2,606.8"/>
<path d="M643.3,571.2L651.3,574 659.3,577.2 667.3,580.7 675.3,584.6 683.3,588.8 691.4,593.3 699.4,598.1 707.4,603 715.4,608.2 723.4,613.5 731.5,618.8 739.5,624.2 747.5,629.6 755.5,635 763.5,640.2 771.5,645.6 779.6,650.8 787.6,655.8 795.6,660.6 803.6,665.1 811.6,669.3 819.7,672.9 827.7,676.1 830.5,677 835.7,678.6 837.2,679 843.7,680.4 843.9,680.4 849.3,680.9 851.7,681 853.3,681 856.7,680.9 859.4,680.7 859.7,680.6 861.4,680.5 862.8,680.3 864.1,680.1 865.4,680 866.8,680 867.8,679.9 868.8,679.9 871.5,679.7 874.9,679.3 875.8,679.1 878.9,678.5 883.8,677.3 884.3,677.2 891,674.8 891.8,674.4 897.8,671.9 899.8,670.9 907.8,667 915.9,662.6 923.9,658 931.9,653.3 939.9,648.5 947.9,643.7 956,639 964,634.5 972,630.5 980,626.8 988,623.3 996,620.2 1004.1,617.3 1012.1,614.7 1020.1,612.5 1028.1,610.4 1036.1,608.8 1044.2,607.3 1052.2,606.1 1060.2,605.3 1068.2,604.8 1076.2,604.6 1084.2,604.6"/>
<path d="M643.3,574.2L651.3,576.7 659.3,579.6 667.3,582.8 675.3,586.4 683.3,590.3 691.4,594.4 699.4,598.8 707.4,603.4 715.4,608.2 723.4,613 731.5,617.9 739.5,622.9 747.5,627.8 755.5,632.6 763.5,637.3 771.5,642.1 779.6,646.7 787.6,651.2 795.6,655.4 803.6,659.2 811.6,662.7 819.7,665.8 827.7,668.3 830.5,669.1 835.7,670.3 837.2,670.6 843.7,671.6 843.9,671.6 849.3,671.9 851.7,671.9 853.3,671.8 856.7,671.6 859.4,671.3 859.7,671.3 861.4,671 862.8,670.8 864.1,670.6 865.4,670.6 866.8,670.5 867.8,670.4 868.8,670.3 871.5,670.1 874.9,669.6 875.8,669.5 878.9,668.8 883.8,667.7 884.3,667.6 891,665.3 891.8,665 897.8,662.6 899.8,661.7 907.8,658 915.9,654 923.9,649.7 931.9,645.3 939.9,640.9 947.9,636.4 956,632.1 964,627.8 972,624.2 980,620.8 988,617.6 996,614.7 1004.1,612.1 1012.1,609.9 1020.1,607.9 1028.1,606.1 1036.1,604.7 1044.2,603.5 1052.2,602.7 1060.2,602.1 1068.2,601.9 1076.2,601.9 1084.2,602.2"/>
<path d="M643.3,577.4L651.3,579.7 659.3,582.2 667.3,585.2 675.3,588.4 683.3,591.9 691.4,595.7 699.4,599.7 707.4,603.9 715.4,608.2 723.4,612.6 731.5,617.1 739.5,621.5 747.5,625.9 755.5,630.2 763.5,634.4 771.5,638.6 779.6,642.7 787.6,646.5 795.6,650.1 803.6,653.4 811.6,656.3 819.7,658.8 827.7,660.8 830.5,661.3 835.7,662.2 837.2,662.4 843.7,663.1 843.9,663.1 849.3,663.2 851.7,663.1 853.3,663 856.7,662.7 859.4,662.3 859.7,662.3 861.4,662 862.8,661.8 864.1,661.5 865.4,661.4 866.8,661.3 867.8,661.2 868.8,661.1 871.5,660.8 874.9,660.3 875.8,660.2 878.9,659.5 883.8,658.4 884.3,658.2 891,656 891.8,655.7 897.8,653.5 899.8,652.6 907.8,649.1 915.9,645.4 923.9,641.4 931.9,637.3 939.9,633.1 947.9,629 956,624.9 964,621 972,617.6 980,614.5 988,611.6 996,609 1004.1,606.7 1012.1,604.7 1020.1,603 1028.1,601.5 1036.1,600.4 1044.2,599.5 1052.2,598.9 1060.2,598.6 1068.2,598.7 1076.2,599 1084.2,599.7"/>
<path d="M643.3,580.9L651.3,582.8 659.3,585 667.3,587.6 675.3,590.5 683.3,593.6 691.4,597 699.4,600.6 707.4,604.4 715.4,608.3 723.4,612.2 731.5,616.2 739.5,620.2 747.5,624.1 755.5,627.9 763.5,631.6 771.5,635.2 779.6,638.7 787.6,642 795.6,645 803.6,647.7 811.6,650.1 819.7,652 827.7,653.5 830.5,654 835.7,654.6 837.2,654.7 843.7,655 843.9,655 849.3,654.9 851.7,654.7 853.3,654.6 856.7,654.2 859.4,653.7 859.7,653.7 861.4,653.4 862.8,653.1 864.1,652.9 865.4,652.7 866.8,652.6 867.8,652.5 868.8,652.3 871.5,652 874.9,651.4 875.8,651.2 878.9,650.6 883.8,649.4 884.3,649.2 891,647 891.8,646.8 897.8,644.6 899.8,643.8 907.8,640.4 915.9,636.8 923.9,633.1 931.9,629.2 939.9,625.3 947.9,621.4 956,617.6 964,614 972,610.9 980,608 988,605.4 996,603 1004.1,601 1012.1,599.3 1020.1,597.8 1028.1,596.7 1036.1,595.8 1044.2,595.2 1052.2,594.9 1060.2,595 1068.2,595.3 1076.2,596 1084.2,597"/>
<path d="M644.8,584.7L652.8,586.3 660.7,588.3 668.7,590.6 676.7,593.1 684.7,595.9 692.6,598.9 700.6,602.1 708.6,605.4 716.6,608.9 724.5,612.4 732.5,615.9 740.5,619.3 748.5,622.7 756.4,626 764.4,629.1 772.4,632.3 780.4,635.2 788.3,637.9 796.3,640.4 804.3,642.5 812.3,644.3 820.2,645.7 828.2,646.7 830.5,646.9 836.2,647.3 837.2,647.3 843.9,647.4 844.2,647.4 849.3,647 852.1,646.7 853.3,646.6 856.7,646.1 859.4,645.6 860.1,645.5 861.4,645.2 862.8,644.9 864.1,644.6 865.4,644.5 866.8,644.3 868.1,644.1 868.8,644 871.5,643.5 874.9,642.9 876.1,642.7 878.9,642 884,640.7 884.3,640.6 891,638.4 892,638.1 897.8,636 900,635.2 908,631.9 915.9,628.5 923.9,624.9 931.9,621.3 939.9,617.6 947.8,614 955.8,610.5 963.8,607.1 971.8,604.2 979.7,601.6 987.7,599.2 995.7,597.1 1003.7,595.3 1011.6,593.8 1019.6,592.6 1027.6,591.7 1035.6,591.1 1043.5,590.8 1051.5,590.8 1059.5,591.1 1067.5,591.8 1075.4,592.8 1083.4,594"/>
<path d="M650.7,589.2L658.4,590.7 666.2,592.4 673.9,594.5 681.7,596.7 689.5,599.2 697.2,601.8 705,604.6 712.7,607.5 720.5,610.5 728.3,613.4 736,616.4 743.8,619.3 751.6,622.1 759.3,624.8 767.1,627.4 774.8,629.8 782.6,632.2 790.4,634.2 798.1,636.1 805.9,637.6 813.6,638.9 821.4,639.7 829.2,640.3 830.5,640.3 836.9,640.4 837.2,640.4 843.9,640.1 844.7,640.1 849.3,639.6 852.5,639.2 853.3,639 856.7,638.5 859.4,637.9 860.2,637.8 861.4,637.5 862.8,637.2 864.1,636.9 865.4,636.7 866.8,636.5 868,636.2 868.8,636.1 871.5,635.6 874.9,634.9 875.7,634.7 878.9,633.9 883.5,632.7 884.3,632.5 891,630.3 891.3,630.2 897.8,627.8 899,627.4 906.8,624.3 914.6,621.1 922.3,617.8 930.1,614.4 937.8,611 945.6,607.6 953.4,604.3 961.1,601.2 968.9,598.4 976.6,596 984.4,593.8 992.2,591.8 999.9,590.1 1007.7,588.8 1015.5,587.7 1023.2,587 1031,586.5 1038.7,586.3 1046.5,586.4 1054.3,586.8 1062,587.5 1069.8,588.6 1077.5,589.9"/>
<path d="M656.5,593.3L664.1,594.7 671.6,596.2 679.2,598 686.7,600 694.3,602.1 701.8,604.4 709.4,606.8 716.9,609.2 724.5,611.7 732,614.2 739.6,616.6 747.1,618.9 754.7,621.2 762.2,623.3 769.7,625.4 777.3,627.3 784.8,629 792.4,630.6 799.9,631.9 807.5,632.9 815,633.6 822.6,634 830.1,634.1 830.5,634.1 837.2,633.9 837.7,633.9 843.9,633.4 845.2,633.2 849.3,632.7 852.8,632.1 853.3,632 856.7,631.3 859.4,630.8 860.3,630.5 861.4,630.3 862.8,630 864.1,629.6 865.4,629.4 866.8,629.1 867.9,628.9 868.8,628.7 871.5,628.1 874.9,627.4 875.4,627.2 878.9,626.3 883,625.2 884.3,624.8 890.5,622.7 891,622.5 897.8,620.1 898.1,620 905.6,617.1 913.2,614 920.7,610.9 928.3,607.7 935.8,604.5 943.4,601.4 950.9,598.3 958.5,595.4 966,592.7 973.5,590.4 981.1,588.3 988.6,586.5 996.2,585 1003.7,583.7 1011.3,582.7 1018.8,582.1 1026.4,581.6 1033.9,581.6 1041.5,581.8 1049,582.2 1056.6,583 1064.1,584.1 1071.7,585.5"/>
<path d="M662.4,597.1L669.7,598.3 677.1,599.6 684.4,601.1 691.7,602.8 699.1,604.6 706.4,606.5 713.7,608.5 721.1,610.5 728.4,612.6 735.7,614.5 743.1,616.5 750.4,618.3 757.7,620.1 765.1,621.7 772.4,623.3 779.8,624.7 787.1,625.9 794.4,627 801.8,627.8 809.1,628.3 816.4,628.6 823.8,628.6 830.5,628.4 831.1,628.4 837.2,627.9 838.4,627.8 843.9,627.2 845.8,626.9 849.3,626.3 853.1,625.5 853.3,625.5 856.7,624.8 859.4,624.1 860.4,623.9 861.4,623.6 862.8,623.3 864.1,622.9 865.4,622.6 866.8,622.3 867.8,622.1 868.8,621.9 871.5,621.2 874.9,620.4 875.1,620.3 878.9,619.2 882.4,618.2 884.3,617.6 889.8,615.8 891,615.3 897.1,613.1 897.8,612.9 904.4,610.3 911.8,607.4 919.1,604.4 926.4,601.4 933.8,598.4 941.1,595.5 948.4,592.6 955.8,589.8 963.1,587.2 970.5,585 977.8,583 985.1,581.3 992.5,579.8 999.8,578.6 1007.1,577.7 1014.5,577.1 1021.8,576.8 1029.1,576.7 1036.5,577 1043.8,577.5 1051.1,578.3 1058.5,579.4 1065.8,580.8"/>
<path d="M668.3,600.4L675.4,601.4 682.5,602.5 689.6,603.8 696.8,605.2 703.9,606.7 711,608.3 718.1,609.9 725.2,611.5 732.4,613.1 739.5,614.6 746.6,616.1 753.7,617.5 760.8,618.8 768,620.1 775.1,621.2 782.2,622.1 789.3,622.9 796.4,623.5 803.6,623.9 810.7,624 817.8,623.9 824.9,623.6 830.5,623.2 832.1,623 837.2,622.4 839.2,622.1 843.9,621.4 846.3,621 849.3,620.4 853.3,619.5 853.4,619.5 856.7,618.7 859.4,618 860.5,617.7 861.4,617.5 862.8,617.1 864.1,616.7 865.4,616.4 866.8,616.1 867.7,615.9 868.8,615.6 871.5,614.9 874.8,614 874.9,613.9 878.9,612.7 881.9,611.8 884.3,611.1 889,609.4 891,608.7 896.1,606.8 897.8,606.2 903.3,604.1 910.4,601.3 917.5,598.4 924.6,595.6 931.8,592.7 938.9,589.9 946,587.2 953.1,584.6 960.2,582.1 967.4,579.9 974.5,578 981.6,576.3 988.7,574.9 995.8,573.7 1003,572.8 1010.1,572.2 1017.2,571.9 1024.3,571.9 1031.4,572.1 1038.6,572.7 1045.7,573.5 1052.8,574.6 1059.9,576"/>
<path d="M674.1,603.3L681.1,604 688,605 694.9,606 701.8,607.1 708.7,608.3 715.6,609.6 722.5,610.8 729.4,612.1 736.3,613.3 743.2,614.5 750.1,615.6 757,616.6 763.9,617.5 770.8,618.3 777.8,619 784.7,619.6 791.6,619.9 798.5,620.1 805.4,620.2 812.3,620 819.2,619.6 826.1,618.9 830.5,618.4 833,618.1 837.2,617.5 839.9,617 843.9,616.3 846.8,615.7 849.3,615.1 853.3,614.1 853.7,614 856.7,613.3 859.4,612.5 860.6,612.2 861.4,611.9 862.8,611.6 864.1,611.1 865.4,610.8 866.8,610.4 867.6,610.2 868.8,609.9 871.5,609.1 874.5,608.2 874.9,608.1 878.9,606.8 881.4,606 884.3,605.1 888.3,603.7 891,602.6 895.2,601.1 897.8,600.1 902.1,598.4 909,595.7 915.9,593 922.8,590.2 929.7,587.5 936.6,584.8 943.5,582.2 950.4,579.7 957.4,577.3 964.3,575.2 971.2,573.3 978.1,571.7 985,570.3 991.9,569.1 998.8,568.2 1005.7,567.6 1012.6,567.3 1019.5,567.2 1026.4,567.4 1033.3,567.9 1040.2,568.7 1047.1,569.8 1054.1,571.1"/>
<path d="M680,605.6L686.7,606.2 693.4,606.9 700.1,607.7 706.8,608.6 713.5,609.5 720.2,610.5 726.9,611.4 733.6,612.3 740.3,613.2 747,614.1 753.7,614.8 760.3,615.5 767,616 773.7,616.5 780.4,616.9 787.1,617.1 793.8,617.1 800.5,617 807.2,616.7 813.9,616.2 820.6,615.6 827.3,614.7 830.5,614.2 834,613.6 837.2,613 840.7,612.4 843.9,611.7 847.4,610.9 849.3,610.4 853.3,609.3 854.1,609.1 856.7,608.4 859.4,607.6 860.8,607.2 861.4,607 862.8,606.6 864.1,606.2 865.4,605.8 866.8,605.4 867.4,605.2 868.8,604.8 871.5,604 874.1,603.1 874.9,602.9 878.9,601.6 880.8,600.9 884.3,599.7 887.5,598.5 891,597.2 894.2,596 897.8,594.7 900.9,593.4 907.6,590.8 914.3,588.1 921,585.4 927.7,582.8 934.4,580.2 941.1,577.7 947.8,575.3 954.5,573 961.2,570.9 967.9,569.1 974.5,567.5 981.2,566.1 987.9,564.9 994.6,564 1001.3,563.3 1008,562.9 1014.7,562.8 1021.4,563 1028.1,563.4 1034.8,564.1 1041.5,565.1 1048.2,566.4"/>
<path d="M685.9,607.5L692.4,607.9 698.9,608.5 705.3,609.1 711.8,609.7 718.3,610.4 724.8,611.1 731.3,611.7 737.7,612.4 744.2,613 750.7,613.5 757.2,613.9 763.7,614.3 770.1,614.6 776.6,614.8 783.1,614.8 789.6,614.7 796.1,614.5 802.5,614.1 809,613.6 815.5,612.9 822,612 828.5,610.9 830.5,610.5 834.9,609.7 837.2,609.2 841.4,608.3 843.9,607.7 847.9,606.6 849.3,606.3 853.3,605.1 854.4,604.8 856.7,604.1 859.4,603.3 860.9,602.9 861.4,602.7 862.8,602.2 864.1,601.8 865.4,601.4 866.8,601 867.3,600.8 868.8,600.3 871.5,599.5 873.8,598.7 874.9,598.3 878.9,596.9 880.3,596.4 884.3,595 886.8,594.1 891,592.5 893.3,591.6 897.8,589.8 899.7,589.1 906.2,586.5 912.7,583.9 919.2,581.3 925.7,578.7 932.1,576.2 938.6,573.8 945.1,571.5 951.6,569.3 958.1,567.3 964.5,565.4 971,563.8 977.5,562.4 984,561.2 990.5,560.2 996.9,559.5 1003.4,559 1009.9,558.8 1016.4,558.9 1022.9,559.2 1029.3,559.8 1035.8,560.7 1042.3,561.9"/>
<path d="M691.8,608.9L698,609.2 704.3,609.6 710.6,610 716.8,610.5 723.1,610.9 729.4,611.4 735.6,611.8 741.9,612.2 748.2,612.5 754.4,612.8 760.7,613 767,613.1 773.2,613.2 779.5,613.1 785.8,612.9 792,612.6 798.3,612.1 804.6,611.5 810.8,610.8 817.1,609.9 823.4,608.8 829.6,607.6 830.5,607.4 835.9,606.2 837.2,605.9 842.2,604.7 843.9,604.2 848.4,603 849.3,602.8 853.3,601.6 854.7,601.1 856.7,600.5 859.4,599.7 861,599.1 861.4,599 862.8,598.5 864.1,598.1 865.4,597.7 866.8,597.2 867.2,597.1 868.8,596.5 871.5,595.6 873.5,594.9 874.9,594.4 878.9,593 879.8,592.7 884.3,591 886,590.3 891,588.4 892.3,587.9 897.8,585.7 898.6,585.4 904.8,582.9 911.1,580.4 917.4,577.8 923.6,575.4 929.9,572.9 936.2,570.6 942.4,568.3 948.7,566.2 955,564.2 961.2,562.3 967.5,560.7 973.8,559.2 980,558 986.3,557 992.6,556.2 998.8,555.7 1005.1,555.4 1011.4,555.3 1017.6,555.5 1023.9,556 1030.2,556.7 1036.4,557.8"/>
<path d="M697.6,609.9L703.7,610.1 709.7,610.3 715.8,610.6 721.8,610.9 727.9,611.2 734,611.4 740,611.7 746.1,611.9 752.1,612 758.2,612.1 764.2,612.1 770.3,612 776.3,611.8 782.4,611.5 788.4,611.2 794.5,610.6 800.5,610 806.6,609.2 812.6,608.3 818.7,607.3 824.8,606.1 830.5,604.9 830.8,604.8 836.9,603.3 837.2,603.2 842.9,601.7 843.9,601.4 849,600 849.3,599.9 853.3,598.6 855,598.1 856.7,597.5 859.4,596.6 861.1,596.1 861.4,596 862.8,595.5 864.1,595 865.4,594.6 866.8,594.1 867.1,594 868.8,593.4 871.5,592.4 873.2,591.8 874.9,591.2 878.9,589.7 879.2,589.6 884.3,587.7 885.3,587.3 891,585 891.3,584.9 897.4,582.5 897.8,582.3 903.4,580 909.5,577.6 915.6,575.1 921.6,572.7 927.7,570.3 933.7,568.1 939.8,565.9 945.8,563.8 951.9,561.8 957.9,560 964,558.3 970,556.8 976.1,555.5 982.1,554.5 988.2,553.6 994.2,552.9 1000.3,552.5 1006.4,552.3 1012.4,552.4 1018.5,552.7 1024.5,553.3 1030.6,554.1"/>
<path d="M703.5,610.5L709.3,610.6 715.2,610.8 721,610.9 726.9,611.1 732.7,611.2 738.5,611.3 744.4,611.4 750.2,611.5 756.1,611.4 761.9,611.3 767.7,611.2 773.6,610.9 779.4,610.6 785.3,610.2 791.1,609.6 796.9,609 802.8,608.2 808.6,607.3 814.5,606.3 820.3,605.1 826.1,603.9 830.5,602.9 832,602.5 837.2,601.1 837.8,601 843.7,599.3 843.9,599.2 849.3,597.6 849.5,597.5 853.3,596.3 855.3,595.7 856.7,595.2 859.4,594.3 861.2,593.7 861.4,593.6 862.8,593.1 864.1,592.6 865.4,592.2 866.8,591.7 867,591.6 868.8,591 871.5,590 872.9,589.5 874.9,588.7 878.7,587.3 878.9,587.2 884.3,585.1 884.5,585 890.4,582.7 891,582.4 896.2,580.3 897.8,579.7 902.1,577.9 907.9,575.5 913.7,573.1 919.6,570.8 925.4,568.5 931.3,566.3 937.1,564.1 942.9,562.1 948.8,560.1 954.6,558.3 960.5,556.6 966.3,555.1 972.1,553.8 978,552.6 983.8,551.7 989.7,550.9 995.5,550.4 1001.3,550.1 1007.2,550 1013,550.1 1018.9,550.5 1024.7,551.1"/>
<path d="M709.4,610.9L715,610.9 720.6,611 726.3,611 731.9,611.1 737.5,611.1 743.1,611.1 748.8,611.1 754.4,611 760,610.9 765.6,610.7 771.3,610.4 776.9,610 782.5,609.6 788.1,609 793.8,608.4 799.4,607.6 805,606.7 810.7,605.8 816.3,604.7 821.9,603.5 827.5,602.1 830.5,601.4 833.2,600.7 837.2,599.6 838.8,599.2 843.9,597.7 844.4,597.5 849.3,596 850,595.7 853.3,594.7 855.7,593.9 856.7,593.5 859.4,592.6 861.3,591.9 861.4,591.9 862.8,591.4 864.1,590.9 865.4,590.4 866.8,589.9 866.9,589.9 868.8,589.2 871.5,588.2 872.5,587.8 874.9,586.9 878.2,585.6 878.9,585.3 883.8,583.4 884.3,583.2 889.4,581.2 891,580.5 895,578.9 897.8,577.7 900.7,576.5 906.3,574.2 911.9,571.9 917.5,569.7 923.2,567.4 928.8,565.2 934.4,563.1 940.1,561.1 945.7,559.2 951.3,557.4 956.9,555.7 962.6,554.2 968.2,552.8 973.8,551.6 979.4,550.5 985.1,549.7 990.7,549 996.3,548.6 1001.9,548.3 1007.6,548.3 1013.2,548.5 1018.8,548.9"/>
<path d="M715.3,611L720.7,611 726.1,611 731.5,611 736.9,611 742.3,611 747.7,610.9 753.1,610.8 758.6,610.6 764,610.4 769.4,610.1 774.8,609.7 780.2,609.3 785.6,608.7 791,608.1 796.4,607.4 801.9,606.6 807.3,605.7 812.7,604.6 818.1,603.5 823.5,602.3 828.9,601 830.5,600.6 834.3,599.5 837.2,598.7 839.7,598 843.9,596.7 845.2,596.3 849.3,595 850.6,594.6 853.3,593.7 856,592.8 856.7,592.5 859.4,591.6 861.4,590.9 861.4,590.9 862.8,590.4 864.1,589.9 865.4,589.4 866.8,588.9 866.8,588.9 868.8,588.1 871.5,587.1 872.2,586.8 874.9,585.8 877.6,584.7 878.9,584.2 883,582.6 884.3,582.1 888.5,580.4 891,579.4 893.9,578.2 897.8,576.6 899.3,576 904.7,573.7 910.1,571.5 915.5,569.3 920.9,567.1 926.3,565 931.8,562.9 937.2,561 942.6,559.1 948,557.3 953.4,555.6 958.8,554 964.2,552.6 969.6,551.3 975.1,550.2 980.5,549.2 985.9,548.5 991.3,547.9 996.7,547.5 1002.1,547.2 1007.5,547.2 1012.9,547.4"/>
<path d="M721.1,611L726.3,611 731.5,611 736.7,611 741.9,610.9 747.1,610.9 752.3,610.7 757.5,610.6 762.7,610.3 767.9,610.1 773.1,609.7 778.3,609.3 783.5,608.8 788.7,608.2 793.9,607.6 799.1,606.8 804.3,606 809.5,605 814.7,604 819.9,602.9 825.1,601.6 830.3,600.3 830.5,600.3 835.5,598.9 837.2,598.4 840.7,597.4 843.9,596.4 845.9,595.8 849.3,594.7 851.1,594.1 853.3,593.3 856.3,592.3 856.7,592.2 859.4,591.2 861.4,590.5 861.5,590.5 862.8,590 864.1,589.5 865.4,589 866.7,588.6 866.8,588.5 868.8,587.8 871.5,586.8 871.9,586.6 874.9,585.5 877.1,584.6 878.9,583.9 882.3,582.5 884.3,581.7 887.5,580.4 891,579 892.7,578.3 897.8,576.2 897.9,576.1 903.1,574 908.3,571.8 913.5,569.7 918.7,567.6 923.9,565.6 929.1,563.6 934.3,561.6 939.5,559.7 944.7,558 949.9,556.3 955.1,554.7 960.3,553.2 965.5,551.9 970.7,550.7 975.9,549.7 981.1,548.8 986.3,548.1 991.5,547.5 996.7,547.1 1001.9,546.9 1007.1,546.9"/>
<path d="M650.9,566.2L658.6,570.3 666.4,574.8 674.2,579.7 681.9,584.9 689.7,590.5 697.4,596.4 705.2,602.6 712.9,609.1 720.7,615.9 728.4,622.9 736.2,630.2 743.9,637.6 751.7,645.2 759.4,653 767.2,661 774.9,669 782.7,677.2 790.4,685.5 798.2,693.9 806,702.4 813.7,710.9 821.5,719.5 823.7,722 825.7,724.2 827.8,726.5 829.2,728.1 829.8,728.7 830.5,729.5 831.8,731 833.8,733.2 835.8,735.4 837,736.7 837.2,736.9 837.9,737.6 839.9,739.8 841.9,741.9 843.9,743.9 844.7,744.7 845.9,745.8 847.9,747.6 849.3,748.7 850,749.3 852,750.9 852.5,751.2 853.3,751.9 854,752.4 856,753.8 856.7,754.3 858,755.4 859.4,756.5 860.1,757.1 860.2,757.2 861.4,758.3 862.1,758.9 862.8,759.6 864.1,760.1 865.4,759.6 866.1,758.9 866.8,758.3 868,757.2 868.1,757.1 868.8,756.5 870.2,755.4 871.5,754.3 872.2,753.8 874.2,752.4 874.9,751.9 875.7,751.2 876.2,750.9 878.2,749.3 878.9,748.8 880.3,747.6 882.3,745.9 883.5,744.7 884.3,744 884.3,744 886.3,742 888.3,739.9 890.3,737.8 891,737.1 891.2,736.8 892.4,735.6 894.4,733.4 896.4,731.3 897.8,729.8 898.4,729.1 899,728.5 900.4,726.9 902.5,724.7 904.5,722.6 906.7,720.2 914.5,712 922.2,704.1 930,696.5 937.8,689.1 945.5,682 953.3,675.2 961,668.7 968.8,662.6 976.5,656.9 984.3,651.5 992,646.6 999.8,642 1007.5,637.8 1015.3,634 1023,630.5 1030.8,627.5 1038.5,624.7 1046.3,622.4 1054,620.3 1061.8,618.6 1069.6,617.2 1077.3,616"/>
</g>
<path d="M683,759.8C684.1,758.6 687.1,754.7 689.6,752.5C692.1,750.3 695.1,748 698.3,746.4C701.4,744.8 704.9,743.6 708.5,742.6C712.1,741.6 715.8,741 720.2,740.5C724.6,740 729.9,739.8 734.8,739.7C739.7,739.6 744.9,739.6 749.4,739.7C753.9,739.8 759.7,740.3 761.8,740.4" stroke="#00A2A6" stroke-width="5.2"/>
<path d="M761.8,740.4C764.6,740.6 772.1,740.9 778.5,741.6C784.9,742.3 793.1,743.4 800.4,744.5C807.7,745.6 815,746.7 822.3,748.5C829.6,750.3 837.1,752.6 844.1,755.4C851.1,758.1 860.8,763.4 864.1,765" stroke="#00FF00" stroke-width="5.2"/>
<path d="M864.1,765C867,762.8 874.8,756.4 881.2,752C887.6,747.6 894.2,743.5 902.4,738.8C910.6,734.1 921.2,727.8 930.6,724C940,720.2 949.4,717.9 958.8,715.9C968.2,713.9 977.7,712.7 987.1,711.7C996.5,710.8 1005.9,710.3 1015.3,710.2C1024.7,710.1 1033.1,710.6 1043.5,711.3C1053.9,711.9 1072.1,713.6 1077.8,714.1" stroke="#00FF00" stroke-width="5.2"/>
<path d="M653.8,518.2C653.9,520.3 654.2,526.5 654.7,530.6C655.2,534.7 655.8,539.1 656.5,542.9C657.2,546.7 658.1,550.3 659.1,553.5C660.1,556.7 661.1,559.4 662.6,562.3C664.1,565.2 665.7,568.3 667.9,571.1C670.1,573.9 673.2,576.9 675.9,579.1C678.5,581.3 682.5,583.5 683.8,584.4" stroke="#00FF00" stroke-width="5.2"/>
<path d="M864.1,777.4 V504.5" stroke="#6a6a6a" stroke-width="1.3" stroke-dasharray="5.4 5.66" opacity="0.9"/>
</g>
<path d="M648.7,776.2v-1.3M648.7,504.5v1.3M662.2,776.2v-2.6M662.2,504.5v2.6M675.7,776.2v-1.3M675.7,504.5v1.3M689.1,776.2v-1.3M689.1,504.5v1.3M702.6,776.2v-1.3M702.6,504.5v1.3M716,776.2v-1.3M716,504.5v1.3M729.5,776.2v-2.6M729.5,504.5v2.6M743,776.2v-1.3M743,504.5v1.3M756.4,776.2v-1.3M756.4,504.5v1.3M769.9,776.2v-1.3M769.9,504.5v1.3M783.3,776.2v-1.3M783.3,504.5v1.3M796.8,776.2v-2.6M796.8,504.5v2.6M810.3,776.2v-1.3M810.3,504.5v1.3M823.7,776.2v-1.3M823.7,504.5v1.3M837.2,776.2v-1.3M837.2,504.5v1.3M850.6,776.2v-1.3M850.6,504.5v1.3M864.1,776.2v-2.6M864.1,504.5v2.6M877.6,776.2v-1.3M877.6,504.5v1.3M891,776.2v-1.3M891,504.5v1.3M904.5,776.2v-1.3M904.5,504.5v1.3M917.9,776.2v-1.3M917.9,504.5v1.3M931.4,776.2v-2.6M931.4,504.5v2.6M944.9,776.2v-1.3M944.9,504.5v1.3M958.3,776.2v-1.3M958.3,504.5v1.3M971.8,776.2v-1.3M971.8,504.5v1.3M985.2,776.2v-1.3M985.2,504.5v1.3M998.7,776.2v-2.6M998.7,504.5v2.6M1012.2,776.2v-1.3M1012.2,504.5v1.3M1025.6,776.2v-1.3M1025.6,504.5v1.3M1039.1,776.2v-1.3M1039.1,504.5v1.3M1052.5,776.2v-1.3M1052.5,504.5v1.3M1066,776.2v-2.6M1066,504.5v2.6M1079.5,776.2v-1.3M1079.5,504.5v1.3M644.6,764.2h2.6M644.6,751.9h1.3M644.6,739.5h1.3M644.6,727.2h1.3M644.6,714.8h1.3M644.6,702.5h2.6M644.6,690.1h1.3M644.6,677.8h1.3M644.6,665.4h1.3M644.6,653.1h1.3M644.6,640.7h2.6M644.6,628.4h1.3M644.6,616h1.3M644.6,603.7h1.3M644.6,591.3h1.3M644.6,579h2.6M644.6,566.6h1.3M644.6,554.2h1.3M644.6,541.9h1.3M644.6,529.5h1.3M644.6,517.2h2.6M644.6,504.8h1.3M1082.9,764.2h-2.6M1082.9,751.9h-1.3M1082.9,739.5h-1.3M1082.9,727.2h-1.3M1082.9,714.8h-1.3M1082.9,702.5h-2.6M1082.9,690.1h-1.3M1082.9,677.8h-1.3M1082.9,665.4h-1.3M1082.9,653.1h-1.3M1082.9,640.7h-2.6M1082.9,628.4h-1.3M1082.9,616h-1.3M1082.9,603.7h-1.3M1082.9,591.3h-1.3M1082.9,579h-2.6M1082.9,566.6h-1.3M1082.9,554.2h-1.3M1082.9,541.9h-1.3M1082.9,529.5h-1.3M1082.9,517.2h-2.6M1082.9,504.8h-1.3" stroke="#777" stroke-width="0.8" fill="none"/>
<rect x="643.1" y="503" width="441.3" height="274.7" fill="none" stroke="#000" stroke-width="3.0"/>
<text class="k" x="660.3" y="803.5" font-size="23" text-anchor="middle">−3</text>
<text class="k" x="727.6" y="803.5" font-size="23" text-anchor="middle">−2</text>
<text class="k" x="794.9" y="803.5" font-size="23" text-anchor="middle">−1</text>
<text class="k" x="864.1" y="803.5" font-size="23" text-anchor="middle">0</text>
<text class="k" x="931.4" y="803.5" font-size="23" text-anchor="middle">1</text>
<text class="k" x="998.7" y="803.5" font-size="23" text-anchor="middle">2</text>
<text class="k" x="1066" y="803.5" font-size="23" text-anchor="middle">3</text>
<text class="k" x="638.6" y="772.4" font-size="23" text-anchor="end">0</text>
<text class="k" x="638.6" y="710.7" font-size="23" text-anchor="end">1</text>
<text class="k" x="638.6" y="648.9" font-size="23" text-anchor="end">2</text>
<text class="k" x="638.6" y="587.2" font-size="23" text-anchor="end">3</text>
<text class="k" x="638.6" y="525.4" font-size="23" text-anchor="end">4</text>
<text class="ki" x="847.6" y="843.2" font-size="29">k<tspan font-size="23.5" dy="5.3">x</tspan></text>
<text class="k" font-size="31" text-anchor="middle" transform="translate(613.2,639.2) rotate(-90)">Ω</text>
</g>
<g id="panel-f">
<g clip-path="url(#cpf)" fill="none" stroke-linejoin="round">
<g stroke="#FF7F00" stroke-width="2.7">
<path d="M1198,539.9L1205.7,545.4 1213.5,551.3 1221.3,557.7 1229.1,564.4 1236.8,571.5 1244.6,579 1252.4,586.7 1260.2,594.7 1267.9,602.9 1275.7,611.2 1283.5,619.7 1291.3,628.4 1299,637.1 1306.8,645.9 1314.6,654.7 1322.4,663.6 1330.2,672.5 1337.9,681.3 1345.7,690.2 1353.5,699 1361.3,707.8 1369,716.6 1376.8,725.4 1378,726.8 1384.6,734.1 1384.8,734.4 1391.5,742 1392.4,742.9 1397,748.1 1400.1,751.8 1401,752.8 1404.4,756.9 1407.1,760.1 1407.9,761.1 1409.1,762.5 1410.5,764.1 1411.8,765.6 1413.1,764.1 1414.5,762.5 1415.7,761.1 1416.5,760.1 1419.2,756.9 1422.6,752.9 1423.5,751.9 1426.6,748.2 1431.2,743 1432,742.1 1438.8,734.8 1439,734.5 1445.5,727.6 1446.8,726.2 1454.6,718.2 1462.3,710.3 1470.1,702.8 1477.9,695.6 1485.7,688.8 1493.4,682.4 1501.2,676.4 1509,670.8 1516.8,665.8 1524.6,661.1 1532.3,657 1540.1,653.3 1547.9,650.1 1555.7,647.4 1563.4,645.1 1571.2,643.2 1579,641.8 1586.8,640.7 1594.5,639.9 1602.3,639.5 1610.1,639.4 1617.9,639.4 1625.6,639.7"/>
<path d="M1190.7,535.2L1198.7,540.4 1206.7,546.1 1214.7,552.3 1222.8,558.9 1230.8,566 1238.8,573.4 1246.9,581.2 1254.9,589.3 1262.9,597.6 1271,606.1 1279,614.8 1287,623.6 1295.1,632.6 1303.1,641.6 1311.1,650.7 1319.1,659.7 1327.2,668.9 1335.2,678 1343.2,687 1351.3,696.1 1359.3,705.1 1367.3,714 1375.4,722.9 1378,725.9 1383.4,731.7 1384.8,733.2 1391.4,740.2 1391.5,740.3 1397,745.6 1399.5,747.9 1401,749.2 1404.4,751.6 1407.1,753 1407.5,753.1 1409.1,753.6 1410.5,753.7 1411.8,753.7 1413.1,753.7 1414.5,753.6 1415.5,753.3 1416.5,753 1419.2,751.6 1422.6,749.2 1423.5,748.4 1426.6,745.6 1431.6,740.9 1432,740.4 1438.8,733.5 1439.6,732.6 1445.5,726.5 1447.6,724.3 1455.7,716.2 1463.7,708.3 1471.7,700.7 1479.8,693.4 1487.8,686.5 1495.8,680 1503.9,674 1511.9,668.5 1519.9,663.5 1527.9,659 1536,655 1544,651.5 1552,648.5 1560.1,646 1568.1,643.9 1576.1,642.2 1584.2,641 1592.2,640.1 1600.2,639.6 1608.3,639.4 1616.3,639.4 1624.3,639.7 1632.3,640.1"/>
<path d="M1190.7,535.6L1198.7,540.8 1206.7,546.5 1214.7,552.7 1222.8,559.3 1230.8,566.3 1238.8,573.7 1246.9,581.5 1254.9,589.5 1262.9,597.8 1271,606.3 1279,614.9 1287,623.7 1295.1,632.5 1303.1,641.4 1311.1,650.3 1319.1,659.2 1327.2,668.1 1335.2,676.9 1343.2,685.7 1351.3,694.4 1359.3,703 1367.3,711.5 1375.4,719.7 1378,722.3 1383.4,727.5 1384.8,728.8 1391.4,734.6 1391.5,734.7 1397,738.6 1399.5,740.1 1401,740.9 1404.4,742.2 1407.1,742.7 1407.5,742.8 1409.1,742.9 1410.5,742.9 1411.8,742.8 1413.1,742.9 1414.5,742.8 1415.5,742.8 1416.5,742.6 1419.2,742 1422.6,740.7 1423.5,740.2 1426.6,738.4 1431.6,734.9 1432,734.5 1438.8,728.7 1439.6,727.9 1445.5,722.5 1447.6,720.5 1455.7,712.9 1463.7,705.4 1471.7,698.1 1479.8,691 1487.8,684.3 1495.8,678 1503.9,672.1 1511.9,666.7 1519.9,661.9 1527.9,657.6 1536,653.8 1544,650.4 1552,647.5 1560.1,645.1 1568.1,643.2 1576.1,641.6 1584.2,640.4 1592.2,639.6 1600.2,639.1 1608.3,638.9 1616.3,639 1624.3,639.2 1632.3,639.7"/>
<path d="M1190.7,537L1198.7,542.1 1206.7,547.7 1214.7,553.8 1222.8,560.3 1230.8,567.3 1238.8,574.6 1246.9,582.3 1254.9,590.2 1262.9,598.4 1271,606.8 1279,615.2 1287,623.8 1295.1,632.4 1303.1,641 1311.1,649.6 1319.1,658.2 1327.2,666.7 1335.2,675.2 1343.2,683.5 1351.3,691.7 1359.3,699.6 1367.3,707.3 1375.4,714.5 1378,716.9 1383.4,721.2 1384.8,722.3 1391.4,726.9 1391.5,727 1397,729.7 1399.5,730.7 1401,731.2 1404.4,731.9 1407.1,732.2 1407.5,732.2 1409.1,732.2 1410.5,732.1 1411.8,732 1413.1,732 1414.5,732.1 1415.5,732 1416.5,731.9 1419.2,731.6 1422.6,730.7 1423.5,730.4 1426.6,729.1 1431.6,726.5 1432,726.2 1438.8,721.4 1439.6,720.8 1445.5,716.1 1447.6,714.4 1455.7,707.5 1463.7,700.6 1471.7,693.7 1479.8,687.1 1487.8,680.6 1495.8,674.5 1503.9,668.8 1511.9,663.5 1519.9,659 1527.9,654.9 1536,651.3 1544,648.1 1552,645.4 1560.1,643.2 1568.1,641.4 1576.1,639.9 1584.2,638.9 1592.2,638.1 1600.2,637.7 1608.3,637.5 1616.3,637.7 1624.3,638 1632.3,638.5"/>
<path d="M1190.7,539.1L1198.7,544.1 1206.7,549.6 1214.7,555.6 1222.8,562 1230.8,568.8 1238.8,576 1246.9,583.5 1254.9,591.3 1262.9,599.3 1271,607.5 1279,615.7 1287,624 1295.1,632.3 1303.1,640.5 1311.1,648.7 1319.1,656.8 1327.2,664.9 1335.2,672.8 1343.2,680.6 1351.3,688.1 1359.3,695.2 1367.3,702 1375.4,708.2 1378,710.2 1383.4,713.7 1384.8,714.6 1391.4,718.2 1391.5,718.3 1397,720.2 1399.5,720.9 1401,721.2 1404.4,721.6 1407.1,721.7 1407.5,721.7 1409.1,721.6 1410.5,721.4 1411.8,721.3 1413.1,721.3 1414.5,721.3 1415.5,721.3 1416.5,721.3 1419.2,721 1422.6,720.3 1423.5,720.1 1426.6,719 1431.6,717 1432,716.8 1438.8,712.8 1439.6,712.2 1445.5,708.2 1447.6,706.7 1455.7,700.6 1463.7,694.3 1471.7,687.9 1479.8,681.6 1487.8,675.5 1495.8,669.7 1503.9,664.3 1511.9,659.2 1519.9,654.9 1527.9,651 1536,647.6 1544,644.7 1552,642.2 1560.1,640.1 1568.1,638.5 1576.1,637.2 1584.2,636.3 1592.2,635.6 1600.2,635.3 1608.3,635.2 1616.3,635.5 1624.3,635.9 1632.3,636.6"/>
<path d="M1190.7,542.2L1198.7,547 1206.7,552.4 1214.7,558.2 1222.8,564.4 1230.8,571 1238.8,578 1246.9,585.3 1254.9,592.8 1262.9,600.5 1271,608.4 1279,616.3 1287,624.2 1295.1,632.1 1303.1,639.9 1311.1,647.6 1319.1,655.3 1327.2,662.7 1335.2,670 1343.2,677.1 1351.3,683.8 1359.3,690.2 1367.3,696 1375.4,701.3 1378,702.9 1383.4,705.7 1384.8,706.4 1391.4,709.2 1391.5,709.3 1397,710.6 1399.5,711.1 1401,711.2 1404.4,711.4 1407.1,711.3 1407.5,711.3 1409.1,711.1 1410.5,711 1411.8,710.8 1413.1,710.8 1414.5,710.8 1415.5,710.7 1416.5,710.7 1419.2,710.4 1422.6,709.8 1423.5,709.6 1426.6,708.7 1431.6,707 1432,706.8 1438.8,703.3 1439.6,702.8 1445.5,699.3 1447.6,697.9 1455.7,692.5 1463.7,686.7 1471.7,680.8 1479.8,675 1487.8,669.3 1495.8,663.8 1503.9,658.6 1511.9,653.7 1519.9,649.7 1527.9,646.1 1536,642.9 1544,640.2 1552,637.9 1560.1,636.1 1568.1,634.6 1576.1,633.5 1584.2,632.7 1592.2,632.2 1600.2,632 1608.3,632.1 1616.3,632.5 1624.3,633.1 1632.3,633.9"/>
<path d="M1190.7,545.9L1198.7,550.6 1206.7,555.8 1214.7,561.4 1222.8,567.4 1230.8,573.7 1238.8,580.4 1246.9,587.4 1254.9,594.7 1262.9,602.1 1271,609.6 1279,617.1 1287,624.6 1295.1,632 1303.1,639.3 1311.1,646.5 1319.1,653.5 1327.2,660.4 1335.2,667 1343.2,673.3 1351.3,679.2 1359.3,684.7 1367.3,689.7 1375.4,694 1378,695.3 1383.4,697.6 1384.8,698.1 1391.4,700.2 1391.5,700.2 1397,701.1 1399.5,701.3 1401,701.4 1404.4,701.4 1407.1,701.2 1407.5,701.1 1409.1,700.9 1410.5,700.7 1411.8,700.5 1413.1,700.4 1414.5,700.4 1415.5,700.3 1416.5,700.2 1419.2,699.9 1422.6,699.4 1423.5,699.2 1426.6,698.3 1431.6,696.8 1432,696.6 1438.8,693.4 1439.6,693 1445.5,689.8 1447.6,688.5 1455.7,683.6 1463.7,678.3 1471.7,672.8 1479.8,667.4 1487.8,662 1495.8,656.8 1503.9,651.9 1511.9,647.3 1519.9,643.5 1527.9,640.2 1536,637.2 1544,634.7 1552,632.7 1560.1,631 1568.1,629.8 1576.1,628.8 1584.2,628.3 1592.2,628 1600.2,627.9 1608.3,628.2 1616.3,628.7 1624.3,629.5 1632.3,630.5"/>
<path d="M1190.7,550.4L1198.7,554.9 1206.7,559.8 1214.7,565.2 1222.8,570.9 1230.8,576.9 1238.8,583.3 1246.9,590 1254.9,596.9 1262.9,603.9 1271,611 1279,618.1 1287,625.1 1295.1,632 1303.1,638.8 1311.1,645.3 1319.1,651.7 1327.2,657.9 1335.2,663.7 1343.2,669.3 1351.3,674.4 1359.3,679.1 1367.3,683.2 1375.4,686.7 1378,687.7 1383.4,689.4 1384.8,689.8 1391.4,691.3 1391.5,691.3 1397,691.8 1399.5,691.8 1401,691.8 1404.4,691.6 1407.1,691.3 1407.5,691.2 1409.1,690.9 1410.5,690.7 1411.8,690.4 1413.1,690.3 1414.5,690.2 1415.5,690.1 1416.5,690 1419.2,689.7 1422.6,689.1 1423.5,688.8 1426.6,688 1431.6,686.5 1432,686.3 1438.8,683.4 1439.6,683 1445.5,679.9 1447.6,678.8 1455.7,674.2 1463.7,669.2 1471.7,664.1 1479.8,659 1487.8,653.9 1495.8,649 1503.9,644.4 1511.9,640 1519.9,636.5 1527.9,633.4 1536,630.7 1544,628.4 1552,626.6 1560.1,625.1 1568.1,624.1 1576.1,623.4 1584.2,623 1592.2,622.9 1600.2,623 1608.3,623.5 1616.3,624.3 1624.3,625.3 1632.3,626.5"/>
<path d="M1190.7,555.5L1198.7,559.8 1206.7,564.4 1214.7,569.5 1222.8,574.9 1230.8,580.6 1238.8,586.7 1246.9,593 1254.9,599.4 1262.9,606 1271,612.7 1279,619.2 1287,625.7 1295.1,632.1 1303.1,638.2 1311.1,644.1 1319.1,649.9 1327.2,655.3 1335.2,660.5 1343.2,665.3 1351.3,669.6 1359.3,673.5 1367.3,676.8 1375.4,679.4 1378,680.2 1383.4,681.4 1384.8,681.7 1391.4,682.6 1391.5,682.6 1397,682.7 1399.5,682.6 1401,682.5 1404.4,682.1 1407.1,681.7 1407.5,681.6 1409.1,681.3 1410.5,681 1411.8,680.7 1413.1,680.5 1414.5,680.4 1415.5,680.2 1416.5,680.1 1419.2,679.7 1422.6,679 1423.5,678.7 1426.6,677.9 1431.6,676.3 1432,676.2 1438.8,673.3 1439.6,672.9 1445.5,670 1447.6,668.9 1455.7,664.5 1463.7,659.8 1471.7,655 1479.8,650.1 1487.8,645.3 1495.8,640.7 1503.9,636.2 1511.9,632.1 1519.9,628.8 1527.9,625.9 1536,623.4 1544,621.4 1552,619.7 1560.1,618.5 1568.1,617.7 1576.1,617.2 1584.2,617 1592.2,617.1 1600.2,617.5 1608.3,618.2 1616.3,619.2 1624.3,620.4 1632.3,621.9"/>
<path d="M1190.7,561.2L1198.7,565.2 1206.7,569.5 1214.7,574.3 1222.8,579.4 1230.8,584.7 1238.8,590.3 1246.9,596.3 1254.9,602.3 1262.9,608.4 1271,614.5 1279,620.6 1287,626.5 1295.1,632.3 1303.1,637.8 1311.1,643.1 1319.1,648.1 1327.2,652.9 1335.2,657.3 1343.2,661.3 1351.3,664.9 1359.3,667.9 1367.3,670.5 1375.4,672.4 1378,672.9 1383.4,673.7 1384.8,673.8 1391.4,674.3 1391.5,674.3 1397,674 1399.5,673.8 1401,673.6 1404.4,673 1407.1,672.4 1407.5,672.3 1409.1,672 1410.5,671.6 1411.8,671.2 1413.1,671 1414.5,670.8 1415.5,670.7 1416.5,670.5 1419.2,669.9 1422.6,669.1 1423.5,668.9 1426.6,668 1431.6,666.3 1432,666.2 1438.8,663.3 1439.6,662.9 1445.5,660 1447.6,659 1455.7,654.7 1463.7,650.2 1471.7,645.5 1479.8,640.9 1487.8,636.3 1495.8,631.8 1503.9,627.6 1511.9,623.7 1519.9,620.5 1527.9,617.9 1536,615.6 1544,613.7 1552,612.3 1560.1,611.3 1568.1,610.7 1576.1,610.4 1584.2,610.4 1592.2,610.8 1600.2,611.4 1608.3,612.3 1616.3,613.6 1624.3,615.1 1632.3,616.9"/>
<path d="M1190.7,567.3L1198.7,571 1206.7,575.1 1214.7,579.5 1222.8,584.2 1230.8,589.1 1238.8,594.3 1246.9,599.8 1254.9,605.4 1262.9,611 1271,616.6 1279,622.1 1287,627.4 1295.1,632.6 1303.1,637.5 1311.1,642.1 1319.1,646.5 1327.2,650.5 1335.2,654.2 1343.2,657.5 1351.3,660.3 1359.3,662.6 1367.3,664.4 1375.4,665.7 1378,665.9 1383.4,666.3 1384.8,666.3 1391.4,666.2 1391.5,666.2 1397,665.6 1399.5,665.3 1401,665 1404.4,664.2 1407.1,663.6 1407.5,663.5 1409.1,663 1410.5,662.6 1411.8,662.2 1413.1,661.9 1414.5,661.6 1415.5,661.4 1416.5,661.2 1419.2,660.5 1422.6,659.6 1423.5,659.3 1426.6,658.3 1431.6,656.6 1432,656.4 1438.8,653.5 1439.6,653.1 1445.5,650.2 1447.6,649.1 1455.7,644.9 1463.7,640.5 1471.7,635.9 1479.8,631.4 1487.8,627 1495.8,622.7 1503.9,618.6 1511.9,614.9 1519.9,611.9 1527.9,609.4 1536,607.3 1544,605.6 1552,604.3 1560.1,603.5 1568.1,603.1 1576.1,603 1584.2,603.3 1592.2,603.9 1600.2,604.8 1608.3,606 1616.3,607.5 1624.3,609.3 1632.3,611.4"/>
<path d="M1190.7,573.8L1198.7,577.1 1206.7,580.9 1214.7,584.9 1222.8,589.2 1230.8,593.8 1238.8,598.6 1246.9,603.6 1254.9,608.7 1262.9,613.8 1271,618.8 1279,623.7 1287,628.5 1295.1,633.1 1303.1,637.3 1311.1,641.3 1319.1,645 1327.2,648.3 1335.2,651.3 1343.2,653.8 1351.3,655.9 1359.3,657.6 1367.3,658.7 1375.4,659.2 1378,659.3 1383.4,659.2 1384.8,659.2 1391.4,658.6 1391.5,658.6 1397,657.7 1399.5,657.2 1401,656.8 1404.4,655.9 1407.1,655.1 1407.5,655 1409.1,654.5 1410.5,654 1411.8,653.5 1413.1,653.2 1414.5,652.9 1415.5,652.6 1416.5,652.3 1419.2,651.6 1422.6,650.5 1423.5,650.2 1426.6,649.1 1431.6,647.2 1432,647 1438.8,643.9 1439.6,643.5 1445.5,640.6 1447.6,639.5 1455.7,635.3 1463.7,630.9 1471.7,626.4 1479.8,621.9 1487.8,617.6 1495.8,613.4 1503.9,609.5 1511.9,605.9 1519.9,603 1527.9,600.6 1536,598.7 1544,597.1 1552,596 1560.1,595.4 1568.1,595.2 1576.1,595.3 1584.2,595.9 1592.2,596.7 1600.2,597.8 1608.3,599.3 1616.3,601.1 1624.3,603.3 1632.3,605.7"/>
<path d="M1191.8,580.9L1199.8,584 1207.8,587.4 1215.8,591.1 1223.8,595 1231.8,599.2 1239.8,603.5 1247.8,608.1 1255.8,612.6 1263.8,617.2 1271.8,621.6 1279.8,626 1287.8,630.1 1295.8,634 1303.8,637.6 1311.8,640.9 1319.8,643.9 1327.8,646.5 1335.8,648.7 1343.8,650.6 1351.8,652 1359.8,652.9 1367.8,653.3 1375.8,653.2 1378,653.1 1383.8,652.5 1384.8,652.4 1391.5,651.4 1391.8,651.4 1397,650.2 1399.8,649.4 1401,649.1 1404.4,648 1407.1,647.1 1407.8,646.8 1409.1,646.4 1410.5,645.9 1411.8,645.3 1413.1,644.9 1414.5,644.5 1415.8,644.1 1416.5,643.9 1419.2,643 1422.6,641.8 1423.8,641.3 1426.6,640.2 1431.8,638.1 1432,638 1438.8,634.7 1439.8,634.2 1445.5,631.3 1447.8,630.1 1455.8,625.8 1463.8,621.4 1471.8,616.9 1479.8,612.5 1487.8,608.2 1495.8,604.2 1503.8,600.4 1511.8,596.8 1519.8,594.1 1527.8,591.8 1535.8,589.9 1543.8,588.5 1551.8,587.6 1559.8,587.1 1567.8,587.1 1575.8,587.4 1583.8,588.1 1591.8,589.1 1599.8,590.5 1607.8,592.2 1615.8,594.3 1623.8,596.8 1631.8,599.5"/>
<path d="M1197.7,589.6L1205.5,592.5 1213.3,595.7 1221.1,599.1 1228.9,602.7 1236.6,606.4 1244.4,610.3 1252.2,614.2 1260,618.2 1267.8,622.1 1275.6,625.8 1283.4,629.4 1291.1,632.8 1298.9,635.8 1306.7,638.6 1314.5,641.1 1322.3,643.3 1330.1,645.1 1337.8,646.6 1345.6,647.6 1353.4,648.2 1361.2,648.4 1369,648.1 1376.8,647.4 1378,647.2 1384.6,646.2 1384.8,646.1 1391.5,644.7 1392.3,644.5 1397,643.1 1400.1,642.1 1401,641.8 1404.4,640.6 1407.1,639.5 1407.9,639.2 1409.1,638.7 1410.5,638.2 1411.8,637.6 1413.1,637.1 1414.5,636.6 1415.7,636.2 1416.5,635.9 1419.2,634.9 1422.6,633.5 1423.5,633.2 1426.6,631.8 1431.3,629.7 1432,629.4 1438.8,625.9 1439,625.8 1445.5,622.4 1446.8,621.7 1454.6,617.4 1462.4,613 1470.2,608.6 1478,604.3 1485.8,600.1 1493.5,596.1 1501.3,592.4 1509.1,589 1516.9,586.1 1524.7,583.7 1532.5,581.8 1540.2,580.4 1548,579.4 1555.8,578.8 1563.6,578.7 1571.4,579 1579.2,579.6 1587,580.8 1594.7,582.1 1602.5,583.8 1610.3,585.9 1618.1,588.3 1625.9,591.1"/>
<path d="M1203.6,598.1L1211.2,600.8 1218.7,603.6 1226.3,606.7 1233.9,609.8 1241.5,613.2 1249,616.5 1256.6,619.9 1264.2,623.2 1271.7,626.4 1279.3,629.5 1286.9,632.3 1294.5,635 1302,637.3 1309.6,639.3 1317.2,641.1 1324.7,642.5 1332.3,643.6 1339.9,644.3 1347.4,644.6 1355,644.6 1362.6,644.1 1370.2,643.2 1377.7,641.9 1378,641.8 1384.8,640.3 1385.3,640.1 1391.5,638.4 1392.9,638 1397,636.6 1400.4,635.3 1401,635 1404.4,633.7 1407.1,632.5 1408,632.1 1409.1,631.6 1410.5,631 1411.8,630.4 1413.1,629.8 1414.5,629.3 1415.6,628.8 1416.5,628.4 1419.2,627.3 1422.6,625.8 1423.2,625.5 1426.6,623.9 1430.7,621.9 1432,621.2 1438.3,617.9 1438.8,617.6 1445.5,613.9 1445.9,613.7 1453.4,609.4 1461,605.1 1468.6,600.7 1476.2,596.5 1483.7,592.3 1491.3,588.4 1498.9,584.7 1506.4,581.3 1514,578.2 1521.6,575.9 1529.1,573.9 1536.7,572.3 1544.3,571.2 1551.9,570.6 1559.4,570.3 1567,570.6 1574.6,571.1 1582.1,572.1 1589.7,573.5 1597.3,575.2 1604.9,577.2 1612.4,579.6 1620,582.4"/>
<path d="M1209.5,606.1L1216.9,608.5 1224.2,611 1231.6,613.7 1238.9,616.5 1246.3,619.3 1253.6,622.2 1261,625 1268.3,627.7 1275.7,630.2 1283.1,632.6 1290.4,634.8 1297.8,636.7 1305.1,638.4 1312.5,639.7 1319.8,640.7 1327.2,641.5 1334.6,641.9 1341.9,642 1349.3,641.6 1356.6,641 1364,639.9 1371.3,638.5 1378,636.9 1378.7,636.7 1384.8,634.9 1386.1,634.5 1391.5,632.6 1393.4,631.9 1397,630.5 1400.8,628.9 1401,628.8 1404.4,627.3 1407.1,626 1408.1,625.5 1409.1,625 1410.5,624.3 1411.8,623.6 1413.1,623 1414.5,622.4 1415.5,622 1416.5,621.5 1419.2,620.2 1422.6,618.6 1422.8,618.4 1426.6,616.5 1430.2,614.6 1432,613.7 1437.5,610.6 1438.8,609.8 1444.9,606.3 1445.5,605.9 1452.3,602 1459.6,597.6 1467,593.3 1474.3,589.1 1481.7,585 1489,581.1 1496.4,577.4 1503.8,574 1511.1,570.9 1518.5,568.3 1525.8,566.3 1533.2,564.6 1540.5,563.4 1547.9,562.6 1555.3,562.2 1562.6,562.3 1570,562.8 1577.3,563.6 1584.7,564.9 1592,566.5 1599.4,568.5 1606.7,570.8 1614.1,573.5"/>
<path d="M1215.4,613.4L1222.5,615.6 1229.7,617.8 1236.8,620.1 1244,622.5 1251.1,624.8 1258.2,627.1 1265.4,629.4 1272.5,631.5 1279.7,633.5 1286.8,635.2 1294,636.7 1301.1,638 1308.2,639 1315.4,639.7 1322.5,640.2 1329.7,640.3 1336.8,640.1 1343.9,639.6 1351.1,638.7 1358.2,637.5 1365.4,636 1372.5,634.1 1378,632.3 1379.7,631.8 1384.8,630 1386.8,629.2 1391.5,627.4 1393.9,626.3 1397,625 1401,623.1 1401.1,623 1404.4,621.4 1407.1,620 1408.2,619.4 1409.1,618.9 1410.5,618.2 1411.8,617.5 1413.1,616.8 1414.5,616.1 1415.4,615.7 1416.5,615.1 1419.2,613.7 1422.5,612 1422.6,611.9 1426.6,609.7 1429.7,608 1432,606.7 1436.8,603.8 1438.8,602.6 1443.9,599.5 1445.5,598.5 1451.1,595.2 1458.2,590.8 1465.4,586.5 1472.5,582.2 1479.7,578.2 1486.8,574.2 1493.9,570.6 1501.1,567.1 1508.2,564 1515.4,561.3 1522.5,559.1 1529.6,557.3 1536.8,555.9 1543.9,555 1551.1,554.4 1558.2,554.3 1565.4,554.7 1572.5,555.4 1579.6,556.5 1586.8,558 1593.9,559.8 1601.1,562.1 1608.2,564.6"/>
<path d="M1221.3,620.1L1228.2,621.9 1235.1,623.8 1242.1,625.8 1249,627.7 1255.9,629.6 1262.8,631.4 1269.8,633.1 1276.7,634.7 1283.6,636.1 1290.6,637.3 1297.5,638.2 1304.4,638.9 1311.3,639.3 1318.3,639.5 1325.2,639.4 1332.1,639 1339.1,638.2 1346,637.2 1352.9,635.9 1359.8,634.2 1366.8,632.2 1373.7,629.9 1378,628.3 1380.6,627.3 1384.8,625.6 1387.6,624.4 1391.5,622.6 1394.5,621.2 1397,620 1401,617.9 1401.4,617.7 1404.4,616.1 1407.1,614.6 1408.3,613.9 1409.1,613.5 1410.5,612.7 1411.8,611.9 1413.1,611.2 1414.5,610.4 1415.3,610 1416.5,609.3 1419.2,607.8 1422.2,606.1 1422.6,605.9 1426.6,603.5 1429.1,602 1432,600.3 1436,597.8 1438.8,596.1 1443,593.4 1445.5,591.8 1449.9,589 1456.8,584.6 1463.8,580.3 1470.7,576.1 1477.6,572 1484.5,568.1 1491.5,564.4 1498.4,560.9 1505.3,557.8 1512.3,554.9 1519.2,552.6 1526.1,550.6 1533,549.1 1540,548 1546.9,547.2 1553.8,546.9 1560.8,547 1567.7,547.6 1574.6,548.5 1581.5,549.8 1588.5,551.5 1595.4,553.6 1602.3,556"/>
<path d="M1227.2,625.9L1233.9,627.5 1240.6,629.1 1247.3,630.6 1254,632.2 1260.7,633.6 1267.5,635 1274.2,636.2 1280.9,637.2 1287.6,638.1 1294.3,638.8 1301,639.2 1307.7,639.4 1314.4,639.3 1321.2,639 1327.9,638.4 1334.6,637.5 1341.3,636.3 1348,634.8 1354.7,633.1 1361.4,631 1368.2,628.7 1374.9,626.1 1378,624.7 1381.6,623.2 1384.8,621.7 1388.3,620 1391.5,618.4 1395,616.6 1397,615.6 1401,613.3 1401.7,612.9 1404.4,611.4 1407.1,609.8 1408.4,609 1409.1,608.6 1410.5,607.8 1411.8,607 1413.1,606.2 1414.5,605.4 1415.2,605 1416.5,604.2 1419.2,602.5 1421.9,600.9 1422.6,600.5 1426.6,598 1428.6,596.7 1432,594.5 1435.3,592.4 1438.8,590.1 1442,588 1445.5,585.7 1448.7,583.6 1455.4,579.2 1462.2,574.9 1468.9,570.7 1475.6,566.6 1482.3,562.6 1489,558.9 1495.7,555.4 1502.4,552.2 1509.2,549.3 1515.9,546.8 1522.6,544.7 1529.3,543 1536,541.7 1542.7,540.7 1549.4,540.2 1556.1,540.1 1562.9,540.4 1569.6,541.1 1576.3,542.2 1583,543.7 1589.7,545.5 1596.4,547.7"/>
<path d="M1233.1,631L1239.6,632.2 1246.1,633.5 1252.6,634.7 1259.1,635.8 1265.6,636.9 1272.1,637.8 1278.6,638.6 1285.1,639.2 1291.6,639.6 1298.1,639.8 1304.6,639.7 1311.1,639.5 1317.6,639 1324.1,638.2 1330.6,637.2 1337.1,635.9 1343.6,634.4 1350.1,632.5 1356.6,630.4 1363.1,628.1 1369.6,625.5 1376.1,622.6 1378,621.6 1382.6,619.5 1384.8,618.3 1389.1,616.1 1391.5,614.8 1395.6,612.5 1397,611.7 1401,609.3 1402.1,608.7 1404.4,607.3 1407.1,605.6 1408.6,604.7 1409.1,604.3 1410.5,603.5 1411.8,602.6 1413.1,601.8 1414.5,600.9 1415,600.6 1416.5,599.6 1419.2,597.9 1421.5,596.4 1422.6,595.7 1426.6,593.1 1428,592.2 1432,589.5 1434.5,587.8 1438.8,584.9 1441,583.4 1445.5,580.3 1447.5,579 1454,574.6 1460.5,570.3 1467,566 1473.5,561.9 1480,558 1486.5,554.3 1493,550.8 1499.5,547.5 1506,544.5 1512.5,541.9 1519,539.6 1525.5,537.7 1532,536.2 1538.5,535.1 1545,534.3 1551.5,534 1558,534 1564.5,534.5 1571,535.3 1577.5,536.5 1584,538.1 1590.5,540"/>
<path d="M1239,635.1L1245.2,636.1 1251.5,637.1 1257.8,637.9 1264.1,638.7 1270.4,639.4 1276.7,639.9 1282.9,640.3 1289.2,640.5 1295.5,640.5 1301.8,640.3 1308.1,639.9 1314.4,639.3 1320.7,638.4 1326.9,637.3 1333.2,635.9 1339.5,634.3 1345.8,632.4 1352.1,630.3 1358.4,628 1364.7,625.4 1370.9,622.5 1377.2,619.4 1378,619 1383.5,616.1 1384.8,615.5 1389.8,612.7 1391.5,611.6 1396.1,608.9 1397,608.4 1401,605.9 1402.4,605 1404.4,603.8 1407.1,602 1408.7,601 1409.1,600.7 1410.5,599.8 1411.8,598.9 1413.1,598 1414.5,597.1 1414.9,596.8 1416.5,595.8 1419.2,594 1421.2,592.6 1422.6,591.7 1426.6,588.9 1427.5,588.3 1432,585.2 1433.8,584 1438.8,580.5 1440.1,579.6 1445.5,575.7 1446.4,575.2 1452.7,570.8 1458.9,566.5 1465.2,562.3 1471.5,558.2 1477.8,554.3 1484.1,550.5 1490.4,547 1496.7,543.7 1502.9,540.6 1509.2,537.9 1515.5,535.5 1521.8,533.4 1528.1,531.7 1534.4,530.4 1540.7,529.4 1546.9,528.8 1553.2,528.6 1559.5,528.7 1565.8,529.3 1572.1,530.2 1578.4,531.5 1584.6,533.2"/>
<path d="M1244.8,638.5L1250.9,639.2 1257,639.8 1263.1,640.4 1269.1,640.9 1275.2,641.2 1281.3,641.4 1287.3,641.4 1293.4,641.3 1299.5,640.9 1305.6,640.4 1311.6,639.7 1317.7,638.7 1323.8,637.6 1329.8,636.2 1335.9,634.5 1342,632.7 1348.1,630.6 1354.1,628.2 1360.2,625.7 1366.3,622.9 1372.3,619.9 1378,616.9 1378.4,616.7 1384.5,613.3 1384.8,613.1 1390.6,609.7 1391.5,609.1 1396.6,605.9 1397,605.7 1401,603.1 1402.7,602 1404.4,600.9 1407.1,599.1 1408.8,597.9 1409.1,597.7 1410.5,596.8 1411.8,595.8 1413.1,594.9 1414.5,594 1414.8,593.8 1416.5,592.6 1419.2,590.7 1420.9,589.6 1422.6,588.4 1426.6,585.5 1427,585.3 1432,581.6 1433,580.9 1438.8,576.8 1439.1,576.6 1445.2,572.2 1445.5,571.9 1451.3,567.9 1457.3,563.6 1463.4,559.4 1469.5,555.4 1475.5,551.4 1481.6,547.7 1487.7,544.1 1493.8,540.8 1499.8,537.7 1505.9,534.9 1512,532.4 1518,530.1 1524.1,528.3 1530.2,526.7 1536.3,525.5 1542.3,524.7 1548.4,524.2 1554.5,524.1 1560.5,524.3 1566.6,524.9 1572.7,525.9 1578.8,527.2"/>
<path d="M1250.7,640.9L1256.6,641.4 1262.4,641.8 1268.3,642.1 1274.2,642.3 1280,642.3 1285.9,642.2 1291.7,642 1297.6,641.6 1303.4,641 1309.3,640.2 1315.2,639.2 1321,638 1326.9,636.6 1332.7,634.9 1338.6,633.1 1344.4,631 1350.3,628.8 1356.2,626.3 1362,623.6 1367.9,620.7 1373.7,617.6 1378,615.2 1379.6,614.3 1384.8,611.3 1385.4,610.9 1391.3,607.3 1391.5,607.1 1397,603.6 1397.2,603.5 1401,600.9 1403,599.6 1404.4,598.6 1407.1,596.8 1408.9,595.5 1409.1,595.4 1410.5,594.4 1411.8,593.5 1413.1,592.5 1414.5,591.6 1414.7,591.4 1416.5,590.1 1419.2,588.2 1420.6,587.2 1422.6,585.8 1426.4,583 1426.6,582.8 1432,578.9 1432.3,578.7 1438.2,574.4 1438.8,573.9 1444,570.1 1445.5,568.9 1449.9,565.8 1455.7,561.6 1461.6,557.5 1467.4,553.5 1473.3,549.6 1479.2,545.8 1485,542.3 1490.9,538.9 1496.7,535.8 1502.6,532.9 1508.4,530.3 1514.3,528 1520.2,525.9 1526,524.2 1531.9,522.8 1537.7,521.7 1543.6,521 1549.4,520.6 1555.3,520.5 1561.2,520.8 1567,521.4 1572.9,522.4"/>
<path d="M1256.6,642.6L1262.3,642.8 1267.9,643 1273.6,643.1 1279.2,643.1 1284.8,642.9 1290.5,642.6 1296.1,642.1 1301.8,641.4 1307.4,640.6 1313.1,639.6 1318.7,638.4 1324.3,637 1330,635.5 1335.6,633.7 1341.3,631.7 1346.9,629.5 1352.6,627.1 1358.2,624.6 1363.8,621.8 1369.5,618.8 1375.1,615.7 1378,614 1380.8,612.4 1384.8,610 1386.4,609 1391.5,605.7 1392.1,605.3 1397,602.1 1397.7,601.6 1401,599.4 1403.3,597.7 1404.4,597 1407.1,595.1 1409,593.8 1409.1,593.7 1410.5,592.7 1411.8,591.7 1413.1,590.8 1414.5,589.8 1414.6,589.7 1416.5,588.3 1419.2,586.4 1420.3,585.6 1422.6,583.9 1425.9,581.4 1426.6,580.9 1431.5,577.2 1432,576.9 1437.2,573 1438.8,571.8 1442.8,568.8 1445.5,566.8 1448.5,564.6 1454.1,560.5 1459.8,556.5 1465.4,552.5 1471,548.7 1476.7,545 1482.3,541.5 1488,538.1 1493.6,535 1499.3,532 1504.9,529.3 1510.5,526.9 1516.2,524.7 1521.8,522.8 1527.5,521.2 1533.1,519.9 1538.8,519 1544.4,518.3 1550,517.9 1555.7,517.9 1561.3,518.2 1567,518.9"/>
<path d="M1262.5,643.5L1267.9,643.6 1273.4,643.6 1278.8,643.5 1284.2,643.3 1289.7,643 1295.1,642.5 1300.5,641.8 1305.9,641 1311.4,640 1316.8,638.8 1322.2,637.5 1327.7,636 1333.1,634.3 1338.5,632.4 1343.9,630.4 1349.4,628.1 1354.8,625.7 1360.2,623.1 1365.7,620.3 1371.1,617.3 1376.5,614.2 1378,613.3 1381.9,610.9 1384.8,609.2 1387.4,607.5 1391.5,604.8 1392.8,604 1397,601.2 1398.2,600.3 1401,598.4 1403.7,596.5 1404.4,596 1407.1,594.1 1409.1,592.7 1409.1,592.7 1410.5,591.7 1411.8,590.7 1413.1,589.7 1414.5,588.7 1414.5,588.7 1416.5,587.3 1419.2,585.3 1419.9,584.7 1422.6,582.7 1425.4,580.7 1426.6,579.7 1430.8,576.6 1432,575.6 1436.2,572.5 1438.8,570.6 1441.7,568.4 1445.5,565.5 1447.1,564.3 1452.5,560.3 1457.9,556.4 1463.4,552.5 1468.8,548.8 1474.2,545.1 1479.7,541.7 1485.1,538.3 1490.5,535.2 1495.9,532.2 1501.4,529.5 1506.8,527 1512.2,524.7 1517.7,522.7 1523.1,520.9 1528.5,519.4 1533.9,518.2 1539.4,517.3 1544.8,516.7 1550.2,516.4 1555.7,516.3 1561.1,516.6"/>
<path d="M1268.4,643.8L1273.6,643.8 1278.8,643.7 1284,643.4 1289.3,643.1 1294.5,642.6 1299.7,642 1304.9,641.2 1310.1,640.3 1315.3,639.2 1320.5,637.9 1325.8,636.5 1331,634.9 1336.2,633.2 1341.4,631.3 1346.6,629.2 1351.8,626.9 1357,624.5 1362.3,621.9 1367.5,619.1 1372.7,616.2 1377.9,613.2 1378,613.1 1383.1,610 1384.8,608.9 1388.3,606.6 1391.5,604.5 1393.5,603.2 1397,600.9 1398.8,599.6 1401,598.1 1404,596 1404.4,595.7 1407.1,593.8 1409.1,592.3 1409.2,592.3 1410.5,591.4 1411.8,590.4 1413.1,589.4 1414.4,588.5 1414.5,588.4 1416.5,586.9 1419.2,584.9 1419.6,584.6 1422.6,582.4 1424.8,580.7 1426.6,579.3 1430.1,576.8 1432,575.2 1435.3,572.8 1438.8,570.1 1440.5,568.9 1445.5,565.1 1445.7,564.9 1450.9,561.1 1456.1,557.2 1461.3,553.5 1466.6,549.8 1471.8,546.3 1477,542.9 1482.2,539.6 1487.4,536.5 1492.6,533.5 1497.8,530.7 1503.1,528.2 1508.3,525.8 1513.5,523.7 1518.7,521.8 1523.9,520.1 1529.1,518.7 1534.3,517.6 1539.6,516.7 1544.8,516.1 1550,515.8 1555.2,515.8"/>
<path d="M1198,542.3L1205.7,547.8 1213.5,553.8 1221.3,560.3 1229.1,567.1 1236.8,574.3 1244.6,581.8 1252.4,589.6 1260.2,597.6 1267.9,605.8 1275.7,614.2 1283.5,622.7 1291.3,631.4 1299,640.1 1306.8,648.9 1314.6,657.7 1322.4,666.6 1330.2,675.5 1337.9,684.4 1345.7,693.2 1353.5,702.1 1361.3,710.9 1369,719.6 1371.3,722.2 1373.3,724.5 1375.3,726.8 1376.8,728.4 1377.4,729 1378,729.8 1379.4,731.3 1381.4,733.6 1383.5,735.8 1384.6,737 1384.8,737.3 1385.5,738 1387.5,740.2 1389.5,742.3 1391.5,744.3 1392.4,745.1 1393.6,746.2 1395.6,748 1397,749.2 1397.6,749.7 1399.6,751.3 1400.1,751.6 1401,752.3 1401.7,752.8 1403.7,754.3 1404.4,754.8 1405.7,755.8 1407.1,756.9 1407.8,757.5 1407.9,757.6 1409.1,758.7 1409.8,759.3 1410.5,760 1411.8,760.5 1413.1,760 1413.8,759.3 1414.5,758.7 1415.7,757.6 1415.8,757.5 1416.5,756.9 1417.9,755.8 1419.2,754.8 1419.9,754.3 1421.9,752.8 1422.6,752.3 1423.5,751.7 1424,751.3 1426,749.7 1426.6,749.2 1428,748.1 1430,746.3 1431.2,745.2 1432,744.4 1432,744.4 1434.1,742.5 1436.1,740.4 1438.1,738.3 1438.8,737.6 1439,737.4 1440.1,736.2 1442.2,734 1444.2,731.9 1445.5,730.5 1446.2,729.7 1446.8,729.1 1448.2,727.6 1450.3,725.5 1452.3,723.4 1454.6,721 1462.3,713.1 1470.1,705.6 1477.9,698.3 1485.7,691.4 1493.4,685 1501.2,678.9 1509,673.3 1516.8,668.1 1524.6,663.4 1532.3,659.2 1540.1,655.5 1547.9,652.3 1555.7,649.5 1563.4,647.1 1571.2,645.3 1579,643.8 1586.8,642.7 1594.5,641.9 1602.3,641.5 1610.1,641.4 1617.9,641.4 1625.6,641.7"/>
</g>
<path d="M1296,760.3C1298.9,759.9 1307.6,758.5 1313.4,757.8C1319.2,757.1 1324.9,756.5 1331.1,756C1337.2,755.5 1347.1,754.9 1350.3,754.7" stroke="#00A2A6" stroke-width="5.2"/>
<path d="M1350.3,754.7C1353.4,754.8 1362.9,754.8 1369,755.2C1375.1,755.6 1381.5,756.4 1386.7,757.2C1391.9,758.1 1395.9,758.9 1400.1,760.3C1404.3,761.7 1409.9,764.9 1411.9,765.8" stroke="#00FF00" stroke-width="5.2"/>
<path d="M1411.9,765.8C1413.2,764.4 1416.6,760.3 1419.4,757.6C1422.2,754.9 1425.7,752 1428.8,749.5C1431.9,747 1435.1,744.6 1438.2,742.3C1441.3,740 1444.4,737.8 1447.6,735.7C1450.8,733.7 1453.9,731.8 1457.1,730C1460.2,728.2 1463.4,726.4 1466.5,724.8C1469.6,723.1 1472.8,721.5 1475.9,720.1C1479,718.7 1482.2,717.5 1485.3,716.2C1488.4,715 1491.6,713.7 1494.7,712.6C1497.8,711.5 1501,710.6 1504.1,709.8C1507.2,709 1510.4,708.2 1513.5,707.6C1516.6,707 1520,706.6 1522.9,706.2C1525.8,705.8 1527,705.5 1531,705.3C1535,705 1541.2,704.7 1546.8,704.7C1552.4,704.8 1558.7,705.1 1564.6,705.6C1570.5,706.1 1576.5,706.9 1582.4,707.8C1588.3,708.7 1595,710 1600.2,711.1C1605.4,712.2 1609.3,713.3 1613.6,714.5C1617.9,715.7 1624.1,717.8 1626.2,718.5" stroke="#00FF00" stroke-width="5.2"/>
<path d="M1201.6,500C1201.7,501 1201.8,503.3 1202,506C1202.2,508.7 1202.5,512.5 1203,516C1203.5,519.5 1204.2,523.5 1205,527C1205.8,530.5 1206.8,533.8 1208,537C1209.2,540.2 1210.3,543 1212,546C1213.7,549 1215.7,552.3 1218,555C1220.3,557.7 1224.7,561.2 1226,562.4" stroke="#00FF00" stroke-width="5.2"/>
<path d="M1411.8,777.2 V506" stroke="#6a6a6a" stroke-width="1.3" stroke-dasharray="5.4 5.66" opacity="0.9"/>
</g>
<path d="M1195.8,776v-1.3M1195.8,506v1.3M1209.3,776v-2.6M1209.3,506v2.6M1222.8,776v-1.3M1222.8,506v1.3M1236.3,776v-1.3M1236.3,506v1.3M1249.8,776v-1.3M1249.8,506v1.3M1263.3,776v-1.3M1263.3,506v1.3M1276.8,776v-2.6M1276.8,506v2.6M1290.3,776v-1.3M1290.3,506v1.3M1303.8,776v-1.3M1303.8,506v1.3M1317.3,776v-1.3M1317.3,506v1.3M1330.8,776v-1.3M1330.8,506v1.3M1344.3,776v-2.6M1344.3,506v2.6M1357.8,776v-1.3M1357.8,506v1.3M1371.3,776v-1.3M1371.3,506v1.3M1384.8,776v-1.3M1384.8,506v1.3M1398.3,776v-1.3M1398.3,506v1.3M1411.8,776v-2.6M1411.8,506v2.6M1425.3,776v-1.3M1425.3,506v1.3M1438.8,776v-1.3M1438.8,506v1.3M1452.3,776v-1.3M1452.3,506v1.3M1465.8,776v-1.3M1465.8,506v1.3M1479.3,776v-2.6M1479.3,506v2.6M1492.8,776v-1.3M1492.8,506v1.3M1506.3,776v-1.3M1506.3,506v1.3M1519.8,776v-1.3M1519.8,506v1.3M1533.3,776v-1.3M1533.3,506v1.3M1546.8,776v-2.6M1546.8,506v2.6M1560.3,776v-1.3M1560.3,506v1.3M1573.8,776v-1.3M1573.8,506v1.3M1587.3,776v-1.3M1587.3,506v1.3M1600.8,776v-1.3M1600.8,506v1.3M1614.3,776v-2.6M1614.3,506v2.6M1627.8,776v-1.3M1627.8,506v1.3M1192,764.6h2.6M1192,752.3h1.3M1192,740h1.3M1192,727.6h1.3M1192,715.3h1.3M1192,703h2.6M1192,690.7h1.3M1192,678.4h1.3M1192,666h1.3M1192,653.7h1.3M1192,641.4h2.6M1192,629.1h1.3M1192,616.8h1.3M1192,604.4h1.3M1192,592.1h1.3M1192,579.8h2.6M1192,567.5h1.3M1192,555.2h1.3M1192,542.8h1.3M1192,530.5h1.3M1192,518.2h2.6M1631,764.6h-2.6M1631,752.3h-1.3M1631,740h-1.3M1631,727.6h-1.3M1631,715.3h-1.3M1631,703h-2.6M1631,690.7h-1.3M1631,678.4h-1.3M1631,666h-1.3M1631,653.7h-1.3M1631,641.4h-2.6M1631,629.1h-1.3M1631,616.8h-1.3M1631,604.4h-1.3M1631,592.1h-1.3M1631,579.8h-2.6M1631,567.5h-1.3M1631,555.2h-1.3M1631,542.8h-1.3M1631,530.5h-1.3M1631,518.2h-2.6" stroke="#777" stroke-width="0.8" fill="none"/>
<rect x="1190.5" y="504.5" width="442" height="273" fill="none" stroke="#000" stroke-width="3.0"/>
<text class="k" x="1207.4" y="803.8" font-size="23" text-anchor="middle">−3</text>
<text class="k" x="1274.9" y="803.8" font-size="23" text-anchor="middle">−2</text>
<text class="k" x="1342.4" y="803.8" font-size="23" text-anchor="middle">−1</text>
<text class="k" x="1411.8" y="803.8" font-size="23" text-anchor="middle">0</text>
<text class="k" x="1479.3" y="803.8" font-size="23" text-anchor="middle">1</text>
<text class="k" x="1546.8" y="803.8" font-size="23" text-anchor="middle">2</text>
<text class="k" x="1614.3" y="803.8" font-size="23" text-anchor="middle">3</text>
<text class="k" x="1186" y="772.8" font-size="23" text-anchor="end">0</text>
<text class="k" x="1186" y="711.2" font-size="23" text-anchor="end">1</text>
<text class="k" x="1186" y="649.6" font-size="23" text-anchor="end">2</text>
<text class="k" x="1186" y="588" font-size="23" text-anchor="end">3</text>
<text class="k" x="1186" y="526.4" font-size="23" text-anchor="end">4</text>
<text class="ki" x="1395.3" y="843.2" font-size="29">k<tspan font-size="23.5" dy="5.3">x</tspan></text>
<text class="k" font-size="31" text-anchor="middle" transform="translate(1160.6,639.9) rotate(-90)">Ω</text>
</g>
<g id="titles">
<text class="t" x="26.21" y="22.1" font-size="33" textLength="26.87" lengthAdjust="spacingAndGlyphs">a.</text>
<text class="t" x="106.94" y="22.1" font-size="28.7" textLength="30.56" lengthAdjust="spacingAndGlyphs" stroke="#000" stroke-width="0.7">ZE</text>
<text class="t" x="154.40" y="22.1" font-size="28.7" textLength="57.79" lengthAdjust="spacingAndGlyphs">with</text>
<text class="mri" x="226.85" y="22.1" font-size="31.5" textLength="18.35" lengthAdjust="spacingAndGlyphs" stroke="#000" stroke-width="0.55">γ</text>
<text class="mr" x="255.32" y="23.1" font-size="31.5" textLength="23.73" lengthAdjust="spacingAndGlyphs" stroke="#000" stroke-width="0.4">=</text>
<text class="m" x="287.13" y="22.1" font-size="31.5" textLength="19.97" lengthAdjust="spacingAndGlyphs">1</text>
<text class="t" x="320.92" y="22.1" font-size="28.7" textLength="50.75" lengthAdjust="spacingAndGlyphs">and</text>
<text class="mi" x="387.44" y="22.1" font-size="31.5" textLength="21.68" lengthAdjust="spacingAndGlyphs">D</text>
<text class="mr" x="418.78" y="23.1" font-size="31.5" textLength="24.22" lengthAdjust="spacingAndGlyphs" stroke="#000" stroke-width="0.4">=</text>
<text class="m" x="451.07" y="22.1" font-size="31.5" textLength="19.26" lengthAdjust="spacingAndGlyphs">0</text>
<text class="t" x="581.33" y="25.9" font-size="33" textLength="27.25" lengthAdjust="spacingAndGlyphs">b.</text>
<text class="t" x="655.24" y="25.9" font-size="28.7" textLength="30.56" lengthAdjust="spacingAndGlyphs" stroke="#000" stroke-width="0.7">ZE</text>
<text class="t" x="702.30" y="25.9" font-size="28.7" textLength="58.20" lengthAdjust="spacingAndGlyphs">with</text>
<text class="mri" x="775.46" y="25.9" font-size="31.5" textLength="18.05" lengthAdjust="spacingAndGlyphs" stroke="#000" stroke-width="0.55">γ</text>
<text class="mr" x="803.62" y="26.9" font-size="31.5" textLength="23.73" lengthAdjust="spacingAndGlyphs" stroke="#000" stroke-width="0.4">=</text>
<text class="m" x="835.54" y="25.9" font-size="31.5" textLength="19.30" lengthAdjust="spacingAndGlyphs">1</text>
<text class="t" x="869.72" y="25.9" font-size="28.7" textLength="50.22" lengthAdjust="spacingAndGlyphs">and</text>
<text class="mi" x="935.74" y="25.9" font-size="31.5" textLength="21.68" lengthAdjust="spacingAndGlyphs">D</text>
<text class="mr" x="967.08" y="26.9" font-size="31.5" textLength="24.22" lengthAdjust="spacingAndGlyphs" stroke="#000" stroke-width="0.4">=</text>
<text class="m" x="999.37" y="25.9" font-size="31.5" textLength="19.26" lengthAdjust="spacingAndGlyphs">0</text>
<text class="m" x="1019.32" y="25.9" font-size="31.5" textLength="5.55" lengthAdjust="spacingAndGlyphs">.</text>
<text class="m" x="1030.24" y="25.9" font-size="31.5" textLength="19.30" lengthAdjust="spacingAndGlyphs">1</text>
<text class="mi" x="1054.50" y="31.5" font-size="40" textLength="14.60" lengthAdjust="spacingAndGlyphs" stroke="#000" stroke-width="0.5">J</text>
<text class="t" x="1147.66" y="23.5" font-size="33" textLength="23.68" lengthAdjust="spacingAndGlyphs">c.</text>
<text class="t" x="1201.64" y="23.5" font-size="28.7" textLength="30.87" lengthAdjust="spacingAndGlyphs" stroke="#000" stroke-width="0.7">ZE</text>
<text class="t" x="1248.70" y="23.5" font-size="28.7" textLength="58.20" lengthAdjust="spacingAndGlyphs">with</text>
<text class="mri" x="1321.85" y="23.5" font-size="31.5" textLength="18.55" lengthAdjust="spacingAndGlyphs" stroke="#000" stroke-width="0.55">γ</text>
<text class="mr" x="1350.02" y="24.5" font-size="31.5" textLength="23.73" lengthAdjust="spacingAndGlyphs" stroke="#000" stroke-width="0.4">=</text>
<text class="m" x="1382.01" y="23.5" font-size="31.5" textLength="19.44" lengthAdjust="spacingAndGlyphs">1</text>
<text class="t" x="1416.22" y="23.5" font-size="28.7" textLength="50.32" lengthAdjust="spacingAndGlyphs">and</text>
<text class="mi" x="1482.43" y="23.5" font-size="31.5" textLength="21.17" lengthAdjust="spacingAndGlyphs">D</text>
<text class="mr" x="1513.68" y="24.5" font-size="31.5" textLength="24.22" lengthAdjust="spacingAndGlyphs" stroke="#000" stroke-width="0.4">=</text>
<text class="m" x="1546.19" y="23.5" font-size="31.5" textLength="19.02" lengthAdjust="spacingAndGlyphs">0</text>
<text class="m" x="1565.89" y="23.5" font-size="31.5" textLength="5.10" lengthAdjust="spacingAndGlyphs">.</text>
<text class="m" x="1578.14" y="23.5" font-size="31.5" textLength="17.12" lengthAdjust="spacingAndGlyphs">2</text>
<text class="mi" x="1601.00" y="29.1" font-size="40" textLength="14.32" lengthAdjust="spacingAndGlyphs" stroke="#000" stroke-width="0.5">J</text>
<text class="t" x="25.94" y="476" font-size="33" textLength="28.10" lengthAdjust="spacingAndGlyphs">d.</text>
<text class="t" x="108.69" y="476" font-size="28.7" textLength="32.72" lengthAdjust="spacingAndGlyphs" stroke="#000" stroke-width="0.7">BE</text>
<text class="t" x="157.80" y="476" font-size="28.7" textLength="58.10" lengthAdjust="spacingAndGlyphs">with</text>
<text class="mri" x="231.46" y="476" font-size="31.5" textLength="17.95" lengthAdjust="spacingAndGlyphs" stroke="#000" stroke-width="0.55">γ</text>
<text class="mr" x="259.51" y="477" font-size="31.5" textLength="23.86" lengthAdjust="spacingAndGlyphs" stroke="#000" stroke-width="0.4">=</text>
<text class="m" x="291.31" y="476" font-size="31.5" textLength="19.44" lengthAdjust="spacingAndGlyphs">1</text>
<text class="t" x="325.12" y="476" font-size="28.7" textLength="50.64" lengthAdjust="spacingAndGlyphs">and</text>
<text class="mi" x="391.63" y="476" font-size="31.5" textLength="21.37" lengthAdjust="spacingAndGlyphs">D</text>
<text class="mr" x="422.56" y="477" font-size="31.5" textLength="24.46" lengthAdjust="spacingAndGlyphs" stroke="#000" stroke-width="0.4">=</text>
<text class="m" x="455.37" y="476" font-size="31.5" textLength="19.26" lengthAdjust="spacingAndGlyphs">0</text>
<text class="t" x="580.71" y="479.9" font-size="33" textLength="27.09" lengthAdjust="spacingAndGlyphs">e.</text>
<text class="t" x="654.69" y="479.9" font-size="28.7" textLength="32.83" lengthAdjust="spacingAndGlyphs" stroke="#000" stroke-width="0.7">BE</text>
<text class="t" x="704.00" y="479.9" font-size="28.7" textLength="58.20" lengthAdjust="spacingAndGlyphs">with</text>
<text class="mri" x="777.15" y="479.9" font-size="31.5" textLength="18.55" lengthAdjust="spacingAndGlyphs" stroke="#000" stroke-width="0.55">γ</text>
<text class="mr" x="805.32" y="480.9" font-size="31.5" textLength="23.73" lengthAdjust="spacingAndGlyphs" stroke="#000" stroke-width="0.4">=</text>
<text class="m" x="837.24" y="479.9" font-size="31.5" textLength="19.30" lengthAdjust="spacingAndGlyphs">1</text>
<text class="t" x="871.42" y="479.9" font-size="28.7" textLength="50.22" lengthAdjust="spacingAndGlyphs">and</text>
<text class="mi" x="937.44" y="479.9" font-size="31.5" textLength="21.68" lengthAdjust="spacingAndGlyphs">D</text>
<text class="mr" x="968.78" y="480.9" font-size="31.5" textLength="24.22" lengthAdjust="spacingAndGlyphs" stroke="#000" stroke-width="0.4">=</text>
<text class="m" x="1001.07" y="479.9" font-size="31.5" textLength="19.26" lengthAdjust="spacingAndGlyphs">0</text>
<text class="m" x="1021.02" y="479.9" font-size="31.5" textLength="5.55" lengthAdjust="spacingAndGlyphs">.</text>
<text class="m" x="1031.94" y="479.9" font-size="31.5" textLength="19.30" lengthAdjust="spacingAndGlyphs">1</text>
<text class="mi" x="1056.20" y="485.5" font-size="40" textLength="14.32" lengthAdjust="spacingAndGlyphs" stroke="#000" stroke-width="0.5">J</text>
<text class="t" x="1153.62" y="477.3" font-size="33" textLength="19.44" lengthAdjust="spacingAndGlyphs">f.</text>
<text class="t" x="1203.28" y="477.3" font-size="28.7" textLength="32.83" lengthAdjust="spacingAndGlyphs" stroke="#000" stroke-width="0.7">BE</text>
<text class="t" x="1252.50" y="477.3" font-size="28.7" textLength="58.10" lengthAdjust="spacingAndGlyphs">with</text>
<text class="mri" x="1325.65" y="477.3" font-size="31.5" textLength="18.15" lengthAdjust="spacingAndGlyphs" stroke="#000" stroke-width="0.55">γ</text>
<text class="mr" x="1353.93" y="478.3" font-size="31.5" textLength="23.61" lengthAdjust="spacingAndGlyphs" stroke="#000" stroke-width="0.4">=</text>
<text class="m" x="1385.79" y="477.3" font-size="31.5" textLength="19.57" lengthAdjust="spacingAndGlyphs">1</text>
<text class="t" x="1420.02" y="477.3" font-size="28.7" textLength="50.32" lengthAdjust="spacingAndGlyphs">and</text>
<text class="mi" x="1486.23" y="477.3" font-size="31.5" textLength="21.17" lengthAdjust="spacingAndGlyphs">D</text>
<text class="mr" x="1517.48" y="478.3" font-size="31.5" textLength="24.22" lengthAdjust="spacingAndGlyphs" stroke="#000" stroke-width="0.4">=</text>
<text class="m" x="1549.99" y="477.3" font-size="31.5" textLength="19.02" lengthAdjust="spacingAndGlyphs">0</text>
<text class="m" x="1569.69" y="477.3" font-size="31.5" textLength="5.10" lengthAdjust="spacingAndGlyphs">.</text>
<text class="m" x="1581.94" y="477.3" font-size="31.5" textLength="17.12" lengthAdjust="spacingAndGlyphs">2</text>
<text class="mi" x="1604.80" y="482.9" font-size="40" textLength="14.32" lengthAdjust="spacingAndGlyphs" stroke="#000" stroke-width="0.5">J</text>
</g>
</svg>
</body></html>
